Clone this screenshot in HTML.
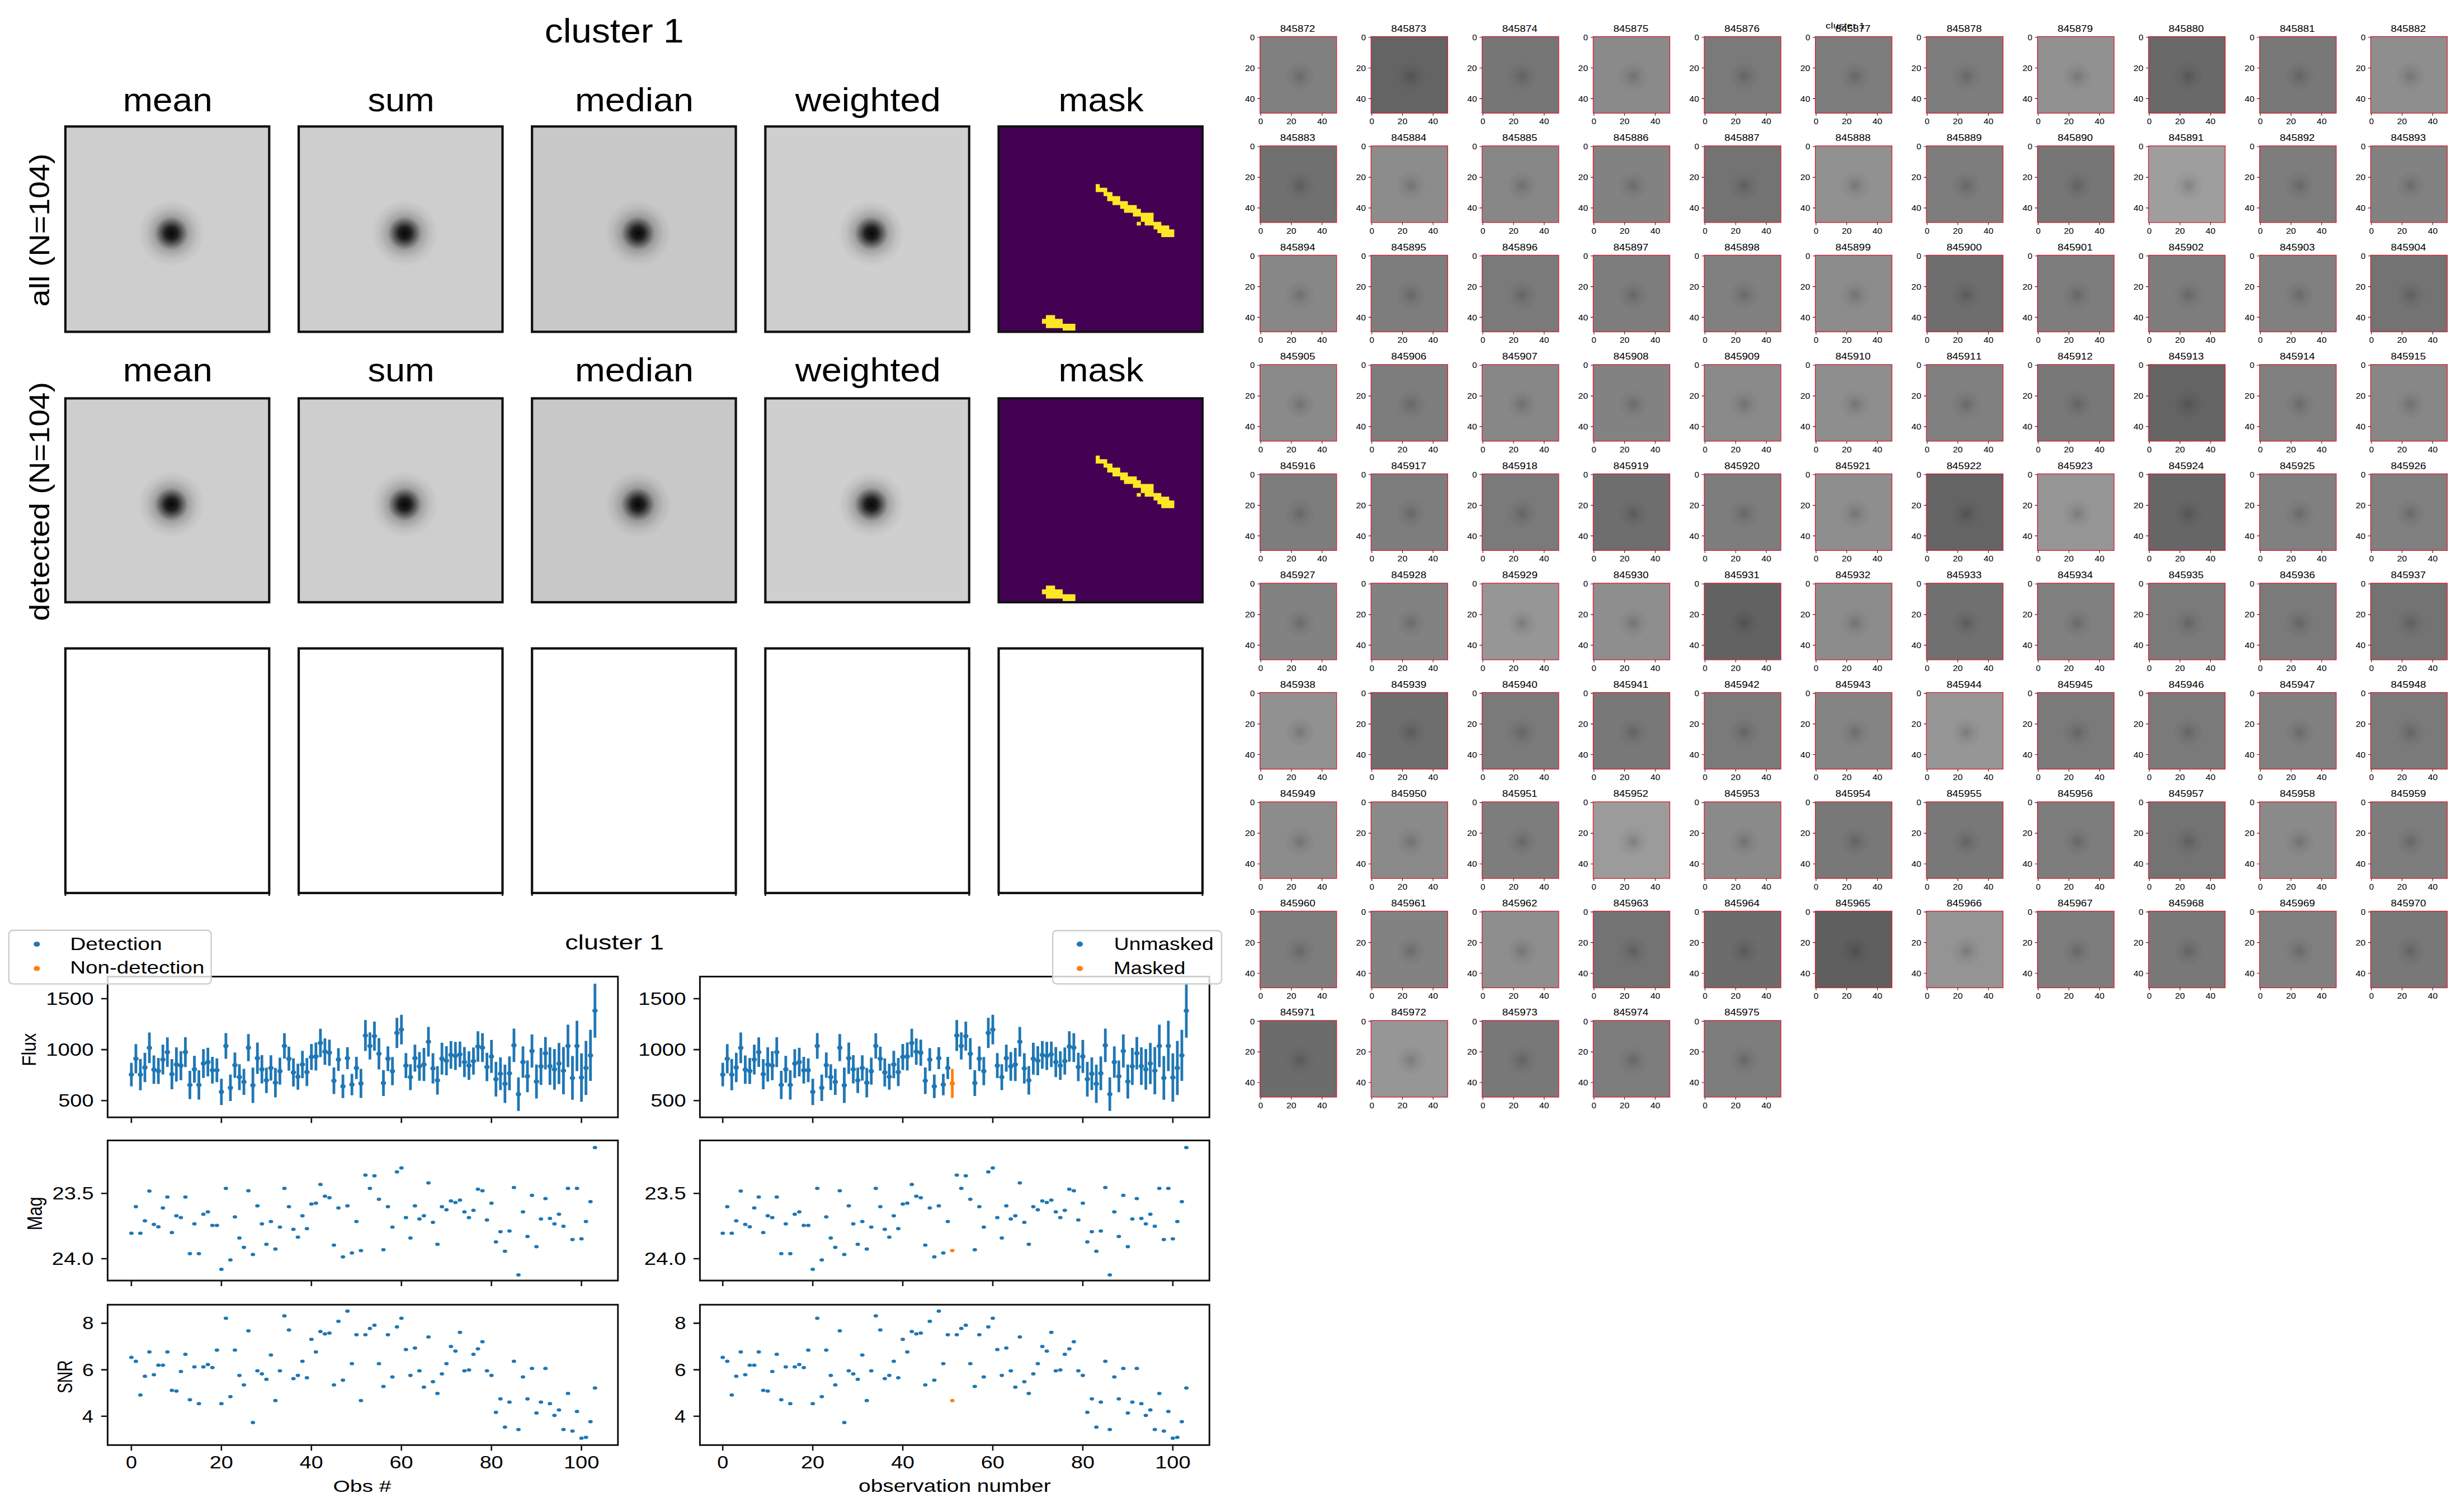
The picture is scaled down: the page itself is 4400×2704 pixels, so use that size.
<!DOCTYPE html><html><head><meta charset="utf-8"><style>html,body{margin:0;padding:0;background:#fff;overflow:hidden}svg{display:block}text{font-family:"Liberation Sans",sans-serif;font-kerning:none}</style></head><body>
<svg width="4400" height="2704" viewBox="0 0 4400 2704">
<rect width="4400" height="2704" fill="#fff"/>
<defs>
<radialGradient id="blob" cx="0.5" cy="0.5" r="0.5"><stop offset="0" stop-color="#000" stop-opacity="0.97"/><stop offset="0.18" stop-color="#000" stop-opacity="0.85"/><stop offset="0.33" stop-color="#000" stop-opacity="0.55"/><stop offset="0.5" stop-color="#000" stop-opacity="0.22"/><stop offset="0.75" stop-color="#000" stop-opacity="0.07"/><stop offset="1" stop-color="#000" stop-opacity="0"/></radialGradient>
<radialGradient id="tblob" cx="0.5" cy="0.5" r="0.5"><stop offset="0" stop-color="#000" stop-opacity="0.18"/><stop offset="0.5" stop-color="#000" stop-opacity="0.06"/><stop offset="1" stop-color="#000" stop-opacity="0"/></radialGradient>
</defs>
<text transform="translate(973.7,75.75) scale(1.0884,1)" font-size="60.52">cluster 1</text>
<text transform="translate(219.7,199) scale(1.0783,1)" font-size="59.33">mean</text>
<rect x="116.9" y="226.2" width="364.4" height="367.2" fill="rgb(206,206,206)"/>
<circle cx="306.39" cy="417.14" r="60" fill="url(#blob)"/>
<rect x="116.9" y="226.2" width="364.4" height="367.2" fill="none" stroke="#111" stroke-width="4.2"/>
<text transform="translate(657.41,199) scale(1.0648,1)" font-size="59.33">sum</text>
<rect x="534.05" y="226.2" width="364.4" height="367.2" fill="rgb(206,206,206)"/>
<circle cx="723.54" cy="417.14" r="60" fill="url(#blob)"/>
<rect x="534.05" y="226.2" width="364.4" height="367.2" fill="none" stroke="#111" stroke-width="4.2"/>
<text transform="translate(1027.95,199) scale(1.0823,1)" font-size="59.77">median</text>
<rect x="951.2" y="226.2" width="364.4" height="367.2" fill="rgb(200,200,200)"/>
<circle cx="1140.69" cy="417.14" r="60" fill="url(#blob)"/>
<rect x="951.2" y="226.2" width="364.4" height="367.2" fill="none" stroke="#111" stroke-width="4.2"/>
<text transform="translate(1421.82,199) scale(1.0866,1)" font-size="59.77">weighted</text>
<rect x="1368.35" y="226.2" width="364.4" height="367.2" fill="rgb(207,207,207)"/>
<circle cx="1557.84" cy="417.14" r="60" fill="url(#blob)"/>
<rect x="1368.35" y="226.2" width="364.4" height="367.2" fill="none" stroke="#111" stroke-width="4.2"/>
<text transform="translate(1892.57,199) scale(1.0641,1)" font-size="59.77">mask</text>
<rect x="1785.5" y="226.2" width="364.4" height="367.2" fill="#440154"/>
<path d="M1959.08 329.34H1966.22V343.53H1959.08ZM1966.22 335.79H1979.54V343.53H1966.22ZM1973.1 343.53H1989V350.83H1973.1ZM1979.54 350.83H2002.75V359.86H1979.54ZM1989 359.86H2016.51V366.74H1989ZM2002.75 366.74H2032.41V373.61H2002.75ZM2009.63 373.61H2039.72V380.49H2009.63ZM2025.53 380.49H2062.5V387.37H2025.53ZM2039.72 387.37H2062.5V396.82H2039.72ZM2032.41 396.82H2039.72V403.27H2032.41ZM2046.59 396.82H2076.25V403.27H2046.59ZM2062.5 403.27H2090.43V410.15H2062.5ZM2069.37 410.15H2099.46V417.02H2069.37ZM2076.25 417.02H2099.46V423.9H2076.25ZM1869.99 563.41H1886.32V570.23H1869.99ZM1862.92 570.23H1899.98V579.01H1862.92ZM1869.99 579.01H1899.98V586.81H1869.99ZM1899.98 579.01H1922.65V591.69H1899.98Z" fill="#fde725"/>
<rect x="1785.5" y="226.2" width="364.4" height="367.2" fill="none" stroke="#111" stroke-width="4.2"/>
<text transform="translate(219.7,682.4) scale(1.0783,1)" font-size="59.33">mean</text>
<rect x="116.9" y="712.4" width="364.4" height="364.6" fill="rgb(206,206,206)"/>
<circle cx="306.39" cy="901.99" r="60" fill="url(#blob)"/>
<rect x="116.9" y="712.4" width="364.4" height="364.6" fill="none" stroke="#111" stroke-width="4.2"/>
<text transform="translate(657.41,682.4) scale(1.0648,1)" font-size="59.33">sum</text>
<rect x="534.05" y="712.4" width="364.4" height="364.6" fill="rgb(206,206,206)"/>
<circle cx="723.54" cy="901.99" r="60" fill="url(#blob)"/>
<rect x="534.05" y="712.4" width="364.4" height="364.6" fill="none" stroke="#111" stroke-width="4.2"/>
<text transform="translate(1027.95,682.4) scale(1.0823,1)" font-size="59.77">median</text>
<rect x="951.2" y="712.4" width="364.4" height="364.6" fill="rgb(200,200,200)"/>
<circle cx="1140.69" cy="901.99" r="60" fill="url(#blob)"/>
<rect x="951.2" y="712.4" width="364.4" height="364.6" fill="none" stroke="#111" stroke-width="4.2"/>
<text transform="translate(1421.82,682.4) scale(1.0866,1)" font-size="59.77">weighted</text>
<rect x="1368.35" y="712.4" width="364.4" height="364.6" fill="rgb(207,207,207)"/>
<circle cx="1557.84" cy="901.99" r="60" fill="url(#blob)"/>
<rect x="1368.35" y="712.4" width="364.4" height="364.6" fill="none" stroke="#111" stroke-width="4.2"/>
<text transform="translate(1892.57,682.4) scale(1.0641,1)" font-size="59.77">mask</text>
<rect x="1785.5" y="712.4" width="364.4" height="364.6" fill="#440154"/>
<path d="M1959.08 814.81H1966.22V828.89H1959.08ZM1966.22 821.21H1979.54V828.89H1966.22ZM1973.1 828.89H1989V836.15H1973.1ZM1979.54 836.15H2002.75V845.11H1979.54ZM1989 845.11H2016.51V851.94H1989ZM2002.75 851.94H2032.41V858.77H2002.75ZM2009.63 858.77H2039.72V865.6H2009.63ZM2025.53 865.6H2062.5V872.42H2025.53ZM2039.72 872.42H2062.5V881.81H2039.72ZM2032.41 881.81H2039.72V888.22H2032.41ZM2046.59 881.81H2076.25V888.22H2046.59ZM2062.5 888.22H2090.43V895.04H2062.5ZM2069.37 895.04H2099.46V901.87H2069.37ZM2076.25 901.87H2099.46V908.7H2076.25ZM1869.99 1047.22H1886.32V1054H1869.99ZM1862.92 1054H1899.98V1062.71H1862.92ZM1869.99 1062.71H1899.98V1070.46H1869.99ZM1899.98 1062.71H1922.65V1075.3H1899.98Z" fill="#fde725"/>
<rect x="1785.5" y="712.4" width="364.4" height="364.6" fill="none" stroke="#111" stroke-width="4.2"/>
<rect x="116.9" y="1159.6" width="364.4" height="437.4" fill="none" stroke="#111" stroke-width="4.2"/>
<path d="M116.9 1597V1602M481.3 1597V1602" stroke="#111" stroke-width="3"/>
<rect x="534.05" y="1159.6" width="364.4" height="437.4" fill="none" stroke="#111" stroke-width="4.2"/>
<path d="M534.05 1597V1602M898.45 1597V1602" stroke="#111" stroke-width="3"/>
<rect x="951.2" y="1159.6" width="364.4" height="437.4" fill="none" stroke="#111" stroke-width="4.2"/>
<path d="M951.2 1597V1602M1315.6 1597V1602" stroke="#111" stroke-width="3"/>
<rect x="1368.35" y="1159.6" width="364.4" height="437.4" fill="none" stroke="#111" stroke-width="4.2"/>
<path d="M1368.35 1597V1602M1732.75 1597V1602" stroke="#111" stroke-width="3"/>
<rect x="1785.5" y="1159.6" width="364.4" height="437.4" fill="none" stroke="#111" stroke-width="4.2"/>
<path d="M1785.5 1597V1602M2149.9 1597V1602" stroke="#111" stroke-width="3"/>
<g transform="translate(87.6,0) rotate(-90)"><text transform="translate(-548.26,0) scale(1.1267,1)" font-size="49.41">all (N=104)</text></g>
<g transform="translate(87.6,0) rotate(-90)"><text transform="translate(-1110.51,0) scale(1.0972,1)" font-size="50.23">detected (N=104)</text></g>
<path d="M234.9 1900.73V1942.85M242.95 1867.24V1919.42M250.99 1893.79V1949.78M259.04 1882.8V1935.32M267.09 1846.51V1901.32M275.13 1887.6V1938.18M283.18 1892.05V1938.55M291.23 1868.3V1921.41M299.28 1855.35V1907.88M307.32 1893.99V1948.06M315.37 1873.08V1934.33M323.42 1879.77V1931.63M331.46 1854.95V1908.27M339.51 1914.92V1965.5M347.56 1888.36V1936.34M355.61 1913.99V1966.43M363.65 1876.29V1927.66M371.7 1873.65V1925.03M379.75 1890.11V1937.82M387.79 1892.73V1935.2M395.84 1929.21V1976.16M403.89 1847.48V1893.45M411.93 1921.85V1968.88M419.98 1882.28V1927.41M428.03 1903.16V1949.39M436.08 1911.55V1958.09M444.12 1849.37V1897.77M452.17 1909.14V1972.6M460.22 1864.39V1920.43M468.26 1887.11V1937.59M476.31 1909.25V1954.82M484.36 1887.36V1932.42M492.4 1909.86V1962.52M500.45 1891.44V1939.7M508.5 1847.75V1893.17M516.55 1871.8V1914.86M524.59 1892.77V1943.09M532.64 1902.29V1948.78M540.69 1879.24V1928.16M548.73 1892V1942.29M556.78 1867.1V1913.39M564.83 1864.18V1914.43M572.87 1839.76V1890.57M580.92 1856.93V1904.32M588.97 1859.26V1905.92M597.01 1909.08V1956.39M605.06 1874.5V1915.21M613.11 1921.84V1963.8M621.16 1872.82V1912M629.2 1920.42V1958.68M637.25 1889.99V1929.79M645.3 1911.51V1963.58M653.34 1824.21V1879.48M661.39 1846.18V1894.75M669.44 1826.91V1879.07M677.49 1856.62V1912.45M685.53 1913.69V1960.05M693.58 1871.22V1915.44M701.63 1890.29V1940.84M709.67 1820.16V1874.24M717.72 1814.71V1867.8M725.77 1883.33V1928.07M733.81 1903.16V1949.39M741.86 1868.34V1916.48M749.91 1881.56V1932.66M757.96 1874.06V1933.35M766 1836.5V1889.51M774.05 1883.62V1937.8M782.1 1906.48V1957.59M790.14 1864.82V1921.84M798.19 1871.03V1922.9M806.24 1861.77V1911.15M814.28 1863.22V1913.5M822.33 1862.66V1908.35M830.38 1872.49V1926.19M838.43 1880.06V1931.34M846.47 1873.29V1921.83M854.52 1844.29V1898.72M862.57 1847.79V1899.35M870.61 1882.87V1933.59M878.66 1859.76V1918.85M886.71 1898.88V1960.93M894.75 1890.95V1949.57M902.8 1903.92V1972.51M910.85 1889.15V1949.82M918.89 1839.56V1899.27M926.94 1926.82V1986.64M934.99 1871.21V1927.47M943.04 1896.44V1953.15M951.08 1849.98V1909.29M959.13 1903.87V1964.39M967.18 1874.09V1940.13M975.22 1854.56V1912.58M983.27 1872.91V1940.18M991.32 1875.94V1948.76M999.37 1865.14V1938.8M1007.41 1872.62V1956.91M1015.46 1832.54V1908.39M1023.51 1888.61V1966.87M1031.55 1825.55V1915.38M1039.6 1883.76V1970.26M1047.65 1861.57V1958.21M1055.69 1841.77V1933.05M1063.74 1759.25V1855.8" stroke="#1f77b4" stroke-width="4.8" fill="none"/>
<ellipse cx="234.9" cy="1921.79" rx="4.8" ry="4.0" fill="#1f77b4"/>
<ellipse cx="234.9" cy="2205.61" rx="4.0" ry="3.0" fill="#1f77b4"/>
<ellipse cx="234.9" cy="2427.57" rx="4.0" ry="3.0" fill="#1f77b4"/>
<ellipse cx="242.95" cy="1893.33" rx="4.8" ry="4.0" fill="#1f77b4"/>
<ellipse cx="242.95" cy="2157.94" rx="4.0" ry="3.0" fill="#1f77b4"/>
<ellipse cx="242.95" cy="2434.58" rx="4.0" ry="3.0" fill="#1f77b4"/>
<ellipse cx="250.99" cy="1921.79" rx="4.8" ry="4.0" fill="#1f77b4"/>
<ellipse cx="250.99" cy="2205.61" rx="4.0" ry="3.0" fill="#1f77b4"/>
<ellipse cx="250.99" cy="2494.86" rx="4.0" ry="3.0" fill="#1f77b4"/>
<ellipse cx="259.04" cy="1909.06" rx="4.8" ry="4.0" fill="#1f77b4"/>
<ellipse cx="259.04" cy="2183.18" rx="4.0" ry="3.0" fill="#1f77b4"/>
<ellipse cx="259.04" cy="2461.21" rx="4.0" ry="3.0" fill="#1f77b4"/>
<ellipse cx="267.09" cy="1873.91" rx="4.8" ry="4.0" fill="#1f77b4"/>
<ellipse cx="267.09" cy="2129.91" rx="4.0" ry="3.0" fill="#1f77b4"/>
<ellipse cx="267.09" cy="2417.76" rx="4.0" ry="3.0" fill="#1f77b4"/>
<ellipse cx="275.13" cy="1912.89" rx="4.8" ry="4.0" fill="#1f77b4"/>
<ellipse cx="275.13" cy="2189.72" rx="4.0" ry="3.0" fill="#1f77b4"/>
<ellipse cx="275.13" cy="2458.41" rx="4.0" ry="3.0" fill="#1f77b4"/>
<ellipse cx="283.18" cy="1915.3" rx="4.8" ry="4.0" fill="#1f77b4"/>
<ellipse cx="283.18" cy="2193.93" rx="4.0" ry="3.0" fill="#1f77b4"/>
<ellipse cx="283.18" cy="2441.59" rx="4.0" ry="3.0" fill="#1f77b4"/>
<ellipse cx="291.23" cy="1894.85" rx="4.8" ry="4.0" fill="#1f77b4"/>
<ellipse cx="291.23" cy="2160.28" rx="4.0" ry="3.0" fill="#1f77b4"/>
<ellipse cx="291.23" cy="2441.59" rx="4.0" ry="3.0" fill="#1f77b4"/>
<ellipse cx="299.28" cy="1881.61" rx="4.8" ry="4.0" fill="#1f77b4"/>
<ellipse cx="299.28" cy="2140.65" rx="4.0" ry="3.0" fill="#1f77b4"/>
<ellipse cx="299.28" cy="2417.76" rx="4.0" ry="3.0" fill="#1f77b4"/>
<ellipse cx="307.32" cy="1921.02" rx="4.8" ry="4.0" fill="#1f77b4"/>
<ellipse cx="307.32" cy="2204.21" rx="4.0" ry="3.0" fill="#1f77b4"/>
<ellipse cx="307.32" cy="2486.45" rx="4.0" ry="3.0" fill="#1f77b4"/>
<ellipse cx="315.37" cy="1903.7" rx="4.8" ry="4.0" fill="#1f77b4"/>
<ellipse cx="315.37" cy="2174.3" rx="4.0" ry="3.0" fill="#1f77b4"/>
<ellipse cx="315.37" cy="2487.85" rx="4.0" ry="3.0" fill="#1f77b4"/>
<ellipse cx="323.42" cy="1905.7" rx="4.8" ry="4.0" fill="#1f77b4"/>
<ellipse cx="323.42" cy="2177.57" rx="4.0" ry="3.0" fill="#1f77b4"/>
<ellipse cx="323.42" cy="2452.8" rx="4.0" ry="3.0" fill="#1f77b4"/>
<ellipse cx="331.46" cy="1881.61" rx="4.8" ry="4.0" fill="#1f77b4"/>
<ellipse cx="331.46" cy="2140.65" rx="4.0" ry="3.0" fill="#1f77b4"/>
<ellipse cx="331.46" cy="2421.96" rx="4.0" ry="3.0" fill="#1f77b4"/>
<ellipse cx="339.51" cy="1940.21" rx="4.8" ry="4.0" fill="#1f77b4"/>
<ellipse cx="339.51" cy="2242.06" rx="4.0" ry="3.0" fill="#1f77b4"/>
<ellipse cx="339.51" cy="2503.27" rx="4.0" ry="3.0" fill="#1f77b4"/>
<ellipse cx="347.56" cy="1912.35" rx="4.8" ry="4.0" fill="#1f77b4"/>
<ellipse cx="347.56" cy="2188.79" rx="4.0" ry="3.0" fill="#1f77b4"/>
<ellipse cx="347.56" cy="2444.39" rx="4.0" ry="3.0" fill="#1f77b4"/>
<ellipse cx="355.61" cy="1940.21" rx="4.8" ry="4.0" fill="#1f77b4"/>
<ellipse cx="355.61" cy="2242.06" rx="4.0" ry="3.0" fill="#1f77b4"/>
<ellipse cx="355.61" cy="2510.28" rx="4.0" ry="3.0" fill="#1f77b4"/>
<ellipse cx="363.65" cy="1901.97" rx="4.8" ry="4.0" fill="#1f77b4"/>
<ellipse cx="363.65" cy="2171.5" rx="4.0" ry="3.0" fill="#1f77b4"/>
<ellipse cx="363.65" cy="2444.39" rx="4.0" ry="3.0" fill="#1f77b4"/>
<ellipse cx="371.7" cy="1899.34" rx="4.8" ry="4.0" fill="#1f77b4"/>
<ellipse cx="371.7" cy="2167.29" rx="4.0" ry="3.0" fill="#1f77b4"/>
<ellipse cx="371.7" cy="2440.19" rx="4.0" ry="3.0" fill="#1f77b4"/>
<ellipse cx="379.75" cy="1913.97" rx="4.8" ry="4.0" fill="#1f77b4"/>
<ellipse cx="379.75" cy="2191.59" rx="4.0" ry="3.0" fill="#1f77b4"/>
<ellipse cx="379.75" cy="2445.79" rx="4.0" ry="3.0" fill="#1f77b4"/>
<ellipse cx="387.79" cy="1913.97" rx="4.8" ry="4.0" fill="#1f77b4"/>
<ellipse cx="387.79" cy="2191.59" rx="4.0" ry="3.0" fill="#1f77b4"/>
<ellipse cx="387.79" cy="2414.49" rx="4.0" ry="3.0" fill="#1f77b4"/>
<ellipse cx="395.84" cy="1952.68" rx="4.8" ry="4.0" fill="#1f77b4"/>
<ellipse cx="395.84" cy="2270.09" rx="4.0" ry="3.0" fill="#1f77b4"/>
<ellipse cx="395.84" cy="2510.28" rx="4.0" ry="3.0" fill="#1f77b4"/>
<ellipse cx="403.89" cy="1870.46" rx="4.8" ry="4.0" fill="#1f77b4"/>
<ellipse cx="403.89" cy="2125.23" rx="4.0" ry="3.0" fill="#1f77b4"/>
<ellipse cx="403.89" cy="2357.48" rx="4.0" ry="3.0" fill="#1f77b4"/>
<ellipse cx="411.93" cy="1945.37" rx="4.8" ry="4.0" fill="#1f77b4"/>
<ellipse cx="411.93" cy="2253.27" rx="4.0" ry="3.0" fill="#1f77b4"/>
<ellipse cx="411.93" cy="2497.66" rx="4.0" ry="3.0" fill="#1f77b4"/>
<ellipse cx="419.98" cy="1904.85" rx="4.8" ry="4.0" fill="#1f77b4"/>
<ellipse cx="419.98" cy="2176.17" rx="4.0" ry="3.0" fill="#1f77b4"/>
<ellipse cx="419.98" cy="2414.49" rx="4.0" ry="3.0" fill="#1f77b4"/>
<ellipse cx="428.03" cy="1926.28" rx="4.8" ry="4.0" fill="#1f77b4"/>
<ellipse cx="428.03" cy="2214.02" rx="4.0" ry="3.0" fill="#1f77b4"/>
<ellipse cx="428.03" cy="2459.81" rx="4.0" ry="3.0" fill="#1f77b4"/>
<ellipse cx="436.08" cy="1934.82" rx="4.8" ry="4.0" fill="#1f77b4"/>
<ellipse cx="436.08" cy="2230.84" rx="4.0" ry="3.0" fill="#1f77b4"/>
<ellipse cx="436.08" cy="2476.64" rx="4.0" ry="3.0" fill="#1f77b4"/>
<ellipse cx="444.12" cy="1873.57" rx="4.8" ry="4.0" fill="#1f77b4"/>
<ellipse cx="444.12" cy="2129.44" rx="4.0" ry="3.0" fill="#1f77b4"/>
<ellipse cx="444.12" cy="2379.91" rx="4.0" ry="3.0" fill="#1f77b4"/>
<ellipse cx="452.17" cy="1940.87" rx="4.8" ry="4.0" fill="#1f77b4"/>
<ellipse cx="452.17" cy="2243.46" rx="4.0" ry="3.0" fill="#1f77b4"/>
<ellipse cx="452.17" cy="2543.93" rx="4.0" ry="3.0" fill="#1f77b4"/>
<ellipse cx="460.22" cy="1892.41" rx="4.8" ry="4.0" fill="#1f77b4"/>
<ellipse cx="460.22" cy="2156.54" rx="4.0" ry="3.0" fill="#1f77b4"/>
<ellipse cx="460.22" cy="2451.4" rx="4.0" ry="3.0" fill="#1f77b4"/>
<ellipse cx="468.26" cy="1912.35" rx="4.8" ry="4.0" fill="#1f77b4"/>
<ellipse cx="468.26" cy="2188.79" rx="4.0" ry="3.0" fill="#1f77b4"/>
<ellipse cx="468.26" cy="2457.01" rx="4.0" ry="3.0" fill="#1f77b4"/>
<ellipse cx="476.31" cy="1932.04" rx="4.8" ry="4.0" fill="#1f77b4"/>
<ellipse cx="476.31" cy="2225.23" rx="4.0" ry="3.0" fill="#1f77b4"/>
<ellipse cx="476.31" cy="2466.82" rx="4.0" ry="3.0" fill="#1f77b4"/>
<ellipse cx="484.36" cy="1909.89" rx="4.8" ry="4.0" fill="#1f77b4"/>
<ellipse cx="484.36" cy="2184.58" rx="4.0" ry="3.0" fill="#1f77b4"/>
<ellipse cx="484.36" cy="2423.36" rx="4.0" ry="3.0" fill="#1f77b4"/>
<ellipse cx="492.4" cy="1936.19" rx="4.8" ry="4.0" fill="#1f77b4"/>
<ellipse cx="492.4" cy="2233.64" rx="4.0" ry="3.0" fill="#1f77b4"/>
<ellipse cx="492.4" cy="2504.67" rx="4.0" ry="3.0" fill="#1f77b4"/>
<ellipse cx="500.45" cy="1915.57" rx="4.8" ry="4.0" fill="#1f77b4"/>
<ellipse cx="500.45" cy="2194.39" rx="4.0" ry="3.0" fill="#1f77b4"/>
<ellipse cx="500.45" cy="2451.4" rx="4.0" ry="3.0" fill="#1f77b4"/>
<ellipse cx="508.5" cy="1870.46" rx="4.8" ry="4.0" fill="#1f77b4"/>
<ellipse cx="508.5" cy="2125.23" rx="4.0" ry="3.0" fill="#1f77b4"/>
<ellipse cx="508.5" cy="2353.27" rx="4.0" ry="3.0" fill="#1f77b4"/>
<ellipse cx="516.55" cy="1893.33" rx="4.8" ry="4.0" fill="#1f77b4"/>
<ellipse cx="516.55" cy="2157.94" rx="4.0" ry="3.0" fill="#1f77b4"/>
<ellipse cx="516.55" cy="2378.5" rx="4.0" ry="3.0" fill="#1f77b4"/>
<ellipse cx="524.59" cy="1917.93" rx="4.8" ry="4.0" fill="#1f77b4"/>
<ellipse cx="524.59" cy="2198.6" rx="4.0" ry="3.0" fill="#1f77b4"/>
<ellipse cx="524.59" cy="2465.42" rx="4.0" ry="3.0" fill="#1f77b4"/>
<ellipse cx="532.64" cy="1925.54" rx="4.8" ry="4.0" fill="#1f77b4"/>
<ellipse cx="532.64" cy="2212.62" rx="4.0" ry="3.0" fill="#1f77b4"/>
<ellipse cx="532.64" cy="2459.81" rx="4.0" ry="3.0" fill="#1f77b4"/>
<ellipse cx="540.69" cy="1903.7" rx="4.8" ry="4.0" fill="#1f77b4"/>
<ellipse cx="540.69" cy="2174.3" rx="4.0" ry="3.0" fill="#1f77b4"/>
<ellipse cx="540.69" cy="2434.58" rx="4.0" ry="3.0" fill="#1f77b4"/>
<ellipse cx="548.73" cy="1917.15" rx="4.8" ry="4.0" fill="#1f77b4"/>
<ellipse cx="548.73" cy="2197.2" rx="4.0" ry="3.0" fill="#1f77b4"/>
<ellipse cx="548.73" cy="2464.02" rx="4.0" ry="3.0" fill="#1f77b4"/>
<ellipse cx="556.78" cy="1890.24" rx="4.8" ry="4.0" fill="#1f77b4"/>
<ellipse cx="556.78" cy="2153.27" rx="4.0" ry="3.0" fill="#1f77b4"/>
<ellipse cx="556.78" cy="2395.33" rx="4.0" ry="3.0" fill="#1f77b4"/>
<ellipse cx="564.83" cy="1889.3" rx="4.8" ry="4.0" fill="#1f77b4"/>
<ellipse cx="564.83" cy="2151.87" rx="4.0" ry="3.0" fill="#1f77b4"/>
<ellipse cx="564.83" cy="2417.76" rx="4.0" ry="3.0" fill="#1f77b4"/>
<ellipse cx="572.87" cy="1865.17" rx="4.8" ry="4.0" fill="#1f77b4"/>
<ellipse cx="572.87" cy="2118.22" rx="4.0" ry="3.0" fill="#1f77b4"/>
<ellipse cx="572.87" cy="2381.31" rx="4.0" ry="3.0" fill="#1f77b4"/>
<ellipse cx="580.92" cy="1880.63" rx="4.8" ry="4.0" fill="#1f77b4"/>
<ellipse cx="580.92" cy="2139.25" rx="4.0" ry="3.0" fill="#1f77b4"/>
<ellipse cx="580.92" cy="2385.51" rx="4.0" ry="3.0" fill="#1f77b4"/>
<ellipse cx="588.97" cy="1882.59" rx="4.8" ry="4.0" fill="#1f77b4"/>
<ellipse cx="588.97" cy="2142.06" rx="4.0" ry="3.0" fill="#1f77b4"/>
<ellipse cx="588.97" cy="2384.11" rx="4.0" ry="3.0" fill="#1f77b4"/>
<ellipse cx="597.01" cy="1932.74" rx="4.8" ry="4.0" fill="#1f77b4"/>
<ellipse cx="597.01" cy="2226.64" rx="4.0" ry="3.0" fill="#1f77b4"/>
<ellipse cx="597.01" cy="2476.64" rx="4.0" ry="3.0" fill="#1f77b4"/>
<ellipse cx="605.06" cy="1894.85" rx="4.8" ry="4.0" fill="#1f77b4"/>
<ellipse cx="605.06" cy="2160.28" rx="4.0" ry="3.0" fill="#1f77b4"/>
<ellipse cx="605.06" cy="2363.08" rx="4.0" ry="3.0" fill="#1f77b4"/>
<ellipse cx="613.11" cy="1942.82" rx="4.8" ry="4.0" fill="#1f77b4"/>
<ellipse cx="613.11" cy="2247.66" rx="4.0" ry="3.0" fill="#1f77b4"/>
<ellipse cx="613.11" cy="2468.22" rx="4.0" ry="3.0" fill="#1f77b4"/>
<ellipse cx="621.16" cy="1892.41" rx="4.8" ry="4.0" fill="#1f77b4"/>
<ellipse cx="621.16" cy="2156.54" rx="4.0" ry="3.0" fill="#1f77b4"/>
<ellipse cx="621.16" cy="2344.86" rx="4.0" ry="3.0" fill="#1f77b4"/>
<ellipse cx="629.2" cy="1939.55" rx="4.8" ry="4.0" fill="#1f77b4"/>
<ellipse cx="629.2" cy="2240.65" rx="4.0" ry="3.0" fill="#1f77b4"/>
<ellipse cx="629.2" cy="2438.79" rx="4.0" ry="3.0" fill="#1f77b4"/>
<ellipse cx="637.25" cy="1909.89" rx="4.8" ry="4.0" fill="#1f77b4"/>
<ellipse cx="637.25" cy="2184.58" rx="4.0" ry="3.0" fill="#1f77b4"/>
<ellipse cx="637.25" cy="2386.92" rx="4.0" ry="3.0" fill="#1f77b4"/>
<ellipse cx="645.3" cy="1937.55" rx="4.8" ry="4.0" fill="#1f77b4"/>
<ellipse cx="645.3" cy="2236.45" rx="4.0" ry="3.0" fill="#1f77b4"/>
<ellipse cx="645.3" cy="2504.67" rx="4.0" ry="3.0" fill="#1f77b4"/>
<ellipse cx="653.34" cy="1851.84" rx="4.8" ry="4.0" fill="#1f77b4"/>
<ellipse cx="653.34" cy="2101.4" rx="4.0" ry="3.0" fill="#1f77b4"/>
<ellipse cx="653.34" cy="2386.92" rx="4.0" ry="3.0" fill="#1f77b4"/>
<ellipse cx="661.39" cy="1870.46" rx="4.8" ry="4.0" fill="#1f77b4"/>
<ellipse cx="661.39" cy="2125.23" rx="4.0" ry="3.0" fill="#1f77b4"/>
<ellipse cx="661.39" cy="2375.7" rx="4.0" ry="3.0" fill="#1f77b4"/>
<ellipse cx="669.44" cy="1852.99" rx="4.8" ry="4.0" fill="#1f77b4"/>
<ellipse cx="669.44" cy="2102.8" rx="4.0" ry="3.0" fill="#1f77b4"/>
<ellipse cx="669.44" cy="2370.09" rx="4.0" ry="3.0" fill="#1f77b4"/>
<ellipse cx="677.49" cy="1884.54" rx="4.8" ry="4.0" fill="#1f77b4"/>
<ellipse cx="677.49" cy="2144.86" rx="4.0" ry="3.0" fill="#1f77b4"/>
<ellipse cx="677.49" cy="2438.79" rx="4.0" ry="3.0" fill="#1f77b4"/>
<ellipse cx="685.53" cy="1936.87" rx="4.8" ry="4.0" fill="#1f77b4"/>
<ellipse cx="685.53" cy="2235.05" rx="4.0" ry="3.0" fill="#1f77b4"/>
<ellipse cx="685.53" cy="2479.44" rx="4.0" ry="3.0" fill="#1f77b4"/>
<ellipse cx="693.58" cy="1893.33" rx="4.8" ry="4.0" fill="#1f77b4"/>
<ellipse cx="693.58" cy="2157.94" rx="4.0" ry="3.0" fill="#1f77b4"/>
<ellipse cx="693.58" cy="2386.92" rx="4.0" ry="3.0" fill="#1f77b4"/>
<ellipse cx="701.63" cy="1915.57" rx="4.8" ry="4.0" fill="#1f77b4"/>
<ellipse cx="701.63" cy="2194.39" rx="4.0" ry="3.0" fill="#1f77b4"/>
<ellipse cx="701.63" cy="2462.62" rx="4.0" ry="3.0" fill="#1f77b4"/>
<ellipse cx="709.67" cy="1847.2" rx="4.8" ry="4.0" fill="#1f77b4"/>
<ellipse cx="709.67" cy="2095.79" rx="4.0" ry="3.0" fill="#1f77b4"/>
<ellipse cx="709.67" cy="2372.9" rx="4.0" ry="3.0" fill="#1f77b4"/>
<ellipse cx="717.72" cy="1841.25" rx="4.8" ry="4.0" fill="#1f77b4"/>
<ellipse cx="717.72" cy="2088.79" rx="4.0" ry="3.0" fill="#1f77b4"/>
<ellipse cx="717.72" cy="2357.48" rx="4.0" ry="3.0" fill="#1f77b4"/>
<ellipse cx="725.77" cy="1905.7" rx="4.8" ry="4.0" fill="#1f77b4"/>
<ellipse cx="725.77" cy="2177.57" rx="4.0" ry="3.0" fill="#1f77b4"/>
<ellipse cx="725.77" cy="2413.55" rx="4.0" ry="3.0" fill="#1f77b4"/>
<ellipse cx="733.81" cy="1926.28" rx="4.8" ry="4.0" fill="#1f77b4"/>
<ellipse cx="733.81" cy="2214.02" rx="4.0" ry="3.0" fill="#1f77b4"/>
<ellipse cx="733.81" cy="2459.81" rx="4.0" ry="3.0" fill="#1f77b4"/>
<ellipse cx="741.86" cy="1892.41" rx="4.8" ry="4.0" fill="#1f77b4"/>
<ellipse cx="741.86" cy="2156.54" rx="4.0" ry="3.0" fill="#1f77b4"/>
<ellipse cx="741.86" cy="2410.75" rx="4.0" ry="3.0" fill="#1f77b4"/>
<ellipse cx="749.91" cy="1907.11" rx="4.8" ry="4.0" fill="#1f77b4"/>
<ellipse cx="749.91" cy="2179.91" rx="4.0" ry="3.0" fill="#1f77b4"/>
<ellipse cx="749.91" cy="2451.4" rx="4.0" ry="3.0" fill="#1f77b4"/>
<ellipse cx="757.96" cy="1903.7" rx="4.8" ry="4.0" fill="#1f77b4"/>
<ellipse cx="757.96" cy="2174.3" rx="4.0" ry="3.0" fill="#1f77b4"/>
<ellipse cx="757.96" cy="2480.84" rx="4.0" ry="3.0" fill="#1f77b4"/>
<ellipse cx="766" cy="1863.01" rx="4.8" ry="4.0" fill="#1f77b4"/>
<ellipse cx="766" cy="2115.42" rx="4.0" ry="3.0" fill="#1f77b4"/>
<ellipse cx="766" cy="2391.12" rx="4.0" ry="3.0" fill="#1f77b4"/>
<ellipse cx="774.05" cy="1910.71" rx="4.8" ry="4.0" fill="#1f77b4"/>
<ellipse cx="774.05" cy="2185.98" rx="4.0" ry="3.0" fill="#1f77b4"/>
<ellipse cx="774.05" cy="2471.03" rx="4.0" ry="3.0" fill="#1f77b4"/>
<ellipse cx="782.1" cy="1932.04" rx="4.8" ry="4.0" fill="#1f77b4"/>
<ellipse cx="782.1" cy="2225.23" rx="4.0" ry="3.0" fill="#1f77b4"/>
<ellipse cx="782.1" cy="2492.06" rx="4.0" ry="3.0" fill="#1f77b4"/>
<ellipse cx="790.14" cy="1893.33" rx="4.8" ry="4.0" fill="#1f77b4"/>
<ellipse cx="790.14" cy="2157.94" rx="4.0" ry="3.0" fill="#1f77b4"/>
<ellipse cx="790.14" cy="2457.01" rx="4.0" ry="3.0" fill="#1f77b4"/>
<ellipse cx="798.19" cy="1896.96" rx="4.8" ry="4.0" fill="#1f77b4"/>
<ellipse cx="798.19" cy="2163.55" rx="4.0" ry="3.0" fill="#1f77b4"/>
<ellipse cx="798.19" cy="2438.79" rx="4.0" ry="3.0" fill="#1f77b4"/>
<ellipse cx="806.24" cy="1886.46" rx="4.8" ry="4.0" fill="#1f77b4"/>
<ellipse cx="806.24" cy="2147.66" rx="4.0" ry="3.0" fill="#1f77b4"/>
<ellipse cx="806.24" cy="2407.94" rx="4.0" ry="3.0" fill="#1f77b4"/>
<ellipse cx="814.28" cy="1888.36" rx="4.8" ry="4.0" fill="#1f77b4"/>
<ellipse cx="814.28" cy="2150.47" rx="4.0" ry="3.0" fill="#1f77b4"/>
<ellipse cx="814.28" cy="2416.36" rx="4.0" ry="3.0" fill="#1f77b4"/>
<ellipse cx="822.33" cy="1885.5" rx="4.8" ry="4.0" fill="#1f77b4"/>
<ellipse cx="822.33" cy="2146.26" rx="4.0" ry="3.0" fill="#1f77b4"/>
<ellipse cx="822.33" cy="2382.71" rx="4.0" ry="3.0" fill="#1f77b4"/>
<ellipse cx="830.38" cy="1899.34" rx="4.8" ry="4.0" fill="#1f77b4"/>
<ellipse cx="830.38" cy="2167.29" rx="4.0" ry="3.0" fill="#1f77b4"/>
<ellipse cx="830.38" cy="2451.4" rx="4.0" ry="3.0" fill="#1f77b4"/>
<ellipse cx="838.43" cy="1905.7" rx="4.8" ry="4.0" fill="#1f77b4"/>
<ellipse cx="838.43" cy="2177.57" rx="4.0" ry="3.0" fill="#1f77b4"/>
<ellipse cx="838.43" cy="2450" rx="4.0" ry="3.0" fill="#1f77b4"/>
<ellipse cx="846.47" cy="1897.56" rx="4.8" ry="4.0" fill="#1f77b4"/>
<ellipse cx="846.47" cy="2164.49" rx="4.0" ry="3.0" fill="#1f77b4"/>
<ellipse cx="846.47" cy="2421.96" rx="4.0" ry="3.0" fill="#1f77b4"/>
<ellipse cx="854.52" cy="1871.51" rx="4.8" ry="4.0" fill="#1f77b4"/>
<ellipse cx="854.52" cy="2126.64" rx="4.0" ry="3.0" fill="#1f77b4"/>
<ellipse cx="854.52" cy="2412.15" rx="4.0" ry="3.0" fill="#1f77b4"/>
<ellipse cx="862.57" cy="1873.57" rx="4.8" ry="4.0" fill="#1f77b4"/>
<ellipse cx="862.57" cy="2129.44" rx="4.0" ry="3.0" fill="#1f77b4"/>
<ellipse cx="862.57" cy="2399.53" rx="4.0" ry="3.0" fill="#1f77b4"/>
<ellipse cx="870.61" cy="1908.23" rx="4.8" ry="4.0" fill="#1f77b4"/>
<ellipse cx="870.61" cy="2181.78" rx="4.0" ry="3.0" fill="#1f77b4"/>
<ellipse cx="870.61" cy="2451.4" rx="4.0" ry="3.0" fill="#1f77b4"/>
<ellipse cx="878.66" cy="1889.3" rx="4.8" ry="4.0" fill="#1f77b4"/>
<ellipse cx="878.66" cy="2151.87" rx="4.0" ry="3.0" fill="#1f77b4"/>
<ellipse cx="878.66" cy="2459.81" rx="4.0" ry="3.0" fill="#1f77b4"/>
<ellipse cx="886.71" cy="1929.91" rx="4.8" ry="4.0" fill="#1f77b4"/>
<ellipse cx="886.71" cy="2221.03" rx="4.0" ry="3.0" fill="#1f77b4"/>
<ellipse cx="886.71" cy="2525.7" rx="4.0" ry="3.0" fill="#1f77b4"/>
<ellipse cx="894.75" cy="1920.26" rx="4.8" ry="4.0" fill="#1f77b4"/>
<ellipse cx="894.75" cy="2202.8" rx="4.0" ry="3.0" fill="#1f77b4"/>
<ellipse cx="894.75" cy="2501.87" rx="4.0" ry="3.0" fill="#1f77b4"/>
<ellipse cx="902.8" cy="1938.22" rx="4.8" ry="4.0" fill="#1f77b4"/>
<ellipse cx="902.8" cy="2237.85" rx="4.0" ry="3.0" fill="#1f77b4"/>
<ellipse cx="902.8" cy="2552.34" rx="4.0" ry="3.0" fill="#1f77b4"/>
<ellipse cx="910.85" cy="1919.49" rx="4.8" ry="4.0" fill="#1f77b4"/>
<ellipse cx="910.85" cy="2201.4" rx="4.0" ry="3.0" fill="#1f77b4"/>
<ellipse cx="910.85" cy="2507.48" rx="4.0" ry="3.0" fill="#1f77b4"/>
<ellipse cx="918.89" cy="1869.42" rx="4.8" ry="4.0" fill="#1f77b4"/>
<ellipse cx="918.89" cy="2123.83" rx="4.0" ry="3.0" fill="#1f77b4"/>
<ellipse cx="918.89" cy="2434.58" rx="4.0" ry="3.0" fill="#1f77b4"/>
<ellipse cx="926.94" cy="1956.73" rx="4.8" ry="4.0" fill="#1f77b4"/>
<ellipse cx="926.94" cy="2279.91" rx="4.0" ry="3.0" fill="#1f77b4"/>
<ellipse cx="926.94" cy="2556.54" rx="4.0" ry="3.0" fill="#1f77b4"/>
<ellipse cx="934.99" cy="1899.34" rx="4.8" ry="4.0" fill="#1f77b4"/>
<ellipse cx="934.99" cy="2167.29" rx="4.0" ry="3.0" fill="#1f77b4"/>
<ellipse cx="934.99" cy="2462.62" rx="4.0" ry="3.0" fill="#1f77b4"/>
<ellipse cx="943.04" cy="1924.8" rx="4.8" ry="4.0" fill="#1f77b4"/>
<ellipse cx="943.04" cy="2211.21" rx="4.0" ry="3.0" fill="#1f77b4"/>
<ellipse cx="943.04" cy="2501.87" rx="4.0" ry="3.0" fill="#1f77b4"/>
<ellipse cx="951.08" cy="1879.63" rx="4.8" ry="4.0" fill="#1f77b4"/>
<ellipse cx="951.08" cy="2137.85" rx="4.0" ry="3.0" fill="#1f77b4"/>
<ellipse cx="951.08" cy="2447.2" rx="4.0" ry="3.0" fill="#1f77b4"/>
<ellipse cx="959.13" cy="1934.13" rx="4.8" ry="4.0" fill="#1f77b4"/>
<ellipse cx="959.13" cy="2229.44" rx="4.0" ry="3.0" fill="#1f77b4"/>
<ellipse cx="959.13" cy="2527.1" rx="4.0" ry="3.0" fill="#1f77b4"/>
<ellipse cx="967.18" cy="1907.11" rx="4.8" ry="4.0" fill="#1f77b4"/>
<ellipse cx="967.18" cy="2179.91" rx="4.0" ry="3.0" fill="#1f77b4"/>
<ellipse cx="967.18" cy="2507.48" rx="4.0" ry="3.0" fill="#1f77b4"/>
<ellipse cx="975.22" cy="1883.57" rx="4.8" ry="4.0" fill="#1f77b4"/>
<ellipse cx="975.22" cy="2143.46" rx="4.0" ry="3.0" fill="#1f77b4"/>
<ellipse cx="975.22" cy="2447.2" rx="4.0" ry="3.0" fill="#1f77b4"/>
<ellipse cx="983.27" cy="1906.55" rx="4.8" ry="4.0" fill="#1f77b4"/>
<ellipse cx="983.27" cy="2178.97" rx="4.0" ry="3.0" fill="#1f77b4"/>
<ellipse cx="983.27" cy="2510.28" rx="4.0" ry="3.0" fill="#1f77b4"/>
<ellipse cx="991.32" cy="1912.35" rx="4.8" ry="4.0" fill="#1f77b4"/>
<ellipse cx="991.32" cy="2188.79" rx="4.0" ry="3.0" fill="#1f77b4"/>
<ellipse cx="991.32" cy="2531.31" rx="4.0" ry="3.0" fill="#1f77b4"/>
<ellipse cx="999.37" cy="1901.97" rx="4.8" ry="4.0" fill="#1f77b4"/>
<ellipse cx="999.37" cy="2171.5" rx="4.0" ry="3.0" fill="#1f77b4"/>
<ellipse cx="999.37" cy="2521.5" rx="4.0" ry="3.0" fill="#1f77b4"/>
<ellipse cx="1007.41" cy="1914.77" rx="4.8" ry="4.0" fill="#1f77b4"/>
<ellipse cx="1007.41" cy="2192.99" rx="4.0" ry="3.0" fill="#1f77b4"/>
<ellipse cx="1007.41" cy="2556.54" rx="4.0" ry="3.0" fill="#1f77b4"/>
<ellipse cx="1015.46" cy="1870.46" rx="4.8" ry="4.0" fill="#1f77b4"/>
<ellipse cx="1015.46" cy="2125.23" rx="4.0" ry="3.0" fill="#1f77b4"/>
<ellipse cx="1015.46" cy="2492.06" rx="4.0" ry="3.0" fill="#1f77b4"/>
<ellipse cx="1023.51" cy="1927.74" rx="4.8" ry="4.0" fill="#1f77b4"/>
<ellipse cx="1023.51" cy="2216.82" rx="4.0" ry="3.0" fill="#1f77b4"/>
<ellipse cx="1023.51" cy="2559.35" rx="4.0" ry="3.0" fill="#1f77b4"/>
<ellipse cx="1031.55" cy="1870.46" rx="4.8" ry="4.0" fill="#1f77b4"/>
<ellipse cx="1031.55" cy="2125.23" rx="4.0" ry="3.0" fill="#1f77b4"/>
<ellipse cx="1031.55" cy="2524.3" rx="4.0" ry="3.0" fill="#1f77b4"/>
<ellipse cx="1039.6" cy="1927.01" rx="4.8" ry="4.0" fill="#1f77b4"/>
<ellipse cx="1039.6" cy="2215.42" rx="4.0" ry="3.0" fill="#1f77b4"/>
<ellipse cx="1039.6" cy="2571.96" rx="4.0" ry="3.0" fill="#1f77b4"/>
<ellipse cx="1047.65" cy="1909.89" rx="4.8" ry="4.0" fill="#1f77b4"/>
<ellipse cx="1047.65" cy="2184.58" rx="4.0" ry="3.0" fill="#1f77b4"/>
<ellipse cx="1047.65" cy="2570.56" rx="4.0" ry="3.0" fill="#1f77b4"/>
<ellipse cx="1055.69" cy="1887.41" rx="4.8" ry="4.0" fill="#1f77b4"/>
<ellipse cx="1055.69" cy="2149.07" rx="4.0" ry="3.0" fill="#1f77b4"/>
<ellipse cx="1055.69" cy="2542.52" rx="4.0" ry="3.0" fill="#1f77b4"/>
<ellipse cx="1063.74" cy="1807.52" rx="4.8" ry="4.0" fill="#1f77b4"/>
<ellipse cx="1063.74" cy="2052.34" rx="4.0" ry="3.0" fill="#1f77b4"/>
<ellipse cx="1063.74" cy="2482.24" rx="4.0" ry="3.0" fill="#1f77b4"/>
<rect x="192.4" y="1746.5" width="912.4" height="251.7" fill="none" stroke="#111" stroke-width="3"/>
<rect x="192.4" y="2039.5" width="912.4" height="250.6" fill="none" stroke="#111" stroke-width="3"/>
<rect x="192.4" y="2333.3" width="912.4" height="251" fill="none" stroke="#111" stroke-width="3"/>
<path d="M234.9 1998.2V2008.2M395.84 1998.2V2008.2M556.78 1998.2V2008.2M717.72 1998.2V2008.2M878.66 1998.2V2008.2M1039.6 1998.2V2008.2M234.9 2290.1V2300.1M395.84 2290.1V2300.1M556.78 2290.1V2300.1M717.72 2290.1V2300.1M878.66 2290.1V2300.1M1039.6 2290.1V2300.1M234.9 2584.3V2594.3M395.84 2584.3V2594.3M556.78 2584.3V2594.3M717.72 2584.3V2594.3M878.66 2584.3V2594.3M1039.6 2584.3V2594.3M180.9 1968.2H192.4M180.9 1877.1H192.4M180.9 1786H192.4M180.9 2134.3H192.4M180.9 2251H192.4M180.9 2532.8H192.4M180.9 2449.6H192.4M180.9 2366.4H192.4" stroke="#111" stroke-width="2.6" fill="none"/>
<text transform="translate(104.25,1979.1) scale(1.1807,1)" font-size="32.1">500</text>
<text transform="translate(82.25,1888) scale(1.1938,1)" font-size="32.1">1000</text>
<text transform="translate(82.25,1796.9) scale(1.1938,1)" font-size="32.1">1500</text>
<text transform="translate(93.59,2145.2) scale(1.1846,1)" font-size="32.1">23.5</text>
<text transform="translate(92.85,2261.9) scale(1.1948,1)" font-size="32.1">24.0</text>
<text transform="translate(147.04,2543.7) scale(1.1243,1)" font-size="32">4</text>
<text transform="translate(146.93,2460.5) scale(1.1598,1)" font-size="32.1">6</text>
<text transform="translate(147.36,2377.3) scale(1.1328,1)" font-size="32.1">8</text>
<text transform="translate(224.89,2626.2) scale(1.1206,1)" font-size="32.1">0</text>
<text transform="translate(374.73,2626.2) scale(1.1773,1)" font-size="32.1">20</text>
<text transform="translate(535.87,2626.2) scale(1.1713,1)" font-size="32.1">40</text>
<text transform="translate(696.47,2626.2) scale(1.1814,1)" font-size="32.1">60</text>
<text transform="translate(857.63,2626.2) scale(1.1750,1)" font-size="32.1">80</text>
<text transform="translate(1007.88,2626.2) scale(1.1857,1)" font-size="32.1">100</text>
<g transform="translate(63.5,0) rotate(-90)"><text transform="translate(-1906.67,0) scale(0.8768,1)" font-size="35.74">Flux</text></g>
<g transform="translate(74.65,0) rotate(-90)"><text transform="translate(-2200.23,0) scale(0.8227,1)" font-size="37.5">Mag</text></g>
<g transform="translate(128.6,0) rotate(-90)"><text transform="translate(-2491.67,0) scale(0.7585,1)" font-size="36.95">SNR</text></g>
<path d="M1292.2 1900.73V1942.85M1300.25 1867.24V1919.42M1308.29 1893.79V1949.78M1316.34 1882.8V1935.32M1324.39 1846.51V1901.32M1332.43 1887.6V1938.18M1340.48 1892.05V1938.55M1348.53 1868.3V1921.41M1356.58 1855.35V1907.88M1364.62 1893.99V1948.06M1372.67 1873.08V1934.33M1380.72 1879.77V1931.63M1388.76 1854.95V1908.27M1396.81 1914.92V1965.5M1404.86 1888.36V1936.34M1412.9 1913.99V1966.43M1420.95 1876.29V1927.66M1429 1873.65V1925.03M1437.05 1890.11V1937.82M1445.09 1892.73V1935.2M1453.14 1929.21V1976.16M1461.19 1847.48V1893.45M1469.23 1921.85V1968.88M1477.28 1882.28V1927.41M1485.33 1903.16V1949.39M1493.38 1911.55V1958.09M1501.42 1849.37V1897.77M1509.47 1909.14V1972.6M1517.52 1864.39V1920.43M1525.56 1887.11V1937.59M1533.61 1909.25V1954.82M1541.66 1887.36V1932.42M1549.7 1909.86V1962.52M1557.75 1891.44V1939.7M1565.8 1847.75V1893.17M1573.85 1871.8V1914.86M1581.89 1892.77V1943.09M1589.94 1902.29V1948.78M1597.99 1879.24V1928.16M1606.03 1892V1942.29M1614.08 1867.1V1913.39M1622.13 1864.18V1914.43M1630.17 1839.76V1890.57M1638.22 1856.93V1904.32M1646.27 1859.26V1905.92M1654.32 1909.08V1956.39M1662.36 1874.5V1915.21M1670.41 1921.84V1963.8M1678.46 1872.82V1912M1686.5 1920.42V1958.68M1694.55 1889.99V1929.79M1710.64 1824.21V1879.48M1718.69 1846.18V1894.75M1726.74 1826.91V1879.07M1734.78 1856.62V1912.45M1742.83 1913.69V1960.05M1750.88 1871.22V1915.44M1758.93 1890.29V1940.84M1766.97 1820.16V1874.24M1775.02 1814.71V1867.8M1783.07 1883.33V1928.07M1791.11 1903.16V1949.39M1799.16 1868.34V1916.48M1807.21 1881.56V1932.66M1815.26 1874.06V1933.35M1823.3 1836.5V1889.51M1831.35 1883.62V1937.8M1839.4 1906.48V1957.59M1847.44 1864.82V1921.84M1855.49 1871.03V1922.9M1863.54 1861.77V1911.15M1871.58 1863.22V1913.5M1879.63 1862.66V1908.35M1887.68 1872.49V1926.19M1895.72 1880.06V1931.34M1903.77 1873.29V1921.83M1911.82 1844.29V1898.72M1919.87 1847.79V1899.35M1927.91 1882.87V1933.59M1935.96 1859.76V1918.85M1944.01 1898.88V1960.93M1952.05 1890.95V1949.57M1960.1 1903.92V1972.51M1968.15 1889.15V1949.82M1976.19 1839.56V1899.27M1984.24 1926.82V1986.64M1992.29 1871.21V1927.47M2000.34 1896.44V1953.15M2008.38 1849.98V1909.29M2016.43 1903.87V1964.39M2024.48 1874.09V1940.13M2032.52 1854.56V1912.58M2040.57 1872.91V1940.18M2048.62 1875.94V1948.76M2056.66 1865.14V1938.8M2064.71 1872.62V1956.91M2072.76 1832.54V1908.39M2080.81 1888.61V1966.87M2088.85 1825.55V1915.38M2096.9 1883.76V1970.26M2104.95 1861.57V1958.21M2112.99 1841.77V1933.05M2121.04 1759.25V1855.8" stroke="#1f77b4" stroke-width="4.8" fill="none"/>
<path d="M1702.6 1911.51V1963.58" stroke="#ff7f0e" stroke-width="4.8" fill="none"/>
<ellipse cx="1292.2" cy="1921.79" rx="4.8" ry="4.0" fill="#1f77b4"/>
<ellipse cx="1292.2" cy="2205.61" rx="4.0" ry="3.0" fill="#1f77b4"/>
<ellipse cx="1292.2" cy="2427.57" rx="4.0" ry="3.0" fill="#1f77b4"/>
<ellipse cx="1300.25" cy="1893.33" rx="4.8" ry="4.0" fill="#1f77b4"/>
<ellipse cx="1300.25" cy="2157.94" rx="4.0" ry="3.0" fill="#1f77b4"/>
<ellipse cx="1300.25" cy="2434.58" rx="4.0" ry="3.0" fill="#1f77b4"/>
<ellipse cx="1308.29" cy="1921.79" rx="4.8" ry="4.0" fill="#1f77b4"/>
<ellipse cx="1308.29" cy="2205.61" rx="4.0" ry="3.0" fill="#1f77b4"/>
<ellipse cx="1308.29" cy="2494.86" rx="4.0" ry="3.0" fill="#1f77b4"/>
<ellipse cx="1316.34" cy="1909.06" rx="4.8" ry="4.0" fill="#1f77b4"/>
<ellipse cx="1316.34" cy="2183.18" rx="4.0" ry="3.0" fill="#1f77b4"/>
<ellipse cx="1316.34" cy="2461.21" rx="4.0" ry="3.0" fill="#1f77b4"/>
<ellipse cx="1324.39" cy="1873.91" rx="4.8" ry="4.0" fill="#1f77b4"/>
<ellipse cx="1324.39" cy="2129.91" rx="4.0" ry="3.0" fill="#1f77b4"/>
<ellipse cx="1324.39" cy="2417.76" rx="4.0" ry="3.0" fill="#1f77b4"/>
<ellipse cx="1332.43" cy="1912.89" rx="4.8" ry="4.0" fill="#1f77b4"/>
<ellipse cx="1332.43" cy="2189.72" rx="4.0" ry="3.0" fill="#1f77b4"/>
<ellipse cx="1332.43" cy="2458.41" rx="4.0" ry="3.0" fill="#1f77b4"/>
<ellipse cx="1340.48" cy="1915.3" rx="4.8" ry="4.0" fill="#1f77b4"/>
<ellipse cx="1340.48" cy="2193.93" rx="4.0" ry="3.0" fill="#1f77b4"/>
<ellipse cx="1340.48" cy="2441.59" rx="4.0" ry="3.0" fill="#1f77b4"/>
<ellipse cx="1348.53" cy="1894.85" rx="4.8" ry="4.0" fill="#1f77b4"/>
<ellipse cx="1348.53" cy="2160.28" rx="4.0" ry="3.0" fill="#1f77b4"/>
<ellipse cx="1348.53" cy="2441.59" rx="4.0" ry="3.0" fill="#1f77b4"/>
<ellipse cx="1356.58" cy="1881.61" rx="4.8" ry="4.0" fill="#1f77b4"/>
<ellipse cx="1356.58" cy="2140.65" rx="4.0" ry="3.0" fill="#1f77b4"/>
<ellipse cx="1356.58" cy="2417.76" rx="4.0" ry="3.0" fill="#1f77b4"/>
<ellipse cx="1364.62" cy="1921.02" rx="4.8" ry="4.0" fill="#1f77b4"/>
<ellipse cx="1364.62" cy="2204.21" rx="4.0" ry="3.0" fill="#1f77b4"/>
<ellipse cx="1364.62" cy="2486.45" rx="4.0" ry="3.0" fill="#1f77b4"/>
<ellipse cx="1372.67" cy="1903.7" rx="4.8" ry="4.0" fill="#1f77b4"/>
<ellipse cx="1372.67" cy="2174.3" rx="4.0" ry="3.0" fill="#1f77b4"/>
<ellipse cx="1372.67" cy="2487.85" rx="4.0" ry="3.0" fill="#1f77b4"/>
<ellipse cx="1380.72" cy="1905.7" rx="4.8" ry="4.0" fill="#1f77b4"/>
<ellipse cx="1380.72" cy="2177.57" rx="4.0" ry="3.0" fill="#1f77b4"/>
<ellipse cx="1380.72" cy="2452.8" rx="4.0" ry="3.0" fill="#1f77b4"/>
<ellipse cx="1388.76" cy="1881.61" rx="4.8" ry="4.0" fill="#1f77b4"/>
<ellipse cx="1388.76" cy="2140.65" rx="4.0" ry="3.0" fill="#1f77b4"/>
<ellipse cx="1388.76" cy="2421.96" rx="4.0" ry="3.0" fill="#1f77b4"/>
<ellipse cx="1396.81" cy="1940.21" rx="4.8" ry="4.0" fill="#1f77b4"/>
<ellipse cx="1396.81" cy="2242.06" rx="4.0" ry="3.0" fill="#1f77b4"/>
<ellipse cx="1396.81" cy="2503.27" rx="4.0" ry="3.0" fill="#1f77b4"/>
<ellipse cx="1404.86" cy="1912.35" rx="4.8" ry="4.0" fill="#1f77b4"/>
<ellipse cx="1404.86" cy="2188.79" rx="4.0" ry="3.0" fill="#1f77b4"/>
<ellipse cx="1404.86" cy="2444.39" rx="4.0" ry="3.0" fill="#1f77b4"/>
<ellipse cx="1412.9" cy="1940.21" rx="4.8" ry="4.0" fill="#1f77b4"/>
<ellipse cx="1412.9" cy="2242.06" rx="4.0" ry="3.0" fill="#1f77b4"/>
<ellipse cx="1412.9" cy="2510.28" rx="4.0" ry="3.0" fill="#1f77b4"/>
<ellipse cx="1420.95" cy="1901.97" rx="4.8" ry="4.0" fill="#1f77b4"/>
<ellipse cx="1420.95" cy="2171.5" rx="4.0" ry="3.0" fill="#1f77b4"/>
<ellipse cx="1420.95" cy="2444.39" rx="4.0" ry="3.0" fill="#1f77b4"/>
<ellipse cx="1429" cy="1899.34" rx="4.8" ry="4.0" fill="#1f77b4"/>
<ellipse cx="1429" cy="2167.29" rx="4.0" ry="3.0" fill="#1f77b4"/>
<ellipse cx="1429" cy="2440.19" rx="4.0" ry="3.0" fill="#1f77b4"/>
<ellipse cx="1437.05" cy="1913.97" rx="4.8" ry="4.0" fill="#1f77b4"/>
<ellipse cx="1437.05" cy="2191.59" rx="4.0" ry="3.0" fill="#1f77b4"/>
<ellipse cx="1437.05" cy="2445.79" rx="4.0" ry="3.0" fill="#1f77b4"/>
<ellipse cx="1445.09" cy="1913.97" rx="4.8" ry="4.0" fill="#1f77b4"/>
<ellipse cx="1445.09" cy="2191.59" rx="4.0" ry="3.0" fill="#1f77b4"/>
<ellipse cx="1445.09" cy="2414.49" rx="4.0" ry="3.0" fill="#1f77b4"/>
<ellipse cx="1453.14" cy="1952.68" rx="4.8" ry="4.0" fill="#1f77b4"/>
<ellipse cx="1453.14" cy="2270.09" rx="4.0" ry="3.0" fill="#1f77b4"/>
<ellipse cx="1453.14" cy="2510.28" rx="4.0" ry="3.0" fill="#1f77b4"/>
<ellipse cx="1461.19" cy="1870.46" rx="4.8" ry="4.0" fill="#1f77b4"/>
<ellipse cx="1461.19" cy="2125.23" rx="4.0" ry="3.0" fill="#1f77b4"/>
<ellipse cx="1461.19" cy="2357.48" rx="4.0" ry="3.0" fill="#1f77b4"/>
<ellipse cx="1469.23" cy="1945.37" rx="4.8" ry="4.0" fill="#1f77b4"/>
<ellipse cx="1469.23" cy="2253.27" rx="4.0" ry="3.0" fill="#1f77b4"/>
<ellipse cx="1469.23" cy="2497.66" rx="4.0" ry="3.0" fill="#1f77b4"/>
<ellipse cx="1477.28" cy="1904.85" rx="4.8" ry="4.0" fill="#1f77b4"/>
<ellipse cx="1477.28" cy="2176.17" rx="4.0" ry="3.0" fill="#1f77b4"/>
<ellipse cx="1477.28" cy="2414.49" rx="4.0" ry="3.0" fill="#1f77b4"/>
<ellipse cx="1485.33" cy="1926.28" rx="4.8" ry="4.0" fill="#1f77b4"/>
<ellipse cx="1485.33" cy="2214.02" rx="4.0" ry="3.0" fill="#1f77b4"/>
<ellipse cx="1485.33" cy="2459.81" rx="4.0" ry="3.0" fill="#1f77b4"/>
<ellipse cx="1493.38" cy="1934.82" rx="4.8" ry="4.0" fill="#1f77b4"/>
<ellipse cx="1493.38" cy="2230.84" rx="4.0" ry="3.0" fill="#1f77b4"/>
<ellipse cx="1493.38" cy="2476.64" rx="4.0" ry="3.0" fill="#1f77b4"/>
<ellipse cx="1501.42" cy="1873.57" rx="4.8" ry="4.0" fill="#1f77b4"/>
<ellipse cx="1501.42" cy="2129.44" rx="4.0" ry="3.0" fill="#1f77b4"/>
<ellipse cx="1501.42" cy="2379.91" rx="4.0" ry="3.0" fill="#1f77b4"/>
<ellipse cx="1509.47" cy="1940.87" rx="4.8" ry="4.0" fill="#1f77b4"/>
<ellipse cx="1509.47" cy="2243.46" rx="4.0" ry="3.0" fill="#1f77b4"/>
<ellipse cx="1509.47" cy="2543.93" rx="4.0" ry="3.0" fill="#1f77b4"/>
<ellipse cx="1517.52" cy="1892.41" rx="4.8" ry="4.0" fill="#1f77b4"/>
<ellipse cx="1517.52" cy="2156.54" rx="4.0" ry="3.0" fill="#1f77b4"/>
<ellipse cx="1517.52" cy="2451.4" rx="4.0" ry="3.0" fill="#1f77b4"/>
<ellipse cx="1525.56" cy="1912.35" rx="4.8" ry="4.0" fill="#1f77b4"/>
<ellipse cx="1525.56" cy="2188.79" rx="4.0" ry="3.0" fill="#1f77b4"/>
<ellipse cx="1525.56" cy="2457.01" rx="4.0" ry="3.0" fill="#1f77b4"/>
<ellipse cx="1533.61" cy="1932.04" rx="4.8" ry="4.0" fill="#1f77b4"/>
<ellipse cx="1533.61" cy="2225.23" rx="4.0" ry="3.0" fill="#1f77b4"/>
<ellipse cx="1533.61" cy="2466.82" rx="4.0" ry="3.0" fill="#1f77b4"/>
<ellipse cx="1541.66" cy="1909.89" rx="4.8" ry="4.0" fill="#1f77b4"/>
<ellipse cx="1541.66" cy="2184.58" rx="4.0" ry="3.0" fill="#1f77b4"/>
<ellipse cx="1541.66" cy="2423.36" rx="4.0" ry="3.0" fill="#1f77b4"/>
<ellipse cx="1549.7" cy="1936.19" rx="4.8" ry="4.0" fill="#1f77b4"/>
<ellipse cx="1549.7" cy="2233.64" rx="4.0" ry="3.0" fill="#1f77b4"/>
<ellipse cx="1549.7" cy="2504.67" rx="4.0" ry="3.0" fill="#1f77b4"/>
<ellipse cx="1557.75" cy="1915.57" rx="4.8" ry="4.0" fill="#1f77b4"/>
<ellipse cx="1557.75" cy="2194.39" rx="4.0" ry="3.0" fill="#1f77b4"/>
<ellipse cx="1557.75" cy="2451.4" rx="4.0" ry="3.0" fill="#1f77b4"/>
<ellipse cx="1565.8" cy="1870.46" rx="4.8" ry="4.0" fill="#1f77b4"/>
<ellipse cx="1565.8" cy="2125.23" rx="4.0" ry="3.0" fill="#1f77b4"/>
<ellipse cx="1565.8" cy="2353.27" rx="4.0" ry="3.0" fill="#1f77b4"/>
<ellipse cx="1573.85" cy="1893.33" rx="4.8" ry="4.0" fill="#1f77b4"/>
<ellipse cx="1573.85" cy="2157.94" rx="4.0" ry="3.0" fill="#1f77b4"/>
<ellipse cx="1573.85" cy="2378.5" rx="4.0" ry="3.0" fill="#1f77b4"/>
<ellipse cx="1581.89" cy="1917.93" rx="4.8" ry="4.0" fill="#1f77b4"/>
<ellipse cx="1581.89" cy="2198.6" rx="4.0" ry="3.0" fill="#1f77b4"/>
<ellipse cx="1581.89" cy="2465.42" rx="4.0" ry="3.0" fill="#1f77b4"/>
<ellipse cx="1589.94" cy="1925.54" rx="4.8" ry="4.0" fill="#1f77b4"/>
<ellipse cx="1589.94" cy="2212.62" rx="4.0" ry="3.0" fill="#1f77b4"/>
<ellipse cx="1589.94" cy="2459.81" rx="4.0" ry="3.0" fill="#1f77b4"/>
<ellipse cx="1597.99" cy="1903.7" rx="4.8" ry="4.0" fill="#1f77b4"/>
<ellipse cx="1597.99" cy="2174.3" rx="4.0" ry="3.0" fill="#1f77b4"/>
<ellipse cx="1597.99" cy="2434.58" rx="4.0" ry="3.0" fill="#1f77b4"/>
<ellipse cx="1606.03" cy="1917.15" rx="4.8" ry="4.0" fill="#1f77b4"/>
<ellipse cx="1606.03" cy="2197.2" rx="4.0" ry="3.0" fill="#1f77b4"/>
<ellipse cx="1606.03" cy="2464.02" rx="4.0" ry="3.0" fill="#1f77b4"/>
<ellipse cx="1614.08" cy="1890.24" rx="4.8" ry="4.0" fill="#1f77b4"/>
<ellipse cx="1614.08" cy="2153.27" rx="4.0" ry="3.0" fill="#1f77b4"/>
<ellipse cx="1614.08" cy="2395.33" rx="4.0" ry="3.0" fill="#1f77b4"/>
<ellipse cx="1622.13" cy="1889.3" rx="4.8" ry="4.0" fill="#1f77b4"/>
<ellipse cx="1622.13" cy="2151.87" rx="4.0" ry="3.0" fill="#1f77b4"/>
<ellipse cx="1622.13" cy="2417.76" rx="4.0" ry="3.0" fill="#1f77b4"/>
<ellipse cx="1630.17" cy="1865.17" rx="4.8" ry="4.0" fill="#1f77b4"/>
<ellipse cx="1630.17" cy="2118.22" rx="4.0" ry="3.0" fill="#1f77b4"/>
<ellipse cx="1630.17" cy="2381.31" rx="4.0" ry="3.0" fill="#1f77b4"/>
<ellipse cx="1638.22" cy="1880.63" rx="4.8" ry="4.0" fill="#1f77b4"/>
<ellipse cx="1638.22" cy="2139.25" rx="4.0" ry="3.0" fill="#1f77b4"/>
<ellipse cx="1638.22" cy="2385.51" rx="4.0" ry="3.0" fill="#1f77b4"/>
<ellipse cx="1646.27" cy="1882.59" rx="4.8" ry="4.0" fill="#1f77b4"/>
<ellipse cx="1646.27" cy="2142.06" rx="4.0" ry="3.0" fill="#1f77b4"/>
<ellipse cx="1646.27" cy="2384.11" rx="4.0" ry="3.0" fill="#1f77b4"/>
<ellipse cx="1654.32" cy="1932.74" rx="4.8" ry="4.0" fill="#1f77b4"/>
<ellipse cx="1654.32" cy="2226.64" rx="4.0" ry="3.0" fill="#1f77b4"/>
<ellipse cx="1654.32" cy="2476.64" rx="4.0" ry="3.0" fill="#1f77b4"/>
<ellipse cx="1662.36" cy="1894.85" rx="4.8" ry="4.0" fill="#1f77b4"/>
<ellipse cx="1662.36" cy="2160.28" rx="4.0" ry="3.0" fill="#1f77b4"/>
<ellipse cx="1662.36" cy="2363.08" rx="4.0" ry="3.0" fill="#1f77b4"/>
<ellipse cx="1670.41" cy="1942.82" rx="4.8" ry="4.0" fill="#1f77b4"/>
<ellipse cx="1670.41" cy="2247.66" rx="4.0" ry="3.0" fill="#1f77b4"/>
<ellipse cx="1670.41" cy="2468.22" rx="4.0" ry="3.0" fill="#1f77b4"/>
<ellipse cx="1678.46" cy="1892.41" rx="4.8" ry="4.0" fill="#1f77b4"/>
<ellipse cx="1678.46" cy="2156.54" rx="4.0" ry="3.0" fill="#1f77b4"/>
<ellipse cx="1678.46" cy="2344.86" rx="4.0" ry="3.0" fill="#1f77b4"/>
<ellipse cx="1686.5" cy="1939.55" rx="4.8" ry="4.0" fill="#1f77b4"/>
<ellipse cx="1686.5" cy="2240.65" rx="4.0" ry="3.0" fill="#1f77b4"/>
<ellipse cx="1686.5" cy="2438.79" rx="4.0" ry="3.0" fill="#1f77b4"/>
<ellipse cx="1694.55" cy="1909.89" rx="4.8" ry="4.0" fill="#1f77b4"/>
<ellipse cx="1694.55" cy="2184.58" rx="4.0" ry="3.0" fill="#1f77b4"/>
<ellipse cx="1694.55" cy="2386.92" rx="4.0" ry="3.0" fill="#1f77b4"/>
<ellipse cx="1702.6" cy="1937.55" rx="4.8" ry="4.0" fill="#ff7f0e"/>
<ellipse cx="1702.6" cy="2236.45" rx="4.0" ry="3.0" fill="#ff7f0e"/>
<ellipse cx="1702.6" cy="2504.67" rx="4.0" ry="3.0" fill="#ff7f0e"/>
<ellipse cx="1710.64" cy="1851.84" rx="4.8" ry="4.0" fill="#1f77b4"/>
<ellipse cx="1710.64" cy="2101.4" rx="4.0" ry="3.0" fill="#1f77b4"/>
<ellipse cx="1710.64" cy="2386.92" rx="4.0" ry="3.0" fill="#1f77b4"/>
<ellipse cx="1718.69" cy="1870.46" rx="4.8" ry="4.0" fill="#1f77b4"/>
<ellipse cx="1718.69" cy="2125.23" rx="4.0" ry="3.0" fill="#1f77b4"/>
<ellipse cx="1718.69" cy="2375.7" rx="4.0" ry="3.0" fill="#1f77b4"/>
<ellipse cx="1726.74" cy="1852.99" rx="4.8" ry="4.0" fill="#1f77b4"/>
<ellipse cx="1726.74" cy="2102.8" rx="4.0" ry="3.0" fill="#1f77b4"/>
<ellipse cx="1726.74" cy="2370.09" rx="4.0" ry="3.0" fill="#1f77b4"/>
<ellipse cx="1734.78" cy="1884.54" rx="4.8" ry="4.0" fill="#1f77b4"/>
<ellipse cx="1734.78" cy="2144.86" rx="4.0" ry="3.0" fill="#1f77b4"/>
<ellipse cx="1734.78" cy="2438.79" rx="4.0" ry="3.0" fill="#1f77b4"/>
<ellipse cx="1742.83" cy="1936.87" rx="4.8" ry="4.0" fill="#1f77b4"/>
<ellipse cx="1742.83" cy="2235.05" rx="4.0" ry="3.0" fill="#1f77b4"/>
<ellipse cx="1742.83" cy="2479.44" rx="4.0" ry="3.0" fill="#1f77b4"/>
<ellipse cx="1750.88" cy="1893.33" rx="4.8" ry="4.0" fill="#1f77b4"/>
<ellipse cx="1750.88" cy="2157.94" rx="4.0" ry="3.0" fill="#1f77b4"/>
<ellipse cx="1750.88" cy="2386.92" rx="4.0" ry="3.0" fill="#1f77b4"/>
<ellipse cx="1758.93" cy="1915.57" rx="4.8" ry="4.0" fill="#1f77b4"/>
<ellipse cx="1758.93" cy="2194.39" rx="4.0" ry="3.0" fill="#1f77b4"/>
<ellipse cx="1758.93" cy="2462.62" rx="4.0" ry="3.0" fill="#1f77b4"/>
<ellipse cx="1766.97" cy="1847.2" rx="4.8" ry="4.0" fill="#1f77b4"/>
<ellipse cx="1766.97" cy="2095.79" rx="4.0" ry="3.0" fill="#1f77b4"/>
<ellipse cx="1766.97" cy="2372.9" rx="4.0" ry="3.0" fill="#1f77b4"/>
<ellipse cx="1775.02" cy="1841.25" rx="4.8" ry="4.0" fill="#1f77b4"/>
<ellipse cx="1775.02" cy="2088.79" rx="4.0" ry="3.0" fill="#1f77b4"/>
<ellipse cx="1775.02" cy="2357.48" rx="4.0" ry="3.0" fill="#1f77b4"/>
<ellipse cx="1783.07" cy="1905.7" rx="4.8" ry="4.0" fill="#1f77b4"/>
<ellipse cx="1783.07" cy="2177.57" rx="4.0" ry="3.0" fill="#1f77b4"/>
<ellipse cx="1783.07" cy="2413.55" rx="4.0" ry="3.0" fill="#1f77b4"/>
<ellipse cx="1791.11" cy="1926.28" rx="4.8" ry="4.0" fill="#1f77b4"/>
<ellipse cx="1791.11" cy="2214.02" rx="4.0" ry="3.0" fill="#1f77b4"/>
<ellipse cx="1791.11" cy="2459.81" rx="4.0" ry="3.0" fill="#1f77b4"/>
<ellipse cx="1799.16" cy="1892.41" rx="4.8" ry="4.0" fill="#1f77b4"/>
<ellipse cx="1799.16" cy="2156.54" rx="4.0" ry="3.0" fill="#1f77b4"/>
<ellipse cx="1799.16" cy="2410.75" rx="4.0" ry="3.0" fill="#1f77b4"/>
<ellipse cx="1807.21" cy="1907.11" rx="4.8" ry="4.0" fill="#1f77b4"/>
<ellipse cx="1807.21" cy="2179.91" rx="4.0" ry="3.0" fill="#1f77b4"/>
<ellipse cx="1807.21" cy="2451.4" rx="4.0" ry="3.0" fill="#1f77b4"/>
<ellipse cx="1815.26" cy="1903.7" rx="4.8" ry="4.0" fill="#1f77b4"/>
<ellipse cx="1815.26" cy="2174.3" rx="4.0" ry="3.0" fill="#1f77b4"/>
<ellipse cx="1815.26" cy="2480.84" rx="4.0" ry="3.0" fill="#1f77b4"/>
<ellipse cx="1823.3" cy="1863.01" rx="4.8" ry="4.0" fill="#1f77b4"/>
<ellipse cx="1823.3" cy="2115.42" rx="4.0" ry="3.0" fill="#1f77b4"/>
<ellipse cx="1823.3" cy="2391.12" rx="4.0" ry="3.0" fill="#1f77b4"/>
<ellipse cx="1831.35" cy="1910.71" rx="4.8" ry="4.0" fill="#1f77b4"/>
<ellipse cx="1831.35" cy="2185.98" rx="4.0" ry="3.0" fill="#1f77b4"/>
<ellipse cx="1831.35" cy="2471.03" rx="4.0" ry="3.0" fill="#1f77b4"/>
<ellipse cx="1839.4" cy="1932.04" rx="4.8" ry="4.0" fill="#1f77b4"/>
<ellipse cx="1839.4" cy="2225.23" rx="4.0" ry="3.0" fill="#1f77b4"/>
<ellipse cx="1839.4" cy="2492.06" rx="4.0" ry="3.0" fill="#1f77b4"/>
<ellipse cx="1847.44" cy="1893.33" rx="4.8" ry="4.0" fill="#1f77b4"/>
<ellipse cx="1847.44" cy="2157.94" rx="4.0" ry="3.0" fill="#1f77b4"/>
<ellipse cx="1847.44" cy="2457.01" rx="4.0" ry="3.0" fill="#1f77b4"/>
<ellipse cx="1855.49" cy="1896.96" rx="4.8" ry="4.0" fill="#1f77b4"/>
<ellipse cx="1855.49" cy="2163.55" rx="4.0" ry="3.0" fill="#1f77b4"/>
<ellipse cx="1855.49" cy="2438.79" rx="4.0" ry="3.0" fill="#1f77b4"/>
<ellipse cx="1863.54" cy="1886.46" rx="4.8" ry="4.0" fill="#1f77b4"/>
<ellipse cx="1863.54" cy="2147.66" rx="4.0" ry="3.0" fill="#1f77b4"/>
<ellipse cx="1863.54" cy="2407.94" rx="4.0" ry="3.0" fill="#1f77b4"/>
<ellipse cx="1871.58" cy="1888.36" rx="4.8" ry="4.0" fill="#1f77b4"/>
<ellipse cx="1871.58" cy="2150.47" rx="4.0" ry="3.0" fill="#1f77b4"/>
<ellipse cx="1871.58" cy="2416.36" rx="4.0" ry="3.0" fill="#1f77b4"/>
<ellipse cx="1879.63" cy="1885.5" rx="4.8" ry="4.0" fill="#1f77b4"/>
<ellipse cx="1879.63" cy="2146.26" rx="4.0" ry="3.0" fill="#1f77b4"/>
<ellipse cx="1879.63" cy="2382.71" rx="4.0" ry="3.0" fill="#1f77b4"/>
<ellipse cx="1887.68" cy="1899.34" rx="4.8" ry="4.0" fill="#1f77b4"/>
<ellipse cx="1887.68" cy="2167.29" rx="4.0" ry="3.0" fill="#1f77b4"/>
<ellipse cx="1887.68" cy="2451.4" rx="4.0" ry="3.0" fill="#1f77b4"/>
<ellipse cx="1895.72" cy="1905.7" rx="4.8" ry="4.0" fill="#1f77b4"/>
<ellipse cx="1895.72" cy="2177.57" rx="4.0" ry="3.0" fill="#1f77b4"/>
<ellipse cx="1895.72" cy="2450" rx="4.0" ry="3.0" fill="#1f77b4"/>
<ellipse cx="1903.77" cy="1897.56" rx="4.8" ry="4.0" fill="#1f77b4"/>
<ellipse cx="1903.77" cy="2164.49" rx="4.0" ry="3.0" fill="#1f77b4"/>
<ellipse cx="1903.77" cy="2421.96" rx="4.0" ry="3.0" fill="#1f77b4"/>
<ellipse cx="1911.82" cy="1871.51" rx="4.8" ry="4.0" fill="#1f77b4"/>
<ellipse cx="1911.82" cy="2126.64" rx="4.0" ry="3.0" fill="#1f77b4"/>
<ellipse cx="1911.82" cy="2412.15" rx="4.0" ry="3.0" fill="#1f77b4"/>
<ellipse cx="1919.87" cy="1873.57" rx="4.8" ry="4.0" fill="#1f77b4"/>
<ellipse cx="1919.87" cy="2129.44" rx="4.0" ry="3.0" fill="#1f77b4"/>
<ellipse cx="1919.87" cy="2399.53" rx="4.0" ry="3.0" fill="#1f77b4"/>
<ellipse cx="1927.91" cy="1908.23" rx="4.8" ry="4.0" fill="#1f77b4"/>
<ellipse cx="1927.91" cy="2181.78" rx="4.0" ry="3.0" fill="#1f77b4"/>
<ellipse cx="1927.91" cy="2451.4" rx="4.0" ry="3.0" fill="#1f77b4"/>
<ellipse cx="1935.96" cy="1889.3" rx="4.8" ry="4.0" fill="#1f77b4"/>
<ellipse cx="1935.96" cy="2151.87" rx="4.0" ry="3.0" fill="#1f77b4"/>
<ellipse cx="1935.96" cy="2459.81" rx="4.0" ry="3.0" fill="#1f77b4"/>
<ellipse cx="1944.01" cy="1929.91" rx="4.8" ry="4.0" fill="#1f77b4"/>
<ellipse cx="1944.01" cy="2221.03" rx="4.0" ry="3.0" fill="#1f77b4"/>
<ellipse cx="1944.01" cy="2525.7" rx="4.0" ry="3.0" fill="#1f77b4"/>
<ellipse cx="1952.05" cy="1920.26" rx="4.8" ry="4.0" fill="#1f77b4"/>
<ellipse cx="1952.05" cy="2202.8" rx="4.0" ry="3.0" fill="#1f77b4"/>
<ellipse cx="1952.05" cy="2501.87" rx="4.0" ry="3.0" fill="#1f77b4"/>
<ellipse cx="1960.1" cy="1938.22" rx="4.8" ry="4.0" fill="#1f77b4"/>
<ellipse cx="1960.1" cy="2237.85" rx="4.0" ry="3.0" fill="#1f77b4"/>
<ellipse cx="1960.1" cy="2552.34" rx="4.0" ry="3.0" fill="#1f77b4"/>
<ellipse cx="1968.15" cy="1919.49" rx="4.8" ry="4.0" fill="#1f77b4"/>
<ellipse cx="1968.15" cy="2201.4" rx="4.0" ry="3.0" fill="#1f77b4"/>
<ellipse cx="1968.15" cy="2507.48" rx="4.0" ry="3.0" fill="#1f77b4"/>
<ellipse cx="1976.19" cy="1869.42" rx="4.8" ry="4.0" fill="#1f77b4"/>
<ellipse cx="1976.19" cy="2123.83" rx="4.0" ry="3.0" fill="#1f77b4"/>
<ellipse cx="1976.19" cy="2434.58" rx="4.0" ry="3.0" fill="#1f77b4"/>
<ellipse cx="1984.24" cy="1956.73" rx="4.8" ry="4.0" fill="#1f77b4"/>
<ellipse cx="1984.24" cy="2279.91" rx="4.0" ry="3.0" fill="#1f77b4"/>
<ellipse cx="1984.24" cy="2556.54" rx="4.0" ry="3.0" fill="#1f77b4"/>
<ellipse cx="1992.29" cy="1899.34" rx="4.8" ry="4.0" fill="#1f77b4"/>
<ellipse cx="1992.29" cy="2167.29" rx="4.0" ry="3.0" fill="#1f77b4"/>
<ellipse cx="1992.29" cy="2462.62" rx="4.0" ry="3.0" fill="#1f77b4"/>
<ellipse cx="2000.34" cy="1924.8" rx="4.8" ry="4.0" fill="#1f77b4"/>
<ellipse cx="2000.34" cy="2211.21" rx="4.0" ry="3.0" fill="#1f77b4"/>
<ellipse cx="2000.34" cy="2501.87" rx="4.0" ry="3.0" fill="#1f77b4"/>
<ellipse cx="2008.38" cy="1879.63" rx="4.8" ry="4.0" fill="#1f77b4"/>
<ellipse cx="2008.38" cy="2137.85" rx="4.0" ry="3.0" fill="#1f77b4"/>
<ellipse cx="2008.38" cy="2447.2" rx="4.0" ry="3.0" fill="#1f77b4"/>
<ellipse cx="2016.43" cy="1934.13" rx="4.8" ry="4.0" fill="#1f77b4"/>
<ellipse cx="2016.43" cy="2229.44" rx="4.0" ry="3.0" fill="#1f77b4"/>
<ellipse cx="2016.43" cy="2527.1" rx="4.0" ry="3.0" fill="#1f77b4"/>
<ellipse cx="2024.48" cy="1907.11" rx="4.8" ry="4.0" fill="#1f77b4"/>
<ellipse cx="2024.48" cy="2179.91" rx="4.0" ry="3.0" fill="#1f77b4"/>
<ellipse cx="2024.48" cy="2507.48" rx="4.0" ry="3.0" fill="#1f77b4"/>
<ellipse cx="2032.52" cy="1883.57" rx="4.8" ry="4.0" fill="#1f77b4"/>
<ellipse cx="2032.52" cy="2143.46" rx="4.0" ry="3.0" fill="#1f77b4"/>
<ellipse cx="2032.52" cy="2447.2" rx="4.0" ry="3.0" fill="#1f77b4"/>
<ellipse cx="2040.57" cy="1906.55" rx="4.8" ry="4.0" fill="#1f77b4"/>
<ellipse cx="2040.57" cy="2178.97" rx="4.0" ry="3.0" fill="#1f77b4"/>
<ellipse cx="2040.57" cy="2510.28" rx="4.0" ry="3.0" fill="#1f77b4"/>
<ellipse cx="2048.62" cy="1912.35" rx="4.8" ry="4.0" fill="#1f77b4"/>
<ellipse cx="2048.62" cy="2188.79" rx="4.0" ry="3.0" fill="#1f77b4"/>
<ellipse cx="2048.62" cy="2531.31" rx="4.0" ry="3.0" fill="#1f77b4"/>
<ellipse cx="2056.66" cy="1901.97" rx="4.8" ry="4.0" fill="#1f77b4"/>
<ellipse cx="2056.66" cy="2171.5" rx="4.0" ry="3.0" fill="#1f77b4"/>
<ellipse cx="2056.66" cy="2521.5" rx="4.0" ry="3.0" fill="#1f77b4"/>
<ellipse cx="2064.71" cy="1914.77" rx="4.8" ry="4.0" fill="#1f77b4"/>
<ellipse cx="2064.71" cy="2192.99" rx="4.0" ry="3.0" fill="#1f77b4"/>
<ellipse cx="2064.71" cy="2556.54" rx="4.0" ry="3.0" fill="#1f77b4"/>
<ellipse cx="2072.76" cy="1870.46" rx="4.8" ry="4.0" fill="#1f77b4"/>
<ellipse cx="2072.76" cy="2125.23" rx="4.0" ry="3.0" fill="#1f77b4"/>
<ellipse cx="2072.76" cy="2492.06" rx="4.0" ry="3.0" fill="#1f77b4"/>
<ellipse cx="2080.81" cy="1927.74" rx="4.8" ry="4.0" fill="#1f77b4"/>
<ellipse cx="2080.81" cy="2216.82" rx="4.0" ry="3.0" fill="#1f77b4"/>
<ellipse cx="2080.81" cy="2559.35" rx="4.0" ry="3.0" fill="#1f77b4"/>
<ellipse cx="2088.85" cy="1870.46" rx="4.8" ry="4.0" fill="#1f77b4"/>
<ellipse cx="2088.85" cy="2125.23" rx="4.0" ry="3.0" fill="#1f77b4"/>
<ellipse cx="2088.85" cy="2524.3" rx="4.0" ry="3.0" fill="#1f77b4"/>
<ellipse cx="2096.9" cy="1927.01" rx="4.8" ry="4.0" fill="#1f77b4"/>
<ellipse cx="2096.9" cy="2215.42" rx="4.0" ry="3.0" fill="#1f77b4"/>
<ellipse cx="2096.9" cy="2571.96" rx="4.0" ry="3.0" fill="#1f77b4"/>
<ellipse cx="2104.95" cy="1909.89" rx="4.8" ry="4.0" fill="#1f77b4"/>
<ellipse cx="2104.95" cy="2184.58" rx="4.0" ry="3.0" fill="#1f77b4"/>
<ellipse cx="2104.95" cy="2570.56" rx="4.0" ry="3.0" fill="#1f77b4"/>
<ellipse cx="2112.99" cy="1887.41" rx="4.8" ry="4.0" fill="#1f77b4"/>
<ellipse cx="2112.99" cy="2149.07" rx="4.0" ry="3.0" fill="#1f77b4"/>
<ellipse cx="2112.99" cy="2542.52" rx="4.0" ry="3.0" fill="#1f77b4"/>
<ellipse cx="2121.04" cy="1807.52" rx="4.8" ry="4.0" fill="#1f77b4"/>
<ellipse cx="2121.04" cy="2052.34" rx="4.0" ry="3.0" fill="#1f77b4"/>
<ellipse cx="2121.04" cy="2482.24" rx="4.0" ry="3.0" fill="#1f77b4"/>
<rect x="1251.4" y="1746.5" width="910.9" height="251.7" fill="none" stroke="#111" stroke-width="3"/>
<rect x="1251.4" y="2039.5" width="910.9" height="250.6" fill="none" stroke="#111" stroke-width="3"/>
<rect x="1251.4" y="2333.3" width="910.9" height="251" fill="none" stroke="#111" stroke-width="3"/>
<path d="M1292.2 1998.2V2008.2M1453.14 1998.2V2008.2M1614.08 1998.2V2008.2M1775.02 1998.2V2008.2M1935.96 1998.2V2008.2M2096.9 1998.2V2008.2M1292.2 2290.1V2300.1M1453.14 2290.1V2300.1M1614.08 2290.1V2300.1M1775.02 2290.1V2300.1M1935.96 2290.1V2300.1M2096.9 2290.1V2300.1M1292.2 2584.3V2594.3M1453.14 2584.3V2594.3M1614.08 2584.3V2594.3M1775.02 2584.3V2594.3M1935.96 2584.3V2594.3M2096.9 2584.3V2594.3M1239.9 1968.2H1251.4M1239.9 1877.1H1251.4M1239.9 1786H1251.4M1239.9 2134.3H1251.4M1239.9 2251H1251.4M1239.9 2532.8H1251.4M1239.9 2449.6H1251.4M1239.9 2366.4H1251.4" stroke="#111" stroke-width="2.6" fill="none"/>
<text transform="translate(1163.25,1979.1) scale(1.1807,1)" font-size="32.1">500</text>
<text transform="translate(1141.25,1888) scale(1.1938,1)" font-size="32.1">1000</text>
<text transform="translate(1141.25,1796.9) scale(1.1938,1)" font-size="32.1">1500</text>
<text transform="translate(1152.59,2145.2) scale(1.1846,1)" font-size="32.1">23.5</text>
<text transform="translate(1151.85,2261.9) scale(1.1948,1)" font-size="32.1">24.0</text>
<text transform="translate(1206.04,2543.7) scale(1.1243,1)" font-size="32">4</text>
<text transform="translate(1205.93,2460.5) scale(1.1598,1)" font-size="32.1">6</text>
<text transform="translate(1206.36,2377.3) scale(1.1328,1)" font-size="32.1">8</text>
<text transform="translate(1282.19,2626.2) scale(1.1206,1)" font-size="32.1">0</text>
<text transform="translate(1432.03,2626.2) scale(1.1773,1)" font-size="32.1">20</text>
<text transform="translate(1593.17,2626.2) scale(1.1713,1)" font-size="32.1">40</text>
<text transform="translate(1753.77,2626.2) scale(1.1814,1)" font-size="32.1">60</text>
<text transform="translate(1914.93,2626.2) scale(1.1750,1)" font-size="32.1">80</text>
<text transform="translate(2065.18,2626.2) scale(1.1857,1)" font-size="32.1">100</text>
<text transform="translate(595.45,2667.8) scale(1.2844,1)" font-size="30.36">Obs #</text>
<text transform="translate(1535.07,2667.8) scale(1.2416,1)" font-size="31.33">observation number</text>
<text transform="translate(1010.21,1697.5) scale(1.2797,1)" font-size="36.57">cluster 1</text>
<rect x="15.9" y="1663.8" width="361.7" height="95.8" rx="7" ry="7" fill="#fff" fill-opacity="0.8" stroke="#cccccc" stroke-width="2.4"/>
<ellipse cx="65.8" cy="1688.5" rx="5.6" ry="4.6" fill="#1f77b4"/>
<text transform="translate(125.21,1699) scale(1.2542,1)" font-size="31.05">Detection</text>
<ellipse cx="65.8" cy="1732" rx="5.6" ry="4.6" fill="#ff7f0e"/>
<text transform="translate(125.23,1741.1) scale(1.2428,1)" font-size="31.05">Non-detection</text>
<rect x="1882.1" y="1664.2" width="301.9" height="95.3" rx="7" ry="7" fill="#fff" fill-opacity="0.8" stroke="#cccccc" stroke-width="2.4"/>
<ellipse cx="1930.5" cy="1688.4" rx="5.6" ry="4.6" fill="#1f77b4"/>
<text transform="translate(1991.83,1698.7) scale(1.2208,1)" font-size="30.5">Unmasked</text>
<ellipse cx="1930.5" cy="1731.9" rx="5.6" ry="4.6" fill="#ff7f0e"/>
<text transform="translate(1990.99,1741.5) scale(1.1755,1)" font-size="31.19">Masked</text>
<rect x="2252.7" y="65.4" width="137" height="137" fill="rgb(128,128,128)"/><circle cx="2323.94" cy="136.64" r="28" fill="url(#tblob)"/><rect x="2252.7" y="65.4" width="137" height="137" fill="none" stroke="#d21f33" stroke-width="1.35"/><rect x="2451.28" y="65.4" width="137" height="137" fill="rgb(100,100,100)"/><circle cx="2522.52" cy="136.64" r="28" fill="url(#tblob)"/><rect x="2451.28" y="65.4" width="137" height="137" fill="none" stroke="#d21f33" stroke-width="1.35"/><rect x="2649.86" y="65.4" width="137" height="137" fill="rgb(118,118,118)"/><circle cx="2721.1" cy="136.64" r="28" fill="url(#tblob)"/><rect x="2649.86" y="65.4" width="137" height="137" fill="none" stroke="#d21f33" stroke-width="1.35"/><rect x="2848.44" y="65.4" width="137" height="137" fill="rgb(138,138,138)"/><circle cx="2919.68" cy="136.64" r="28" fill="url(#tblob)"/><rect x="2848.44" y="65.4" width="137" height="137" fill="none" stroke="#d21f33" stroke-width="1.35"/><rect x="3047.02" y="65.4" width="137" height="137" fill="rgb(122,122,122)"/><circle cx="3118.26" cy="136.64" r="28" fill="url(#tblob)"/><rect x="3047.02" y="65.4" width="137" height="137" fill="none" stroke="#d21f33" stroke-width="1.35"/><rect x="3245.6" y="65.4" width="137" height="137" fill="rgb(125,125,125)"/><circle cx="3316.84" cy="136.64" r="28" fill="url(#tblob)"/><rect x="3245.6" y="65.4" width="137" height="137" fill="none" stroke="#d21f33" stroke-width="1.35"/><rect x="3444.18" y="65.4" width="137" height="137" fill="rgb(125,125,125)"/><circle cx="3515.42" cy="136.64" r="28" fill="url(#tblob)"/><rect x="3444.18" y="65.4" width="137" height="137" fill="none" stroke="#d21f33" stroke-width="1.35"/><rect x="3642.76" y="65.4" width="137" height="137" fill="rgb(145,145,145)"/><circle cx="3714" cy="136.64" r="28" fill="url(#tblob)"/><rect x="3642.76" y="65.4" width="137" height="137" fill="none" stroke="#d21f33" stroke-width="1.35"/><rect x="3841.34" y="65.4" width="137" height="137" fill="rgb(105,105,105)"/><circle cx="3912.58" cy="136.64" r="28" fill="url(#tblob)"/><rect x="3841.34" y="65.4" width="137" height="137" fill="none" stroke="#d21f33" stroke-width="1.35"/><rect x="4039.92" y="65.4" width="137" height="137" fill="rgb(120,120,120)"/><circle cx="4111.16" cy="136.64" r="28" fill="url(#tblob)"/><rect x="4039.92" y="65.4" width="137" height="137" fill="none" stroke="#d21f33" stroke-width="1.35"/><rect x="4238.5" y="65.4" width="137" height="137" fill="rgb(142,142,142)"/><circle cx="4309.74" cy="136.64" r="28" fill="url(#tblob)"/><rect x="4238.5" y="65.4" width="137" height="137" fill="none" stroke="#d21f33" stroke-width="1.35"/><rect x="2252.7" y="260.91" width="137" height="137" fill="rgb(112,112,112)"/><circle cx="2323.94" cy="332.15" r="28" fill="url(#tblob)"/><rect x="2252.7" y="260.91" width="137" height="137" fill="none" stroke="#d21f33" stroke-width="1.35"/><rect x="2451.28" y="260.91" width="137" height="137" fill="rgb(140,140,140)"/><circle cx="2522.52" cy="332.15" r="28" fill="url(#tblob)"/><rect x="2451.28" y="260.91" width="137" height="137" fill="none" stroke="#d21f33" stroke-width="1.35"/><rect x="2649.86" y="260.91" width="137" height="137" fill="rgb(135,135,135)"/><circle cx="2721.1" cy="332.15" r="28" fill="url(#tblob)"/><rect x="2649.86" y="260.91" width="137" height="137" fill="none" stroke="#d21f33" stroke-width="1.35"/><rect x="2848.44" y="260.91" width="137" height="137" fill="rgb(130,130,130)"/><circle cx="2919.68" cy="332.15" r="28" fill="url(#tblob)"/><rect x="2848.44" y="260.91" width="137" height="137" fill="none" stroke="#d21f33" stroke-width="1.35"/><rect x="3047.02" y="260.91" width="137" height="137" fill="rgb(115,115,115)"/><circle cx="3118.26" cy="332.15" r="28" fill="url(#tblob)"/><rect x="3047.02" y="260.91" width="137" height="137" fill="none" stroke="#d21f33" stroke-width="1.35"/><rect x="3245.6" y="260.91" width="137" height="137" fill="rgb(145,145,145)"/><circle cx="3316.84" cy="332.15" r="28" fill="url(#tblob)"/><rect x="3245.6" y="260.91" width="137" height="137" fill="none" stroke="#d21f33" stroke-width="1.35"/><rect x="3444.18" y="260.91" width="137" height="137" fill="rgb(125,125,125)"/><circle cx="3515.42" cy="332.15" r="28" fill="url(#tblob)"/><rect x="3444.18" y="260.91" width="137" height="137" fill="none" stroke="#d21f33" stroke-width="1.35"/><rect x="3642.76" y="260.91" width="137" height="137" fill="rgb(118,118,118)"/><circle cx="3714" cy="332.15" r="28" fill="url(#tblob)"/><rect x="3642.76" y="260.91" width="137" height="137" fill="none" stroke="#d21f33" stroke-width="1.35"/><rect x="3841.34" y="260.91" width="137" height="137" fill="rgb(158,158,158)"/><circle cx="3912.58" cy="332.15" r="28" fill="url(#tblob)"/><rect x="3841.34" y="260.91" width="137" height="137" fill="none" stroke="#d21f33" stroke-width="1.35"/><rect x="4039.92" y="260.91" width="137" height="137" fill="rgb(125,125,125)"/><circle cx="4111.16" cy="332.15" r="28" fill="url(#tblob)"/><rect x="4039.92" y="260.91" width="137" height="137" fill="none" stroke="#d21f33" stroke-width="1.35"/><rect x="4238.5" y="260.91" width="137" height="137" fill="rgb(130,130,130)"/><circle cx="4309.74" cy="332.15" r="28" fill="url(#tblob)"/><rect x="4238.5" y="260.91" width="137" height="137" fill="none" stroke="#d21f33" stroke-width="1.35"/><rect x="2252.7" y="456.42" width="137" height="137" fill="rgb(135,135,135)"/><circle cx="2323.94" cy="527.66" r="28" fill="url(#tblob)"/><rect x="2252.7" y="456.42" width="137" height="137" fill="none" stroke="#d21f33" stroke-width="1.35"/><rect x="2451.28" y="456.42" width="137" height="137" fill="rgb(125,125,125)"/><circle cx="2522.52" cy="527.66" r="28" fill="url(#tblob)"/><rect x="2451.28" y="456.42" width="137" height="137" fill="none" stroke="#d21f33" stroke-width="1.35"/><rect x="2649.86" y="456.42" width="137" height="137" fill="rgb(122,122,122)"/><circle cx="2721.1" cy="527.66" r="28" fill="url(#tblob)"/><rect x="2649.86" y="456.42" width="137" height="137" fill="none" stroke="#d21f33" stroke-width="1.35"/><rect x="2848.44" y="456.42" width="137" height="137" fill="rgb(125,125,125)"/><circle cx="2919.68" cy="527.66" r="28" fill="url(#tblob)"/><rect x="2848.44" y="456.42" width="137" height="137" fill="none" stroke="#d21f33" stroke-width="1.35"/><rect x="3047.02" y="456.42" width="137" height="137" fill="rgb(128,128,128)"/><circle cx="3118.26" cy="527.66" r="28" fill="url(#tblob)"/><rect x="3047.02" y="456.42" width="137" height="137" fill="none" stroke="#d21f33" stroke-width="1.35"/><rect x="3245.6" y="456.42" width="137" height="137" fill="rgb(140,140,140)"/><circle cx="3316.84" cy="527.66" r="28" fill="url(#tblob)"/><rect x="3245.6" y="456.42" width="137" height="137" fill="none" stroke="#d21f33" stroke-width="1.35"/><rect x="3444.18" y="456.42" width="137" height="137" fill="rgb(110,110,110)"/><circle cx="3515.42" cy="527.66" r="28" fill="url(#tblob)"/><rect x="3444.18" y="456.42" width="137" height="137" fill="none" stroke="#d21f33" stroke-width="1.35"/><rect x="3642.76" y="456.42" width="137" height="137" fill="rgb(125,125,125)"/><circle cx="3714" cy="527.66" r="28" fill="url(#tblob)"/><rect x="3642.76" y="456.42" width="137" height="137" fill="none" stroke="#d21f33" stroke-width="1.35"/><rect x="3841.34" y="456.42" width="137" height="137" fill="rgb(125,125,125)"/><circle cx="3912.58" cy="527.66" r="28" fill="url(#tblob)"/><rect x="3841.34" y="456.42" width="137" height="137" fill="none" stroke="#d21f33" stroke-width="1.35"/><rect x="4039.92" y="456.42" width="137" height="137" fill="rgb(128,128,128)"/><circle cx="4111.16" cy="527.66" r="28" fill="url(#tblob)"/><rect x="4039.92" y="456.42" width="137" height="137" fill="none" stroke="#d21f33" stroke-width="1.35"/><rect x="4238.5" y="456.42" width="137" height="137" fill="rgb(115,115,115)"/><circle cx="4309.74" cy="527.66" r="28" fill="url(#tblob)"/><rect x="4238.5" y="456.42" width="137" height="137" fill="none" stroke="#d21f33" stroke-width="1.35"/><rect x="2252.7" y="651.93" width="137" height="137" fill="rgb(138,138,138)"/><circle cx="2323.94" cy="723.17" r="28" fill="url(#tblob)"/><rect x="2252.7" y="651.93" width="137" height="137" fill="none" stroke="#d21f33" stroke-width="1.35"/><rect x="2451.28" y="651.93" width="137" height="137" fill="rgb(125,125,125)"/><circle cx="2522.52" cy="723.17" r="28" fill="url(#tblob)"/><rect x="2451.28" y="651.93" width="137" height="137" fill="none" stroke="#d21f33" stroke-width="1.35"/><rect x="2649.86" y="651.93" width="137" height="137" fill="rgb(135,135,135)"/><circle cx="2721.1" cy="723.17" r="28" fill="url(#tblob)"/><rect x="2649.86" y="651.93" width="137" height="137" fill="none" stroke="#d21f33" stroke-width="1.35"/><rect x="2848.44" y="651.93" width="137" height="137" fill="rgb(130,130,130)"/><circle cx="2919.68" cy="723.17" r="28" fill="url(#tblob)"/><rect x="2848.44" y="651.93" width="137" height="137" fill="none" stroke="#d21f33" stroke-width="1.35"/><rect x="3047.02" y="651.93" width="137" height="137" fill="rgb(138,138,138)"/><circle cx="3118.26" cy="723.17" r="28" fill="url(#tblob)"/><rect x="3047.02" y="651.93" width="137" height="137" fill="none" stroke="#d21f33" stroke-width="1.35"/><rect x="3245.6" y="651.93" width="137" height="137" fill="rgb(142,142,142)"/><circle cx="3316.84" cy="723.17" r="28" fill="url(#tblob)"/><rect x="3245.6" y="651.93" width="137" height="137" fill="none" stroke="#d21f33" stroke-width="1.35"/><rect x="3444.18" y="651.93" width="137" height="137" fill="rgb(128,128,128)"/><circle cx="3515.42" cy="723.17" r="28" fill="url(#tblob)"/><rect x="3444.18" y="651.93" width="137" height="137" fill="none" stroke="#d21f33" stroke-width="1.35"/><rect x="3642.76" y="651.93" width="137" height="137" fill="rgb(120,120,120)"/><circle cx="3714" cy="723.17" r="28" fill="url(#tblob)"/><rect x="3642.76" y="651.93" width="137" height="137" fill="none" stroke="#d21f33" stroke-width="1.35"/><rect x="3841.34" y="651.93" width="137" height="137" fill="rgb(100,100,100)"/><circle cx="3912.58" cy="723.17" r="28" fill="url(#tblob)"/><rect x="3841.34" y="651.93" width="137" height="137" fill="none" stroke="#d21f33" stroke-width="1.35"/><rect x="4039.92" y="651.93" width="137" height="137" fill="rgb(128,128,128)"/><circle cx="4111.16" cy="723.17" r="28" fill="url(#tblob)"/><rect x="4039.92" y="651.93" width="137" height="137" fill="none" stroke="#d21f33" stroke-width="1.35"/><rect x="4238.5" y="651.93" width="137" height="137" fill="rgb(135,135,135)"/><circle cx="4309.74" cy="723.17" r="28" fill="url(#tblob)"/><rect x="4238.5" y="651.93" width="137" height="137" fill="none" stroke="#d21f33" stroke-width="1.35"/><rect x="2252.7" y="847.44" width="137" height="137" fill="rgb(125,125,125)"/><circle cx="2323.94" cy="918.68" r="28" fill="url(#tblob)"/><rect x="2252.7" y="847.44" width="137" height="137" fill="none" stroke="#d21f33" stroke-width="1.35"/><rect x="2451.28" y="847.44" width="137" height="137" fill="rgb(125,125,125)"/><circle cx="2522.52" cy="918.68" r="28" fill="url(#tblob)"/><rect x="2451.28" y="847.44" width="137" height="137" fill="none" stroke="#d21f33" stroke-width="1.35"/><rect x="2649.86" y="847.44" width="137" height="137" fill="rgb(122,122,122)"/><circle cx="2721.1" cy="918.68" r="28" fill="url(#tblob)"/><rect x="2649.86" y="847.44" width="137" height="137" fill="none" stroke="#d21f33" stroke-width="1.35"/><rect x="2848.44" y="847.44" width="137" height="137" fill="rgb(110,110,110)"/><circle cx="2919.68" cy="918.68" r="28" fill="url(#tblob)"/><rect x="2848.44" y="847.44" width="137" height="137" fill="none" stroke="#d21f33" stroke-width="1.35"/><rect x="3047.02" y="847.44" width="137" height="137" fill="rgb(125,125,125)"/><circle cx="3118.26" cy="918.68" r="28" fill="url(#tblob)"/><rect x="3047.02" y="847.44" width="137" height="137" fill="none" stroke="#d21f33" stroke-width="1.35"/><rect x="3245.6" y="847.44" width="137" height="137" fill="rgb(142,142,142)"/><circle cx="3316.84" cy="918.68" r="28" fill="url(#tblob)"/><rect x="3245.6" y="847.44" width="137" height="137" fill="none" stroke="#d21f33" stroke-width="1.35"/><rect x="3444.18" y="847.44" width="137" height="137" fill="rgb(100,100,100)"/><circle cx="3515.42" cy="918.68" r="28" fill="url(#tblob)"/><rect x="3444.18" y="847.44" width="137" height="137" fill="none" stroke="#d21f33" stroke-width="1.35"/><rect x="3642.76" y="847.44" width="137" height="137" fill="rgb(150,150,150)"/><circle cx="3714" cy="918.68" r="28" fill="url(#tblob)"/><rect x="3642.76" y="847.44" width="137" height="137" fill="none" stroke="#d21f33" stroke-width="1.35"/><rect x="3841.34" y="847.44" width="137" height="137" fill="rgb(102,102,102)"/><circle cx="3912.58" cy="918.68" r="28" fill="url(#tblob)"/><rect x="3841.34" y="847.44" width="137" height="137" fill="none" stroke="#d21f33" stroke-width="1.35"/><rect x="4039.92" y="847.44" width="137" height="137" fill="rgb(128,128,128)"/><circle cx="4111.16" cy="918.68" r="28" fill="url(#tblob)"/><rect x="4039.92" y="847.44" width="137" height="137" fill="none" stroke="#d21f33" stroke-width="1.35"/><rect x="4238.5" y="847.44" width="137" height="137" fill="rgb(128,128,128)"/><circle cx="4309.74" cy="918.68" r="28" fill="url(#tblob)"/><rect x="4238.5" y="847.44" width="137" height="137" fill="none" stroke="#d21f33" stroke-width="1.35"/><rect x="2252.7" y="1042.95" width="137" height="137" fill="rgb(130,130,130)"/><circle cx="2323.94" cy="1114.19" r="28" fill="url(#tblob)"/><rect x="2252.7" y="1042.95" width="137" height="137" fill="none" stroke="#d21f33" stroke-width="1.35"/><rect x="2451.28" y="1042.95" width="137" height="137" fill="rgb(130,130,130)"/><circle cx="2522.52" cy="1114.19" r="28" fill="url(#tblob)"/><rect x="2451.28" y="1042.95" width="137" height="137" fill="none" stroke="#d21f33" stroke-width="1.35"/><rect x="2649.86" y="1042.95" width="137" height="137" fill="rgb(150,150,150)"/><circle cx="2721.1" cy="1114.19" r="28" fill="url(#tblob)"/><rect x="2649.86" y="1042.95" width="137" height="137" fill="none" stroke="#d21f33" stroke-width="1.35"/><rect x="2848.44" y="1042.95" width="137" height="137" fill="rgb(142,142,142)"/><circle cx="2919.68" cy="1114.19" r="28" fill="url(#tblob)"/><rect x="2848.44" y="1042.95" width="137" height="137" fill="none" stroke="#d21f33" stroke-width="1.35"/><rect x="3047.02" y="1042.95" width="137" height="137" fill="rgb(98,98,98)"/><circle cx="3118.26" cy="1114.19" r="28" fill="url(#tblob)"/><rect x="3047.02" y="1042.95" width="137" height="137" fill="none" stroke="#d21f33" stroke-width="1.35"/><rect x="3245.6" y="1042.95" width="137" height="137" fill="rgb(140,140,140)"/><circle cx="3316.84" cy="1114.19" r="28" fill="url(#tblob)"/><rect x="3245.6" y="1042.95" width="137" height="137" fill="none" stroke="#d21f33" stroke-width="1.35"/><rect x="3444.18" y="1042.95" width="137" height="137" fill="rgb(112,112,112)"/><circle cx="3515.42" cy="1114.19" r="28" fill="url(#tblob)"/><rect x="3444.18" y="1042.95" width="137" height="137" fill="none" stroke="#d21f33" stroke-width="1.35"/><rect x="3642.76" y="1042.95" width="137" height="137" fill="rgb(128,128,128)"/><circle cx="3714" cy="1114.19" r="28" fill="url(#tblob)"/><rect x="3642.76" y="1042.95" width="137" height="137" fill="none" stroke="#d21f33" stroke-width="1.35"/><rect x="3841.34" y="1042.95" width="137" height="137" fill="rgb(122,122,122)"/><circle cx="3912.58" cy="1114.19" r="28" fill="url(#tblob)"/><rect x="3841.34" y="1042.95" width="137" height="137" fill="none" stroke="#d21f33" stroke-width="1.35"/><rect x="4039.92" y="1042.95" width="137" height="137" fill="rgb(122,122,122)"/><circle cx="4111.16" cy="1114.19" r="28" fill="url(#tblob)"/><rect x="4039.92" y="1042.95" width="137" height="137" fill="none" stroke="#d21f33" stroke-width="1.35"/><rect x="4238.5" y="1042.95" width="137" height="137" fill="rgb(115,115,115)"/><circle cx="4309.74" cy="1114.19" r="28" fill="url(#tblob)"/><rect x="4238.5" y="1042.95" width="137" height="137" fill="none" stroke="#d21f33" stroke-width="1.35"/><rect x="2252.7" y="1238.46" width="137" height="137" fill="rgb(145,145,145)"/><circle cx="2323.94" cy="1309.7" r="28" fill="url(#tblob)"/><rect x="2252.7" y="1238.46" width="137" height="137" fill="none" stroke="#d21f33" stroke-width="1.35"/><rect x="2451.28" y="1238.46" width="137" height="137" fill="rgb(110,110,110)"/><circle cx="2522.52" cy="1309.7" r="28" fill="url(#tblob)"/><rect x="2451.28" y="1238.46" width="137" height="137" fill="none" stroke="#d21f33" stroke-width="1.35"/><rect x="2649.86" y="1238.46" width="137" height="137" fill="rgb(122,122,122)"/><circle cx="2721.1" cy="1309.7" r="28" fill="url(#tblob)"/><rect x="2649.86" y="1238.46" width="137" height="137" fill="none" stroke="#d21f33" stroke-width="1.35"/><rect x="2848.44" y="1238.46" width="137" height="137" fill="rgb(120,120,120)"/><circle cx="2919.68" cy="1309.7" r="28" fill="url(#tblob)"/><rect x="2848.44" y="1238.46" width="137" height="137" fill="none" stroke="#d21f33" stroke-width="1.35"/><rect x="3047.02" y="1238.46" width="137" height="137" fill="rgb(122,122,122)"/><circle cx="3118.26" cy="1309.7" r="28" fill="url(#tblob)"/><rect x="3047.02" y="1238.46" width="137" height="137" fill="none" stroke="#d21f33" stroke-width="1.35"/><rect x="3245.6" y="1238.46" width="137" height="137" fill="rgb(132,132,132)"/><circle cx="3316.84" cy="1309.7" r="28" fill="url(#tblob)"/><rect x="3245.6" y="1238.46" width="137" height="137" fill="none" stroke="#d21f33" stroke-width="1.35"/><rect x="3444.18" y="1238.46" width="137" height="137" fill="rgb(150,150,150)"/><circle cx="3515.42" cy="1309.7" r="28" fill="url(#tblob)"/><rect x="3444.18" y="1238.46" width="137" height="137" fill="none" stroke="#d21f33" stroke-width="1.35"/><rect x="3642.76" y="1238.46" width="137" height="137" fill="rgb(122,122,122)"/><circle cx="3714" cy="1309.7" r="28" fill="url(#tblob)"/><rect x="3642.76" y="1238.46" width="137" height="137" fill="none" stroke="#d21f33" stroke-width="1.35"/><rect x="3841.34" y="1238.46" width="137" height="137" fill="rgb(122,122,122)"/><circle cx="3912.58" cy="1309.7" r="28" fill="url(#tblob)"/><rect x="3841.34" y="1238.46" width="137" height="137" fill="none" stroke="#d21f33" stroke-width="1.35"/><rect x="4039.92" y="1238.46" width="137" height="137" fill="rgb(128,128,128)"/><circle cx="4111.16" cy="1309.7" r="28" fill="url(#tblob)"/><rect x="4039.92" y="1238.46" width="137" height="137" fill="none" stroke="#d21f33" stroke-width="1.35"/><rect x="4238.5" y="1238.46" width="137" height="137" fill="rgb(122,122,122)"/><circle cx="4309.74" cy="1309.7" r="28" fill="url(#tblob)"/><rect x="4238.5" y="1238.46" width="137" height="137" fill="none" stroke="#d21f33" stroke-width="1.35"/><rect x="2252.7" y="1433.97" width="137" height="137" fill="rgb(140,140,140)"/><circle cx="2323.94" cy="1505.21" r="28" fill="url(#tblob)"/><rect x="2252.7" y="1433.97" width="137" height="137" fill="none" stroke="#d21f33" stroke-width="1.35"/><rect x="2451.28" y="1433.97" width="137" height="137" fill="rgb(138,138,138)"/><circle cx="2522.52" cy="1505.21" r="28" fill="url(#tblob)"/><rect x="2451.28" y="1433.97" width="137" height="137" fill="none" stroke="#d21f33" stroke-width="1.35"/><rect x="2649.86" y="1433.97" width="137" height="137" fill="rgb(125,125,125)"/><circle cx="2721.1" cy="1505.21" r="28" fill="url(#tblob)"/><rect x="2649.86" y="1433.97" width="137" height="137" fill="none" stroke="#d21f33" stroke-width="1.35"/><rect x="2848.44" y="1433.97" width="137" height="137" fill="rgb(155,155,155)"/><circle cx="2919.68" cy="1505.21" r="28" fill="url(#tblob)"/><rect x="2848.44" y="1433.97" width="137" height="137" fill="none" stroke="#d21f33" stroke-width="1.35"/><rect x="3047.02" y="1433.97" width="137" height="137" fill="rgb(138,138,138)"/><circle cx="3118.26" cy="1505.21" r="28" fill="url(#tblob)"/><rect x="3047.02" y="1433.97" width="137" height="137" fill="none" stroke="#d21f33" stroke-width="1.35"/><rect x="3245.6" y="1433.97" width="137" height="137" fill="rgb(120,120,120)"/><circle cx="3316.84" cy="1505.21" r="28" fill="url(#tblob)"/><rect x="3245.6" y="1433.97" width="137" height="137" fill="none" stroke="#d21f33" stroke-width="1.35"/><rect x="3444.18" y="1433.97" width="137" height="137" fill="rgb(120,120,120)"/><circle cx="3515.42" cy="1505.21" r="28" fill="url(#tblob)"/><rect x="3444.18" y="1433.97" width="137" height="137" fill="none" stroke="#d21f33" stroke-width="1.35"/><rect x="3642.76" y="1433.97" width="137" height="137" fill="rgb(125,125,125)"/><circle cx="3714" cy="1505.21" r="28" fill="url(#tblob)"/><rect x="3642.76" y="1433.97" width="137" height="137" fill="none" stroke="#d21f33" stroke-width="1.35"/><rect x="3841.34" y="1433.97" width="137" height="137" fill="rgb(115,115,115)"/><circle cx="3912.58" cy="1505.21" r="28" fill="url(#tblob)"/><rect x="3841.34" y="1433.97" width="137" height="137" fill="none" stroke="#d21f33" stroke-width="1.35"/><rect x="4039.92" y="1433.97" width="137" height="137" fill="rgb(138,138,138)"/><circle cx="4111.16" cy="1505.21" r="28" fill="url(#tblob)"/><rect x="4039.92" y="1433.97" width="137" height="137" fill="none" stroke="#d21f33" stroke-width="1.35"/><rect x="4238.5" y="1433.97" width="137" height="137" fill="rgb(125,125,125)"/><circle cx="4309.74" cy="1505.21" r="28" fill="url(#tblob)"/><rect x="4238.5" y="1433.97" width="137" height="137" fill="none" stroke="#d21f33" stroke-width="1.35"/><rect x="2252.7" y="1629.48" width="137" height="137" fill="rgb(125,125,125)"/><circle cx="2323.94" cy="1700.72" r="28" fill="url(#tblob)"/><rect x="2252.7" y="1629.48" width="137" height="137" fill="none" stroke="#d21f33" stroke-width="1.35"/><rect x="2451.28" y="1629.48" width="137" height="137" fill="rgb(130,130,130)"/><circle cx="2522.52" cy="1700.72" r="28" fill="url(#tblob)"/><rect x="2451.28" y="1629.48" width="137" height="137" fill="none" stroke="#d21f33" stroke-width="1.35"/><rect x="2649.86" y="1629.48" width="137" height="137" fill="rgb(142,142,142)"/><circle cx="2721.1" cy="1700.72" r="28" fill="url(#tblob)"/><rect x="2649.86" y="1629.48" width="137" height="137" fill="none" stroke="#d21f33" stroke-width="1.35"/><rect x="2848.44" y="1629.48" width="137" height="137" fill="rgb(115,115,115)"/><circle cx="2919.68" cy="1700.72" r="28" fill="url(#tblob)"/><rect x="2848.44" y="1629.48" width="137" height="137" fill="none" stroke="#d21f33" stroke-width="1.35"/><rect x="3047.02" y="1629.48" width="137" height="137" fill="rgb(108,108,108)"/><circle cx="3118.26" cy="1700.72" r="28" fill="url(#tblob)"/><rect x="3047.02" y="1629.48" width="137" height="137" fill="none" stroke="#d21f33" stroke-width="1.35"/><rect x="3245.6" y="1629.48" width="137" height="137" fill="rgb(95,95,95)"/><circle cx="3316.84" cy="1700.72" r="28" fill="url(#tblob)"/><rect x="3245.6" y="1629.48" width="137" height="137" fill="none" stroke="#d21f33" stroke-width="1.35"/><rect x="3444.18" y="1629.48" width="137" height="137" fill="rgb(148,148,148)"/><circle cx="3515.42" cy="1700.72" r="28" fill="url(#tblob)"/><rect x="3444.18" y="1629.48" width="137" height="137" fill="none" stroke="#d21f33" stroke-width="1.35"/><rect x="3642.76" y="1629.48" width="137" height="137" fill="rgb(125,125,125)"/><circle cx="3714" cy="1700.72" r="28" fill="url(#tblob)"/><rect x="3642.76" y="1629.48" width="137" height="137" fill="none" stroke="#d21f33" stroke-width="1.35"/><rect x="3841.34" y="1629.48" width="137" height="137" fill="rgb(120,120,120)"/><circle cx="3912.58" cy="1700.72" r="28" fill="url(#tblob)"/><rect x="3841.34" y="1629.48" width="137" height="137" fill="none" stroke="#d21f33" stroke-width="1.35"/><rect x="4039.92" y="1629.48" width="137" height="137" fill="rgb(128,128,128)"/><circle cx="4111.16" cy="1700.72" r="28" fill="url(#tblob)"/><rect x="4039.92" y="1629.48" width="137" height="137" fill="none" stroke="#d21f33" stroke-width="1.35"/><rect x="4238.5" y="1629.48" width="137" height="137" fill="rgb(120,120,120)"/><circle cx="4309.74" cy="1700.72" r="28" fill="url(#tblob)"/><rect x="4238.5" y="1629.48" width="137" height="137" fill="none" stroke="#d21f33" stroke-width="1.35"/><rect x="2252.7" y="1824.99" width="137" height="137" fill="rgb(108,108,108)"/><circle cx="2323.94" cy="1896.23" r="28" fill="url(#tblob)"/><rect x="2252.7" y="1824.99" width="137" height="137" fill="none" stroke="#d21f33" stroke-width="1.35"/><rect x="2451.28" y="1824.99" width="137" height="137" fill="rgb(150,150,150)"/><circle cx="2522.52" cy="1896.23" r="28" fill="url(#tblob)"/><rect x="2451.28" y="1824.99" width="137" height="137" fill="none" stroke="#d21f33" stroke-width="1.35"/><rect x="2649.86" y="1824.99" width="137" height="137" fill="rgb(120,120,120)"/><circle cx="2721.1" cy="1896.23" r="28" fill="url(#tblob)"/><rect x="2649.86" y="1824.99" width="137" height="137" fill="none" stroke="#d21f33" stroke-width="1.35"/><rect x="2848.44" y="1824.99" width="137" height="137" fill="rgb(125,125,125)"/><circle cx="2919.68" cy="1896.23" r="28" fill="url(#tblob)"/><rect x="2848.44" y="1824.99" width="137" height="137" fill="none" stroke="#d21f33" stroke-width="1.35"/><rect x="3047.02" y="1824.99" width="137" height="137" fill="rgb(125,125,125)"/><circle cx="3118.26" cy="1896.23" r="28" fill="url(#tblob)"/><rect x="3047.02" y="1824.99" width="137" height="137" fill="none" stroke="#d21f33" stroke-width="1.35"/>
<path d="M2248.1 66.77H2252.7M2254.07 202.4V207M2248.1 121.57H2252.7M2308.87 202.4V207M2248.1 176.37H2252.7M2363.67 202.4V207M2446.68 66.77H2451.28M2452.65 202.4V207M2446.68 121.57H2451.28M2507.45 202.4V207M2446.68 176.37H2451.28M2562.25 202.4V207M2645.26 66.77H2649.86M2651.23 202.4V207M2645.26 121.57H2649.86M2706.03 202.4V207M2645.26 176.37H2649.86M2760.83 202.4V207M2843.84 66.77H2848.44M2849.81 202.4V207M2843.84 121.57H2848.44M2904.61 202.4V207M2843.84 176.37H2848.44M2959.41 202.4V207M3042.42 66.77H3047.02M3048.39 202.4V207M3042.42 121.57H3047.02M3103.19 202.4V207M3042.42 176.37H3047.02M3157.99 202.4V207M3241 66.77H3245.6M3246.97 202.4V207M3241 121.57H3245.6M3301.77 202.4V207M3241 176.37H3245.6M3356.57 202.4V207M3439.58 66.77H3444.18M3445.55 202.4V207M3439.58 121.57H3444.18M3500.35 202.4V207M3439.58 176.37H3444.18M3555.15 202.4V207M3638.16 66.77H3642.76M3644.13 202.4V207M3638.16 121.57H3642.76M3698.93 202.4V207M3638.16 176.37H3642.76M3753.73 202.4V207M3836.74 66.77H3841.34M3842.71 202.4V207M3836.74 121.57H3841.34M3897.51 202.4V207M3836.74 176.37H3841.34M3952.31 202.4V207M4035.32 66.77H4039.92M4041.29 202.4V207M4035.32 121.57H4039.92M4096.09 202.4V207M4035.32 176.37H4039.92M4150.89 202.4V207M4233.9 66.77H4238.5M4239.87 202.4V207M4233.9 121.57H4238.5M4294.67 202.4V207M4233.9 176.37H4238.5M4349.47 202.4V207M2248.1 262.28H2252.7M2254.07 397.91V402.51M2248.1 317.08H2252.7M2308.87 397.91V402.51M2248.1 371.88H2252.7M2363.67 397.91V402.51M2446.68 262.28H2451.28M2452.65 397.91V402.51M2446.68 317.08H2451.28M2507.45 397.91V402.51M2446.68 371.88H2451.28M2562.25 397.91V402.51M2645.26 262.28H2649.86M2651.23 397.91V402.51M2645.26 317.08H2649.86M2706.03 397.91V402.51M2645.26 371.88H2649.86M2760.83 397.91V402.51M2843.84 262.28H2848.44M2849.81 397.91V402.51M2843.84 317.08H2848.44M2904.61 397.91V402.51M2843.84 371.88H2848.44M2959.41 397.91V402.51M3042.42 262.28H3047.02M3048.39 397.91V402.51M3042.42 317.08H3047.02M3103.19 397.91V402.51M3042.42 371.88H3047.02M3157.99 397.91V402.51M3241 262.28H3245.6M3246.97 397.91V402.51M3241 317.08H3245.6M3301.77 397.91V402.51M3241 371.88H3245.6M3356.57 397.91V402.51M3439.58 262.28H3444.18M3445.55 397.91V402.51M3439.58 317.08H3444.18M3500.35 397.91V402.51M3439.58 371.88H3444.18M3555.15 397.91V402.51M3638.16 262.28H3642.76M3644.13 397.91V402.51M3638.16 317.08H3642.76M3698.93 397.91V402.51M3638.16 371.88H3642.76M3753.73 397.91V402.51M3836.74 262.28H3841.34M3842.71 397.91V402.51M3836.74 317.08H3841.34M3897.51 397.91V402.51M3836.74 371.88H3841.34M3952.31 397.91V402.51M4035.32 262.28H4039.92M4041.29 397.91V402.51M4035.32 317.08H4039.92M4096.09 397.91V402.51M4035.32 371.88H4039.92M4150.89 397.91V402.51M4233.9 262.28H4238.5M4239.87 397.91V402.51M4233.9 317.08H4238.5M4294.67 397.91V402.51M4233.9 371.88H4238.5M4349.47 397.91V402.51M2248.1 457.79H2252.7M2254.07 593.42V598.02M2248.1 512.59H2252.7M2308.87 593.42V598.02M2248.1 567.39H2252.7M2363.67 593.42V598.02M2446.68 457.79H2451.28M2452.65 593.42V598.02M2446.68 512.59H2451.28M2507.45 593.42V598.02M2446.68 567.39H2451.28M2562.25 593.42V598.02M2645.26 457.79H2649.86M2651.23 593.42V598.02M2645.26 512.59H2649.86M2706.03 593.42V598.02M2645.26 567.39H2649.86M2760.83 593.42V598.02M2843.84 457.79H2848.44M2849.81 593.42V598.02M2843.84 512.59H2848.44M2904.61 593.42V598.02M2843.84 567.39H2848.44M2959.41 593.42V598.02M3042.42 457.79H3047.02M3048.39 593.42V598.02M3042.42 512.59H3047.02M3103.19 593.42V598.02M3042.42 567.39H3047.02M3157.99 593.42V598.02M3241 457.79H3245.6M3246.97 593.42V598.02M3241 512.59H3245.6M3301.77 593.42V598.02M3241 567.39H3245.6M3356.57 593.42V598.02M3439.58 457.79H3444.18M3445.55 593.42V598.02M3439.58 512.59H3444.18M3500.35 593.42V598.02M3439.58 567.39H3444.18M3555.15 593.42V598.02M3638.16 457.79H3642.76M3644.13 593.42V598.02M3638.16 512.59H3642.76M3698.93 593.42V598.02M3638.16 567.39H3642.76M3753.73 593.42V598.02M3836.74 457.79H3841.34M3842.71 593.42V598.02M3836.74 512.59H3841.34M3897.51 593.42V598.02M3836.74 567.39H3841.34M3952.31 593.42V598.02M4035.32 457.79H4039.92M4041.29 593.42V598.02M4035.32 512.59H4039.92M4096.09 593.42V598.02M4035.32 567.39H4039.92M4150.89 593.42V598.02M4233.9 457.79H4238.5M4239.87 593.42V598.02M4233.9 512.59H4238.5M4294.67 593.42V598.02M4233.9 567.39H4238.5M4349.47 593.42V598.02M2248.1 653.3H2252.7M2254.07 788.93V793.53M2248.1 708.1H2252.7M2308.87 788.93V793.53M2248.1 762.9H2252.7M2363.67 788.93V793.53M2446.68 653.3H2451.28M2452.65 788.93V793.53M2446.68 708.1H2451.28M2507.45 788.93V793.53M2446.68 762.9H2451.28M2562.25 788.93V793.53M2645.26 653.3H2649.86M2651.23 788.93V793.53M2645.26 708.1H2649.86M2706.03 788.93V793.53M2645.26 762.9H2649.86M2760.83 788.93V793.53M2843.84 653.3H2848.44M2849.81 788.93V793.53M2843.84 708.1H2848.44M2904.61 788.93V793.53M2843.84 762.9H2848.44M2959.41 788.93V793.53M3042.42 653.3H3047.02M3048.39 788.93V793.53M3042.42 708.1H3047.02M3103.19 788.93V793.53M3042.42 762.9H3047.02M3157.99 788.93V793.53M3241 653.3H3245.6M3246.97 788.93V793.53M3241 708.1H3245.6M3301.77 788.93V793.53M3241 762.9H3245.6M3356.57 788.93V793.53M3439.58 653.3H3444.18M3445.55 788.93V793.53M3439.58 708.1H3444.18M3500.35 788.93V793.53M3439.58 762.9H3444.18M3555.15 788.93V793.53M3638.16 653.3H3642.76M3644.13 788.93V793.53M3638.16 708.1H3642.76M3698.93 788.93V793.53M3638.16 762.9H3642.76M3753.73 788.93V793.53M3836.74 653.3H3841.34M3842.71 788.93V793.53M3836.74 708.1H3841.34M3897.51 788.93V793.53M3836.74 762.9H3841.34M3952.31 788.93V793.53M4035.32 653.3H4039.92M4041.29 788.93V793.53M4035.32 708.1H4039.92M4096.09 788.93V793.53M4035.32 762.9H4039.92M4150.89 788.93V793.53M4233.9 653.3H4238.5M4239.87 788.93V793.53M4233.9 708.1H4238.5M4294.67 788.93V793.53M4233.9 762.9H4238.5M4349.47 788.93V793.53M2248.1 848.81H2252.7M2254.07 984.44V989.04M2248.1 903.61H2252.7M2308.87 984.44V989.04M2248.1 958.41H2252.7M2363.67 984.44V989.04M2446.68 848.81H2451.28M2452.65 984.44V989.04M2446.68 903.61H2451.28M2507.45 984.44V989.04M2446.68 958.41H2451.28M2562.25 984.44V989.04M2645.26 848.81H2649.86M2651.23 984.44V989.04M2645.26 903.61H2649.86M2706.03 984.44V989.04M2645.26 958.41H2649.86M2760.83 984.44V989.04M2843.84 848.81H2848.44M2849.81 984.44V989.04M2843.84 903.61H2848.44M2904.61 984.44V989.04M2843.84 958.41H2848.44M2959.41 984.44V989.04M3042.42 848.81H3047.02M3048.39 984.44V989.04M3042.42 903.61H3047.02M3103.19 984.44V989.04M3042.42 958.41H3047.02M3157.99 984.44V989.04M3241 848.81H3245.6M3246.97 984.44V989.04M3241 903.61H3245.6M3301.77 984.44V989.04M3241 958.41H3245.6M3356.57 984.44V989.04M3439.58 848.81H3444.18M3445.55 984.44V989.04M3439.58 903.61H3444.18M3500.35 984.44V989.04M3439.58 958.41H3444.18M3555.15 984.44V989.04M3638.16 848.81H3642.76M3644.13 984.44V989.04M3638.16 903.61H3642.76M3698.93 984.44V989.04M3638.16 958.41H3642.76M3753.73 984.44V989.04M3836.74 848.81H3841.34M3842.71 984.44V989.04M3836.74 903.61H3841.34M3897.51 984.44V989.04M3836.74 958.41H3841.34M3952.31 984.44V989.04M4035.32 848.81H4039.92M4041.29 984.44V989.04M4035.32 903.61H4039.92M4096.09 984.44V989.04M4035.32 958.41H4039.92M4150.89 984.44V989.04M4233.9 848.81H4238.5M4239.87 984.44V989.04M4233.9 903.61H4238.5M4294.67 984.44V989.04M4233.9 958.41H4238.5M4349.47 984.44V989.04M2248.1 1044.32H2252.7M2254.07 1179.95V1184.55M2248.1 1099.12H2252.7M2308.87 1179.95V1184.55M2248.1 1153.92H2252.7M2363.67 1179.95V1184.55M2446.68 1044.32H2451.28M2452.65 1179.95V1184.55M2446.68 1099.12H2451.28M2507.45 1179.95V1184.55M2446.68 1153.92H2451.28M2562.25 1179.95V1184.55M2645.26 1044.32H2649.86M2651.23 1179.95V1184.55M2645.26 1099.12H2649.86M2706.03 1179.95V1184.55M2645.26 1153.92H2649.86M2760.83 1179.95V1184.55M2843.84 1044.32H2848.44M2849.81 1179.95V1184.55M2843.84 1099.12H2848.44M2904.61 1179.95V1184.55M2843.84 1153.92H2848.44M2959.41 1179.95V1184.55M3042.42 1044.32H3047.02M3048.39 1179.95V1184.55M3042.42 1099.12H3047.02M3103.19 1179.95V1184.55M3042.42 1153.92H3047.02M3157.99 1179.95V1184.55M3241 1044.32H3245.6M3246.97 1179.95V1184.55M3241 1099.12H3245.6M3301.77 1179.95V1184.55M3241 1153.92H3245.6M3356.57 1179.95V1184.55M3439.58 1044.32H3444.18M3445.55 1179.95V1184.55M3439.58 1099.12H3444.18M3500.35 1179.95V1184.55M3439.58 1153.92H3444.18M3555.15 1179.95V1184.55M3638.16 1044.32H3642.76M3644.13 1179.95V1184.55M3638.16 1099.12H3642.76M3698.93 1179.95V1184.55M3638.16 1153.92H3642.76M3753.73 1179.95V1184.55M3836.74 1044.32H3841.34M3842.71 1179.95V1184.55M3836.74 1099.12H3841.34M3897.51 1179.95V1184.55M3836.74 1153.92H3841.34M3952.31 1179.95V1184.55M4035.32 1044.32H4039.92M4041.29 1179.95V1184.55M4035.32 1099.12H4039.92M4096.09 1179.95V1184.55M4035.32 1153.92H4039.92M4150.89 1179.95V1184.55M4233.9 1044.32H4238.5M4239.87 1179.95V1184.55M4233.9 1099.12H4238.5M4294.67 1179.95V1184.55M4233.9 1153.92H4238.5M4349.47 1179.95V1184.55M2248.1 1239.83H2252.7M2254.07 1375.46V1380.06M2248.1 1294.63H2252.7M2308.87 1375.46V1380.06M2248.1 1349.43H2252.7M2363.67 1375.46V1380.06M2446.68 1239.83H2451.28M2452.65 1375.46V1380.06M2446.68 1294.63H2451.28M2507.45 1375.46V1380.06M2446.68 1349.43H2451.28M2562.25 1375.46V1380.06M2645.26 1239.83H2649.86M2651.23 1375.46V1380.06M2645.26 1294.63H2649.86M2706.03 1375.46V1380.06M2645.26 1349.43H2649.86M2760.83 1375.46V1380.06M2843.84 1239.83H2848.44M2849.81 1375.46V1380.06M2843.84 1294.63H2848.44M2904.61 1375.46V1380.06M2843.84 1349.43H2848.44M2959.41 1375.46V1380.06M3042.42 1239.83H3047.02M3048.39 1375.46V1380.06M3042.42 1294.63H3047.02M3103.19 1375.46V1380.06M3042.42 1349.43H3047.02M3157.99 1375.46V1380.06M3241 1239.83H3245.6M3246.97 1375.46V1380.06M3241 1294.63H3245.6M3301.77 1375.46V1380.06M3241 1349.43H3245.6M3356.57 1375.46V1380.06M3439.58 1239.83H3444.18M3445.55 1375.46V1380.06M3439.58 1294.63H3444.18M3500.35 1375.46V1380.06M3439.58 1349.43H3444.18M3555.15 1375.46V1380.06M3638.16 1239.83H3642.76M3644.13 1375.46V1380.06M3638.16 1294.63H3642.76M3698.93 1375.46V1380.06M3638.16 1349.43H3642.76M3753.73 1375.46V1380.06M3836.74 1239.83H3841.34M3842.71 1375.46V1380.06M3836.74 1294.63H3841.34M3897.51 1375.46V1380.06M3836.74 1349.43H3841.34M3952.31 1375.46V1380.06M4035.32 1239.83H4039.92M4041.29 1375.46V1380.06M4035.32 1294.63H4039.92M4096.09 1375.46V1380.06M4035.32 1349.43H4039.92M4150.89 1375.46V1380.06M4233.9 1239.83H4238.5M4239.87 1375.46V1380.06M4233.9 1294.63H4238.5M4294.67 1375.46V1380.06M4233.9 1349.43H4238.5M4349.47 1375.46V1380.06M2248.1 1435.34H2252.7M2254.07 1570.97V1575.57M2248.1 1490.14H2252.7M2308.87 1570.97V1575.57M2248.1 1544.94H2252.7M2363.67 1570.97V1575.57M2446.68 1435.34H2451.28M2452.65 1570.97V1575.57M2446.68 1490.14H2451.28M2507.45 1570.97V1575.57M2446.68 1544.94H2451.28M2562.25 1570.97V1575.57M2645.26 1435.34H2649.86M2651.23 1570.97V1575.57M2645.26 1490.14H2649.86M2706.03 1570.97V1575.57M2645.26 1544.94H2649.86M2760.83 1570.97V1575.57M2843.84 1435.34H2848.44M2849.81 1570.97V1575.57M2843.84 1490.14H2848.44M2904.61 1570.97V1575.57M2843.84 1544.94H2848.44M2959.41 1570.97V1575.57M3042.42 1435.34H3047.02M3048.39 1570.97V1575.57M3042.42 1490.14H3047.02M3103.19 1570.97V1575.57M3042.42 1544.94H3047.02M3157.99 1570.97V1575.57M3241 1435.34H3245.6M3246.97 1570.97V1575.57M3241 1490.14H3245.6M3301.77 1570.97V1575.57M3241 1544.94H3245.6M3356.57 1570.97V1575.57M3439.58 1435.34H3444.18M3445.55 1570.97V1575.57M3439.58 1490.14H3444.18M3500.35 1570.97V1575.57M3439.58 1544.94H3444.18M3555.15 1570.97V1575.57M3638.16 1435.34H3642.76M3644.13 1570.97V1575.57M3638.16 1490.14H3642.76M3698.93 1570.97V1575.57M3638.16 1544.94H3642.76M3753.73 1570.97V1575.57M3836.74 1435.34H3841.34M3842.71 1570.97V1575.57M3836.74 1490.14H3841.34M3897.51 1570.97V1575.57M3836.74 1544.94H3841.34M3952.31 1570.97V1575.57M4035.32 1435.34H4039.92M4041.29 1570.97V1575.57M4035.32 1490.14H4039.92M4096.09 1570.97V1575.57M4035.32 1544.94H4039.92M4150.89 1570.97V1575.57M4233.9 1435.34H4238.5M4239.87 1570.97V1575.57M4233.9 1490.14H4238.5M4294.67 1570.97V1575.57M4233.9 1544.94H4238.5M4349.47 1570.97V1575.57M2248.1 1630.85H2252.7M2254.07 1766.48V1771.08M2248.1 1685.65H2252.7M2308.87 1766.48V1771.08M2248.1 1740.45H2252.7M2363.67 1766.48V1771.08M2446.68 1630.85H2451.28M2452.65 1766.48V1771.08M2446.68 1685.65H2451.28M2507.45 1766.48V1771.08M2446.68 1740.45H2451.28M2562.25 1766.48V1771.08M2645.26 1630.85H2649.86M2651.23 1766.48V1771.08M2645.26 1685.65H2649.86M2706.03 1766.48V1771.08M2645.26 1740.45H2649.86M2760.83 1766.48V1771.08M2843.84 1630.85H2848.44M2849.81 1766.48V1771.08M2843.84 1685.65H2848.44M2904.61 1766.48V1771.08M2843.84 1740.45H2848.44M2959.41 1766.48V1771.08M3042.42 1630.85H3047.02M3048.39 1766.48V1771.08M3042.42 1685.65H3047.02M3103.19 1766.48V1771.08M3042.42 1740.45H3047.02M3157.99 1766.48V1771.08M3241 1630.85H3245.6M3246.97 1766.48V1771.08M3241 1685.65H3245.6M3301.77 1766.48V1771.08M3241 1740.45H3245.6M3356.57 1766.48V1771.08M3439.58 1630.85H3444.18M3445.55 1766.48V1771.08M3439.58 1685.65H3444.18M3500.35 1766.48V1771.08M3439.58 1740.45H3444.18M3555.15 1766.48V1771.08M3638.16 1630.85H3642.76M3644.13 1766.48V1771.08M3638.16 1685.65H3642.76M3698.93 1766.48V1771.08M3638.16 1740.45H3642.76M3753.73 1766.48V1771.08M3836.74 1630.85H3841.34M3842.71 1766.48V1771.08M3836.74 1685.65H3841.34M3897.51 1766.48V1771.08M3836.74 1740.45H3841.34M3952.31 1766.48V1771.08M4035.32 1630.85H4039.92M4041.29 1766.48V1771.08M4035.32 1685.65H4039.92M4096.09 1766.48V1771.08M4035.32 1740.45H4039.92M4150.89 1766.48V1771.08M4233.9 1630.85H4238.5M4239.87 1766.48V1771.08M4233.9 1685.65H4238.5M4294.67 1766.48V1771.08M4233.9 1740.45H4238.5M4349.47 1766.48V1771.08M2248.1 1826.36H2252.7M2254.07 1961.99V1966.59M2248.1 1881.16H2252.7M2308.87 1961.99V1966.59M2248.1 1935.96H2252.7M2363.67 1961.99V1966.59M2446.68 1826.36H2451.28M2452.65 1961.99V1966.59M2446.68 1881.16H2451.28M2507.45 1961.99V1966.59M2446.68 1935.96H2451.28M2562.25 1961.99V1966.59M2645.26 1826.36H2649.86M2651.23 1961.99V1966.59M2645.26 1881.16H2649.86M2706.03 1961.99V1966.59M2645.26 1935.96H2649.86M2760.83 1961.99V1966.59M2843.84 1826.36H2848.44M2849.81 1961.99V1966.59M2843.84 1881.16H2848.44M2904.61 1961.99V1966.59M2843.84 1935.96H2848.44M2959.41 1961.99V1966.59M3042.42 1826.36H3047.02M3048.39 1961.99V1966.59M3042.42 1881.16H3047.02M3103.19 1961.99V1966.59M3042.42 1935.96H3047.02M3157.99 1961.99V1966.59" stroke="#222" stroke-width="1.1" fill="none"/>
<text transform="translate(2235.1,71.92) scale(1.0215,1)" font-size="14.77">0</text><text transform="translate(2249.87,222) scale(1.0215,1)" font-size="14.77">0</text><text transform="translate(2225.88,126.72) scale(1.0731,1)" font-size="14.77">20</text><text transform="translate(2300.01,222) scale(1.0731,1)" font-size="14.77">20</text><text transform="translate(2225.97,181.52) scale(1.0677,1)" font-size="14.77">40</text><text transform="translate(2354.9,222) scale(1.0677,1)" font-size="14.77">40</text><text transform="translate(2288.67,56.8) scale(1.0904,1)" font-size="17.22">845872</text><text transform="translate(2433.68,71.92) scale(1.0215,1)" font-size="14.77">0</text><text transform="translate(2448.45,222) scale(1.0215,1)" font-size="14.77">0</text><text transform="translate(2424.46,126.72) scale(1.0731,1)" font-size="14.77">20</text><text transform="translate(2498.59,222) scale(1.0731,1)" font-size="14.77">20</text><text transform="translate(2424.55,181.52) scale(1.0677,1)" font-size="14.77">40</text><text transform="translate(2553.48,222) scale(1.0677,1)" font-size="14.77">40</text><text transform="translate(2487.25,56.8) scale(1.0942,1)" font-size="17.22">845873</text><text transform="translate(2632.26,71.92) scale(1.0215,1)" font-size="14.77">0</text><text transform="translate(2647.03,222) scale(1.0215,1)" font-size="14.77">0</text><text transform="translate(2623.04,126.72) scale(1.0731,1)" font-size="14.77">20</text><text transform="translate(2697.17,222) scale(1.0731,1)" font-size="14.77">20</text><text transform="translate(2623.13,181.52) scale(1.0677,1)" font-size="14.77">40</text><text transform="translate(2752.06,222) scale(1.0677,1)" font-size="14.77">40</text><text transform="translate(2685.82,56.8) scale(1.0964,1)" font-size="17.22">845874</text><text transform="translate(2830.84,71.92) scale(1.0215,1)" font-size="14.77">0</text><text transform="translate(2845.61,222) scale(1.0215,1)" font-size="14.77">0</text><text transform="translate(2821.62,126.72) scale(1.0731,1)" font-size="14.77">20</text><text transform="translate(2895.75,222) scale(1.0731,1)" font-size="14.77">20</text><text transform="translate(2821.71,181.52) scale(1.0677,1)" font-size="14.77">40</text><text transform="translate(2950.64,222) scale(1.0677,1)" font-size="14.77">40</text><text transform="translate(2884.41,56.8) scale(1.0914,1)" font-size="17.22">845875</text><text transform="translate(3029.42,71.92) scale(1.0215,1)" font-size="14.77">0</text><text transform="translate(3044.19,222) scale(1.0215,1)" font-size="14.77">0</text><text transform="translate(3020.2,126.72) scale(1.0731,1)" font-size="14.77">20</text><text transform="translate(3094.33,222) scale(1.0731,1)" font-size="14.77">20</text><text transform="translate(3020.29,181.52) scale(1.0677,1)" font-size="14.77">40</text><text transform="translate(3149.22,222) scale(1.0677,1)" font-size="14.77">40</text><text transform="translate(3082.98,56.8) scale(1.0993,1)" font-size="17.22">845876</text><text transform="translate(3228,71.92) scale(1.0215,1)" font-size="14.77">0</text><text transform="translate(3242.77,222) scale(1.0215,1)" font-size="14.77">0</text><text transform="translate(3218.78,126.72) scale(1.0731,1)" font-size="14.77">20</text><text transform="translate(3292.91,222) scale(1.0731,1)" font-size="14.77">20</text><text transform="translate(3218.87,181.52) scale(1.0677,1)" font-size="14.77">40</text><text transform="translate(3347.8,222) scale(1.0677,1)" font-size="14.77">40</text><text transform="translate(3281.56,56.8) scale(1.0948,1)" font-size="17.22">845877</text><text transform="translate(3426.58,71.92) scale(1.0215,1)" font-size="14.77">0</text><text transform="translate(3441.35,222) scale(1.0215,1)" font-size="14.77">0</text><text transform="translate(3417.36,126.72) scale(1.0731,1)" font-size="14.77">20</text><text transform="translate(3491.49,222) scale(1.0731,1)" font-size="14.77">20</text><text transform="translate(3417.45,181.52) scale(1.0677,1)" font-size="14.77">40</text><text transform="translate(3546.38,222) scale(1.0677,1)" font-size="14.77">40</text><text transform="translate(3480.14,56.8) scale(1.0976,1)" font-size="17.22">845878</text><text transform="translate(3625.16,71.92) scale(1.0215,1)" font-size="14.77">0</text><text transform="translate(3639.93,222) scale(1.0215,1)" font-size="14.77">0</text><text transform="translate(3615.94,126.72) scale(1.0731,1)" font-size="14.77">20</text><text transform="translate(3690.07,222) scale(1.0731,1)" font-size="14.77">20</text><text transform="translate(3616.03,181.52) scale(1.0677,1)" font-size="14.77">40</text><text transform="translate(3744.96,222) scale(1.0677,1)" font-size="14.77">40</text><text transform="translate(3678.72,56.8) scale(1.0983,1)" font-size="17.22">845879</text><text transform="translate(3823.74,71.92) scale(1.0215,1)" font-size="14.77">0</text><text transform="translate(3838.51,222) scale(1.0215,1)" font-size="14.77">0</text><text transform="translate(3814.52,126.72) scale(1.0731,1)" font-size="14.77">20</text><text transform="translate(3888.65,222) scale(1.0731,1)" font-size="14.77">20</text><text transform="translate(3814.61,181.52) scale(1.0677,1)" font-size="14.77">40</text><text transform="translate(3943.54,222) scale(1.0677,1)" font-size="14.77">40</text><text transform="translate(3877.3,56.8) scale(1.0967,1)" font-size="17.22">845880</text><text transform="translate(4022.32,71.92) scale(1.0215,1)" font-size="14.77">0</text><text transform="translate(4037.09,222) scale(1.0215,1)" font-size="14.77">0</text><text transform="translate(4013.1,126.72) scale(1.0731,1)" font-size="14.77">20</text><text transform="translate(4087.23,222) scale(1.0731,1)" font-size="14.77">20</text><text transform="translate(4013.19,181.52) scale(1.0677,1)" font-size="14.77">40</text><text transform="translate(4142.12,222) scale(1.0677,1)" font-size="14.77">40</text><text transform="translate(4075.89,56.8) scale(1.0922,1)" font-size="17.22">845881</text><text transform="translate(4220.9,71.92) scale(1.0215,1)" font-size="14.77">0</text><text transform="translate(4235.67,222) scale(1.0215,1)" font-size="14.77">0</text><text transform="translate(4211.68,126.72) scale(1.0731,1)" font-size="14.77">20</text><text transform="translate(4285.81,222) scale(1.0731,1)" font-size="14.77">20</text><text transform="translate(4211.77,181.52) scale(1.0677,1)" font-size="14.77">40</text><text transform="translate(4340.7,222) scale(1.0677,1)" font-size="14.77">40</text><text transform="translate(4274.47,56.8) scale(1.0904,1)" font-size="17.22">845882</text><text transform="translate(2235.1,267.43) scale(1.0215,1)" font-size="14.77">0</text><text transform="translate(2249.87,417.51) scale(1.0215,1)" font-size="14.77">0</text><text transform="translate(2225.88,322.23) scale(1.0731,1)" font-size="14.77">20</text><text transform="translate(2300.01,417.51) scale(1.0731,1)" font-size="14.77">20</text><text transform="translate(2225.97,377.03) scale(1.0677,1)" font-size="14.77">40</text><text transform="translate(2354.9,417.51) scale(1.0677,1)" font-size="14.77">40</text><text transform="translate(2288.67,252.31) scale(1.0942,1)" font-size="17.22">845883</text><text transform="translate(2433.68,267.43) scale(1.0215,1)" font-size="14.77">0</text><text transform="translate(2448.45,417.51) scale(1.0215,1)" font-size="14.77">0</text><text transform="translate(2424.46,322.23) scale(1.0731,1)" font-size="14.77">20</text><text transform="translate(2498.59,417.51) scale(1.0731,1)" font-size="14.77">20</text><text transform="translate(2424.55,377.03) scale(1.0677,1)" font-size="14.77">40</text><text transform="translate(2553.48,417.51) scale(1.0677,1)" font-size="14.77">40</text><text transform="translate(2487.24,252.31) scale(1.0964,1)" font-size="17.22">845884</text><text transform="translate(2632.26,267.43) scale(1.0215,1)" font-size="14.77">0</text><text transform="translate(2647.03,417.51) scale(1.0215,1)" font-size="14.77">0</text><text transform="translate(2623.04,322.23) scale(1.0731,1)" font-size="14.77">20</text><text transform="translate(2697.17,417.51) scale(1.0731,1)" font-size="14.77">20</text><text transform="translate(2623.13,377.03) scale(1.0677,1)" font-size="14.77">40</text><text transform="translate(2752.06,417.51) scale(1.0677,1)" font-size="14.77">40</text><text transform="translate(2685.83,252.31) scale(1.0914,1)" font-size="17.22">845885</text><text transform="translate(2830.84,267.43) scale(1.0215,1)" font-size="14.77">0</text><text transform="translate(2845.61,417.51) scale(1.0215,1)" font-size="14.77">0</text><text transform="translate(2821.62,322.23) scale(1.0731,1)" font-size="14.77">20</text><text transform="translate(2895.75,417.51) scale(1.0731,1)" font-size="14.77">20</text><text transform="translate(2821.71,377.03) scale(1.0677,1)" font-size="14.77">40</text><text transform="translate(2950.64,417.51) scale(1.0677,1)" font-size="14.77">40</text><text transform="translate(2884.4,252.31) scale(1.0993,1)" font-size="17.22">845886</text><text transform="translate(3029.42,267.43) scale(1.0215,1)" font-size="14.77">0</text><text transform="translate(3044.19,417.51) scale(1.0215,1)" font-size="14.77">0</text><text transform="translate(3020.2,322.23) scale(1.0731,1)" font-size="14.77">20</text><text transform="translate(3094.33,417.51) scale(1.0731,1)" font-size="14.77">20</text><text transform="translate(3020.29,377.03) scale(1.0677,1)" font-size="14.77">40</text><text transform="translate(3149.22,417.51) scale(1.0677,1)" font-size="14.77">40</text><text transform="translate(3082.98,252.31) scale(1.0948,1)" font-size="17.22">845887</text><text transform="translate(3228,267.43) scale(1.0215,1)" font-size="14.77">0</text><text transform="translate(3242.77,417.51) scale(1.0215,1)" font-size="14.77">0</text><text transform="translate(3218.78,322.23) scale(1.0731,1)" font-size="14.77">20</text><text transform="translate(3292.91,417.51) scale(1.0731,1)" font-size="14.77">20</text><text transform="translate(3218.87,377.03) scale(1.0677,1)" font-size="14.77">40</text><text transform="translate(3347.8,417.51) scale(1.0677,1)" font-size="14.77">40</text><text transform="translate(3281.56,252.31) scale(1.0976,1)" font-size="17.22">845888</text><text transform="translate(3426.58,267.43) scale(1.0215,1)" font-size="14.77">0</text><text transform="translate(3441.35,417.51) scale(1.0215,1)" font-size="14.77">0</text><text transform="translate(3417.36,322.23) scale(1.0731,1)" font-size="14.77">20</text><text transform="translate(3491.49,417.51) scale(1.0731,1)" font-size="14.77">20</text><text transform="translate(3417.45,377.03) scale(1.0677,1)" font-size="14.77">40</text><text transform="translate(3546.38,417.51) scale(1.0677,1)" font-size="14.77">40</text><text transform="translate(3480.14,252.31) scale(1.0983,1)" font-size="17.22">845889</text><text transform="translate(3625.16,267.43) scale(1.0215,1)" font-size="14.77">0</text><text transform="translate(3639.93,417.51) scale(1.0215,1)" font-size="14.77">0</text><text transform="translate(3615.94,322.23) scale(1.0731,1)" font-size="14.77">20</text><text transform="translate(3690.07,417.51) scale(1.0731,1)" font-size="14.77">20</text><text transform="translate(3616.03,377.03) scale(1.0677,1)" font-size="14.77">40</text><text transform="translate(3744.96,417.51) scale(1.0677,1)" font-size="14.77">40</text><text transform="translate(3678.72,252.31) scale(1.0967,1)" font-size="17.22">845890</text><text transform="translate(3823.74,267.43) scale(1.0215,1)" font-size="14.77">0</text><text transform="translate(3838.51,417.51) scale(1.0215,1)" font-size="14.77">0</text><text transform="translate(3814.52,322.23) scale(1.0731,1)" font-size="14.77">20</text><text transform="translate(3888.65,417.51) scale(1.0731,1)" font-size="14.77">20</text><text transform="translate(3814.61,377.03) scale(1.0677,1)" font-size="14.77">40</text><text transform="translate(3943.54,417.51) scale(1.0677,1)" font-size="14.77">40</text><text transform="translate(3877.31,252.31) scale(1.0922,1)" font-size="17.22">845891</text><text transform="translate(4022.32,267.43) scale(1.0215,1)" font-size="14.77">0</text><text transform="translate(4037.09,417.51) scale(1.0215,1)" font-size="14.77">0</text><text transform="translate(4013.1,322.23) scale(1.0731,1)" font-size="14.77">20</text><text transform="translate(4087.23,417.51) scale(1.0731,1)" font-size="14.77">20</text><text transform="translate(4013.19,377.03) scale(1.0677,1)" font-size="14.77">40</text><text transform="translate(4142.12,417.51) scale(1.0677,1)" font-size="14.77">40</text><text transform="translate(4075.89,252.31) scale(1.0904,1)" font-size="17.22">845892</text><text transform="translate(4220.9,267.43) scale(1.0215,1)" font-size="14.77">0</text><text transform="translate(4235.67,417.51) scale(1.0215,1)" font-size="14.77">0</text><text transform="translate(4211.68,322.23) scale(1.0731,1)" font-size="14.77">20</text><text transform="translate(4285.81,417.51) scale(1.0731,1)" font-size="14.77">20</text><text transform="translate(4211.77,377.03) scale(1.0677,1)" font-size="14.77">40</text><text transform="translate(4340.7,417.51) scale(1.0677,1)" font-size="14.77">40</text><text transform="translate(4274.47,252.31) scale(1.0942,1)" font-size="17.22">845893</text><text transform="translate(2235.1,462.94) scale(1.0215,1)" font-size="14.77">0</text><text transform="translate(2249.87,613.02) scale(1.0215,1)" font-size="14.77">0</text><text transform="translate(2225.88,517.74) scale(1.0731,1)" font-size="14.77">20</text><text transform="translate(2300.01,613.02) scale(1.0731,1)" font-size="14.77">20</text><text transform="translate(2225.97,572.54) scale(1.0677,1)" font-size="14.77">40</text><text transform="translate(2354.9,613.02) scale(1.0677,1)" font-size="14.77">40</text><text transform="translate(2288.66,447.82) scale(1.0964,1)" font-size="17.22">845894</text><text transform="translate(2433.68,462.94) scale(1.0215,1)" font-size="14.77">0</text><text transform="translate(2448.45,613.02) scale(1.0215,1)" font-size="14.77">0</text><text transform="translate(2424.46,517.74) scale(1.0731,1)" font-size="14.77">20</text><text transform="translate(2498.59,613.02) scale(1.0731,1)" font-size="14.77">20</text><text transform="translate(2424.55,572.54) scale(1.0677,1)" font-size="14.77">40</text><text transform="translate(2553.48,613.02) scale(1.0677,1)" font-size="14.77">40</text><text transform="translate(2487.25,447.82) scale(1.0914,1)" font-size="17.22">845895</text><text transform="translate(2632.26,462.94) scale(1.0215,1)" font-size="14.77">0</text><text transform="translate(2647.03,613.02) scale(1.0215,1)" font-size="14.77">0</text><text transform="translate(2623.04,517.74) scale(1.0731,1)" font-size="14.77">20</text><text transform="translate(2697.17,613.02) scale(1.0731,1)" font-size="14.77">20</text><text transform="translate(2623.13,572.54) scale(1.0677,1)" font-size="14.77">40</text><text transform="translate(2752.06,613.02) scale(1.0677,1)" font-size="14.77">40</text><text transform="translate(2685.82,447.82) scale(1.0993,1)" font-size="17.22">845896</text><text transform="translate(2830.84,462.94) scale(1.0215,1)" font-size="14.77">0</text><text transform="translate(2845.61,613.02) scale(1.0215,1)" font-size="14.77">0</text><text transform="translate(2821.62,517.74) scale(1.0731,1)" font-size="14.77">20</text><text transform="translate(2895.75,613.02) scale(1.0731,1)" font-size="14.77">20</text><text transform="translate(2821.71,572.54) scale(1.0677,1)" font-size="14.77">40</text><text transform="translate(2950.64,613.02) scale(1.0677,1)" font-size="14.77">40</text><text transform="translate(2884.4,447.82) scale(1.0948,1)" font-size="17.22">845897</text><text transform="translate(3029.42,462.94) scale(1.0215,1)" font-size="14.77">0</text><text transform="translate(3044.19,613.02) scale(1.0215,1)" font-size="14.77">0</text><text transform="translate(3020.2,517.74) scale(1.0731,1)" font-size="14.77">20</text><text transform="translate(3094.33,613.02) scale(1.0731,1)" font-size="14.77">20</text><text transform="translate(3020.29,572.54) scale(1.0677,1)" font-size="14.77">40</text><text transform="translate(3149.22,613.02) scale(1.0677,1)" font-size="14.77">40</text><text transform="translate(3082.98,447.82) scale(1.0976,1)" font-size="17.22">845898</text><text transform="translate(3228,462.94) scale(1.0215,1)" font-size="14.77">0</text><text transform="translate(3242.77,613.02) scale(1.0215,1)" font-size="14.77">0</text><text transform="translate(3218.78,517.74) scale(1.0731,1)" font-size="14.77">20</text><text transform="translate(3292.91,613.02) scale(1.0731,1)" font-size="14.77">20</text><text transform="translate(3218.87,572.54) scale(1.0677,1)" font-size="14.77">40</text><text transform="translate(3347.8,613.02) scale(1.0677,1)" font-size="14.77">40</text><text transform="translate(3281.56,447.82) scale(1.0983,1)" font-size="17.22">845899</text><text transform="translate(3426.58,462.94) scale(1.0215,1)" font-size="14.77">0</text><text transform="translate(3441.35,613.02) scale(1.0215,1)" font-size="14.77">0</text><text transform="translate(3417.36,517.74) scale(1.0731,1)" font-size="14.77">20</text><text transform="translate(3491.49,613.02) scale(1.0731,1)" font-size="14.77">20</text><text transform="translate(3417.45,572.54) scale(1.0677,1)" font-size="14.77">40</text><text transform="translate(3546.38,613.02) scale(1.0677,1)" font-size="14.77">40</text><text transform="translate(3480.14,447.82) scale(1.0967,1)" font-size="17.22">845900</text><text transform="translate(3625.16,462.94) scale(1.0215,1)" font-size="14.77">0</text><text transform="translate(3639.93,613.02) scale(1.0215,1)" font-size="14.77">0</text><text transform="translate(3615.94,517.74) scale(1.0731,1)" font-size="14.77">20</text><text transform="translate(3690.07,613.02) scale(1.0731,1)" font-size="14.77">20</text><text transform="translate(3616.03,572.54) scale(1.0677,1)" font-size="14.77">40</text><text transform="translate(3744.96,613.02) scale(1.0677,1)" font-size="14.77">40</text><text transform="translate(3678.73,447.82) scale(1.0922,1)" font-size="17.22">845901</text><text transform="translate(3823.74,462.94) scale(1.0215,1)" font-size="14.77">0</text><text transform="translate(3838.51,613.02) scale(1.0215,1)" font-size="14.77">0</text><text transform="translate(3814.52,517.74) scale(1.0731,1)" font-size="14.77">20</text><text transform="translate(3888.65,613.02) scale(1.0731,1)" font-size="14.77">20</text><text transform="translate(3814.61,572.54) scale(1.0677,1)" font-size="14.77">40</text><text transform="translate(3943.54,613.02) scale(1.0677,1)" font-size="14.77">40</text><text transform="translate(3877.31,447.82) scale(1.0904,1)" font-size="17.22">845902</text><text transform="translate(4022.32,462.94) scale(1.0215,1)" font-size="14.77">0</text><text transform="translate(4037.09,613.02) scale(1.0215,1)" font-size="14.77">0</text><text transform="translate(4013.1,517.74) scale(1.0731,1)" font-size="14.77">20</text><text transform="translate(4087.23,613.02) scale(1.0731,1)" font-size="14.77">20</text><text transform="translate(4013.19,572.54) scale(1.0677,1)" font-size="14.77">40</text><text transform="translate(4142.12,613.02) scale(1.0677,1)" font-size="14.77">40</text><text transform="translate(4075.89,447.82) scale(1.0942,1)" font-size="17.22">845903</text><text transform="translate(4220.9,462.94) scale(1.0215,1)" font-size="14.77">0</text><text transform="translate(4235.67,613.02) scale(1.0215,1)" font-size="14.77">0</text><text transform="translate(4211.68,517.74) scale(1.0731,1)" font-size="14.77">20</text><text transform="translate(4285.81,613.02) scale(1.0731,1)" font-size="14.77">20</text><text transform="translate(4211.77,572.54) scale(1.0677,1)" font-size="14.77">40</text><text transform="translate(4340.7,613.02) scale(1.0677,1)" font-size="14.77">40</text><text transform="translate(4274.46,447.82) scale(1.0964,1)" font-size="17.22">845904</text><text transform="translate(2235.1,658.45) scale(1.0215,1)" font-size="14.77">0</text><text transform="translate(2249.87,808.53) scale(1.0215,1)" font-size="14.77">0</text><text transform="translate(2225.88,713.25) scale(1.0731,1)" font-size="14.77">20</text><text transform="translate(2300.01,808.53) scale(1.0731,1)" font-size="14.77">20</text><text transform="translate(2225.97,768.05) scale(1.0677,1)" font-size="14.77">40</text><text transform="translate(2354.9,808.53) scale(1.0677,1)" font-size="14.77">40</text><text transform="translate(2288.67,643.33) scale(1.0914,1)" font-size="17.22">845905</text><text transform="translate(2433.68,658.45) scale(1.0215,1)" font-size="14.77">0</text><text transform="translate(2448.45,808.53) scale(1.0215,1)" font-size="14.77">0</text><text transform="translate(2424.46,713.25) scale(1.0731,1)" font-size="14.77">20</text><text transform="translate(2498.59,808.53) scale(1.0731,1)" font-size="14.77">20</text><text transform="translate(2424.55,768.05) scale(1.0677,1)" font-size="14.77">40</text><text transform="translate(2553.48,808.53) scale(1.0677,1)" font-size="14.77">40</text><text transform="translate(2487.24,643.33) scale(1.0993,1)" font-size="17.22">845906</text><text transform="translate(2632.26,658.45) scale(1.0215,1)" font-size="14.77">0</text><text transform="translate(2647.03,808.53) scale(1.0215,1)" font-size="14.77">0</text><text transform="translate(2623.04,713.25) scale(1.0731,1)" font-size="14.77">20</text><text transform="translate(2697.17,808.53) scale(1.0731,1)" font-size="14.77">20</text><text transform="translate(2623.13,768.05) scale(1.0677,1)" font-size="14.77">40</text><text transform="translate(2752.06,808.53) scale(1.0677,1)" font-size="14.77">40</text><text transform="translate(2685.82,643.33) scale(1.0948,1)" font-size="17.22">845907</text><text transform="translate(2830.84,658.45) scale(1.0215,1)" font-size="14.77">0</text><text transform="translate(2845.61,808.53) scale(1.0215,1)" font-size="14.77">0</text><text transform="translate(2821.62,713.25) scale(1.0731,1)" font-size="14.77">20</text><text transform="translate(2895.75,808.53) scale(1.0731,1)" font-size="14.77">20</text><text transform="translate(2821.71,768.05) scale(1.0677,1)" font-size="14.77">40</text><text transform="translate(2950.64,808.53) scale(1.0677,1)" font-size="14.77">40</text><text transform="translate(2884.4,643.33) scale(1.0976,1)" font-size="17.22">845908</text><text transform="translate(3029.42,658.45) scale(1.0215,1)" font-size="14.77">0</text><text transform="translate(3044.19,808.53) scale(1.0215,1)" font-size="14.77">0</text><text transform="translate(3020.2,713.25) scale(1.0731,1)" font-size="14.77">20</text><text transform="translate(3094.33,808.53) scale(1.0731,1)" font-size="14.77">20</text><text transform="translate(3020.29,768.05) scale(1.0677,1)" font-size="14.77">40</text><text transform="translate(3149.22,808.53) scale(1.0677,1)" font-size="14.77">40</text><text transform="translate(3082.98,643.33) scale(1.0983,1)" font-size="17.22">845909</text><text transform="translate(3228,658.45) scale(1.0215,1)" font-size="14.77">0</text><text transform="translate(3242.77,808.53) scale(1.0215,1)" font-size="14.77">0</text><text transform="translate(3218.78,713.25) scale(1.0731,1)" font-size="14.77">20</text><text transform="translate(3292.91,808.53) scale(1.0731,1)" font-size="14.77">20</text><text transform="translate(3218.87,768.05) scale(1.0677,1)" font-size="14.77">40</text><text transform="translate(3347.8,808.53) scale(1.0677,1)" font-size="14.77">40</text><text transform="translate(3281.56,643.33) scale(1.0967,1)" font-size="17.22">845910</text><text transform="translate(3426.58,658.45) scale(1.0215,1)" font-size="14.77">0</text><text transform="translate(3441.35,808.53) scale(1.0215,1)" font-size="14.77">0</text><text transform="translate(3417.36,713.25) scale(1.0731,1)" font-size="14.77">20</text><text transform="translate(3491.49,808.53) scale(1.0731,1)" font-size="14.77">20</text><text transform="translate(3417.45,768.05) scale(1.0677,1)" font-size="14.77">40</text><text transform="translate(3546.38,808.53) scale(1.0677,1)" font-size="14.77">40</text><text transform="translate(3480.15,643.33) scale(1.0922,1)" font-size="17.22">845911</text><text transform="translate(3625.16,658.45) scale(1.0215,1)" font-size="14.77">0</text><text transform="translate(3639.93,808.53) scale(1.0215,1)" font-size="14.77">0</text><text transform="translate(3615.94,713.25) scale(1.0731,1)" font-size="14.77">20</text><text transform="translate(3690.07,808.53) scale(1.0731,1)" font-size="14.77">20</text><text transform="translate(3616.03,768.05) scale(1.0677,1)" font-size="14.77">40</text><text transform="translate(3744.96,808.53) scale(1.0677,1)" font-size="14.77">40</text><text transform="translate(3678.73,643.33) scale(1.0904,1)" font-size="17.22">845912</text><text transform="translate(3823.74,658.45) scale(1.0215,1)" font-size="14.77">0</text><text transform="translate(3838.51,808.53) scale(1.0215,1)" font-size="14.77">0</text><text transform="translate(3814.52,713.25) scale(1.0731,1)" font-size="14.77">20</text><text transform="translate(3888.65,808.53) scale(1.0731,1)" font-size="14.77">20</text><text transform="translate(3814.61,768.05) scale(1.0677,1)" font-size="14.77">40</text><text transform="translate(3943.54,808.53) scale(1.0677,1)" font-size="14.77">40</text><text transform="translate(3877.31,643.33) scale(1.0942,1)" font-size="17.22">845913</text><text transform="translate(4022.32,658.45) scale(1.0215,1)" font-size="14.77">0</text><text transform="translate(4037.09,808.53) scale(1.0215,1)" font-size="14.77">0</text><text transform="translate(4013.1,713.25) scale(1.0731,1)" font-size="14.77">20</text><text transform="translate(4087.23,808.53) scale(1.0731,1)" font-size="14.77">20</text><text transform="translate(4013.19,768.05) scale(1.0677,1)" font-size="14.77">40</text><text transform="translate(4142.12,808.53) scale(1.0677,1)" font-size="14.77">40</text><text transform="translate(4075.88,643.33) scale(1.0964,1)" font-size="17.22">845914</text><text transform="translate(4220.9,658.45) scale(1.0215,1)" font-size="14.77">0</text><text transform="translate(4235.67,808.53) scale(1.0215,1)" font-size="14.77">0</text><text transform="translate(4211.68,713.25) scale(1.0731,1)" font-size="14.77">20</text><text transform="translate(4285.81,808.53) scale(1.0731,1)" font-size="14.77">20</text><text transform="translate(4211.77,768.05) scale(1.0677,1)" font-size="14.77">40</text><text transform="translate(4340.7,808.53) scale(1.0677,1)" font-size="14.77">40</text><text transform="translate(4274.47,643.33) scale(1.0914,1)" font-size="17.22">845915</text><text transform="translate(2235.1,853.96) scale(1.0215,1)" font-size="14.77">0</text><text transform="translate(2249.87,1004.04) scale(1.0215,1)" font-size="14.77">0</text><text transform="translate(2225.88,908.76) scale(1.0731,1)" font-size="14.77">20</text><text transform="translate(2300.01,1004.04) scale(1.0731,1)" font-size="14.77">20</text><text transform="translate(2225.97,963.56) scale(1.0677,1)" font-size="14.77">40</text><text transform="translate(2354.9,1004.04) scale(1.0677,1)" font-size="14.77">40</text><text transform="translate(2288.66,838.84) scale(1.0993,1)" font-size="17.22">845916</text><text transform="translate(2433.68,853.96) scale(1.0215,1)" font-size="14.77">0</text><text transform="translate(2448.45,1004.04) scale(1.0215,1)" font-size="14.77">0</text><text transform="translate(2424.46,908.76) scale(1.0731,1)" font-size="14.77">20</text><text transform="translate(2498.59,1004.04) scale(1.0731,1)" font-size="14.77">20</text><text transform="translate(2424.55,963.56) scale(1.0677,1)" font-size="14.77">40</text><text transform="translate(2553.48,1004.04) scale(1.0677,1)" font-size="14.77">40</text><text transform="translate(2487.24,838.84) scale(1.0948,1)" font-size="17.22">845917</text><text transform="translate(2632.26,853.96) scale(1.0215,1)" font-size="14.77">0</text><text transform="translate(2647.03,1004.04) scale(1.0215,1)" font-size="14.77">0</text><text transform="translate(2623.04,908.76) scale(1.0731,1)" font-size="14.77">20</text><text transform="translate(2697.17,1004.04) scale(1.0731,1)" font-size="14.77">20</text><text transform="translate(2623.13,963.56) scale(1.0677,1)" font-size="14.77">40</text><text transform="translate(2752.06,1004.04) scale(1.0677,1)" font-size="14.77">40</text><text transform="translate(2685.82,838.84) scale(1.0976,1)" font-size="17.22">845918</text><text transform="translate(2830.84,853.96) scale(1.0215,1)" font-size="14.77">0</text><text transform="translate(2845.61,1004.04) scale(1.0215,1)" font-size="14.77">0</text><text transform="translate(2821.62,908.76) scale(1.0731,1)" font-size="14.77">20</text><text transform="translate(2895.75,1004.04) scale(1.0731,1)" font-size="14.77">20</text><text transform="translate(2821.71,963.56) scale(1.0677,1)" font-size="14.77">40</text><text transform="translate(2950.64,1004.04) scale(1.0677,1)" font-size="14.77">40</text><text transform="translate(2884.4,838.84) scale(1.0983,1)" font-size="17.22">845919</text><text transform="translate(3029.42,853.96) scale(1.0215,1)" font-size="14.77">0</text><text transform="translate(3044.19,1004.04) scale(1.0215,1)" font-size="14.77">0</text><text transform="translate(3020.2,908.76) scale(1.0731,1)" font-size="14.77">20</text><text transform="translate(3094.33,1004.04) scale(1.0731,1)" font-size="14.77">20</text><text transform="translate(3020.29,963.56) scale(1.0677,1)" font-size="14.77">40</text><text transform="translate(3149.22,1004.04) scale(1.0677,1)" font-size="14.77">40</text><text transform="translate(3082.98,838.84) scale(1.0967,1)" font-size="17.22">845920</text><text transform="translate(3228,853.96) scale(1.0215,1)" font-size="14.77">0</text><text transform="translate(3242.77,1004.04) scale(1.0215,1)" font-size="14.77">0</text><text transform="translate(3218.78,908.76) scale(1.0731,1)" font-size="14.77">20</text><text transform="translate(3292.91,1004.04) scale(1.0731,1)" font-size="14.77">20</text><text transform="translate(3218.87,963.56) scale(1.0677,1)" font-size="14.77">40</text><text transform="translate(3347.8,1004.04) scale(1.0677,1)" font-size="14.77">40</text><text transform="translate(3281.57,838.84) scale(1.0922,1)" font-size="17.22">845921</text><text transform="translate(3426.58,853.96) scale(1.0215,1)" font-size="14.77">0</text><text transform="translate(3441.35,1004.04) scale(1.0215,1)" font-size="14.77">0</text><text transform="translate(3417.36,908.76) scale(1.0731,1)" font-size="14.77">20</text><text transform="translate(3491.49,1004.04) scale(1.0731,1)" font-size="14.77">20</text><text transform="translate(3417.45,963.56) scale(1.0677,1)" font-size="14.77">40</text><text transform="translate(3546.38,1004.04) scale(1.0677,1)" font-size="14.77">40</text><text transform="translate(3480.15,838.84) scale(1.0904,1)" font-size="17.22">845922</text><text transform="translate(3625.16,853.96) scale(1.0215,1)" font-size="14.77">0</text><text transform="translate(3639.93,1004.04) scale(1.0215,1)" font-size="14.77">0</text><text transform="translate(3615.94,908.76) scale(1.0731,1)" font-size="14.77">20</text><text transform="translate(3690.07,1004.04) scale(1.0731,1)" font-size="14.77">20</text><text transform="translate(3616.03,963.56) scale(1.0677,1)" font-size="14.77">40</text><text transform="translate(3744.96,1004.04) scale(1.0677,1)" font-size="14.77">40</text><text transform="translate(3678.73,838.84) scale(1.0942,1)" font-size="17.22">845923</text><text transform="translate(3823.74,853.96) scale(1.0215,1)" font-size="14.77">0</text><text transform="translate(3838.51,1004.04) scale(1.0215,1)" font-size="14.77">0</text><text transform="translate(3814.52,908.76) scale(1.0731,1)" font-size="14.77">20</text><text transform="translate(3888.65,1004.04) scale(1.0731,1)" font-size="14.77">20</text><text transform="translate(3814.61,963.56) scale(1.0677,1)" font-size="14.77">40</text><text transform="translate(3943.54,1004.04) scale(1.0677,1)" font-size="14.77">40</text><text transform="translate(3877.3,838.84) scale(1.0964,1)" font-size="17.22">845924</text><text transform="translate(4022.32,853.96) scale(1.0215,1)" font-size="14.77">0</text><text transform="translate(4037.09,1004.04) scale(1.0215,1)" font-size="14.77">0</text><text transform="translate(4013.1,908.76) scale(1.0731,1)" font-size="14.77">20</text><text transform="translate(4087.23,1004.04) scale(1.0731,1)" font-size="14.77">20</text><text transform="translate(4013.19,963.56) scale(1.0677,1)" font-size="14.77">40</text><text transform="translate(4142.12,1004.04) scale(1.0677,1)" font-size="14.77">40</text><text transform="translate(4075.89,838.84) scale(1.0914,1)" font-size="17.22">845925</text><text transform="translate(4220.9,853.96) scale(1.0215,1)" font-size="14.77">0</text><text transform="translate(4235.67,1004.04) scale(1.0215,1)" font-size="14.77">0</text><text transform="translate(4211.68,908.76) scale(1.0731,1)" font-size="14.77">20</text><text transform="translate(4285.81,1004.04) scale(1.0731,1)" font-size="14.77">20</text><text transform="translate(4211.77,963.56) scale(1.0677,1)" font-size="14.77">40</text><text transform="translate(4340.7,1004.04) scale(1.0677,1)" font-size="14.77">40</text><text transform="translate(4274.46,838.84) scale(1.0993,1)" font-size="17.22">845926</text><text transform="translate(2235.1,1049.47) scale(1.0215,1)" font-size="14.77">0</text><text transform="translate(2249.87,1199.55) scale(1.0215,1)" font-size="14.77">0</text><text transform="translate(2225.88,1104.27) scale(1.0731,1)" font-size="14.77">20</text><text transform="translate(2300.01,1199.55) scale(1.0731,1)" font-size="14.77">20</text><text transform="translate(2225.97,1159.07) scale(1.0677,1)" font-size="14.77">40</text><text transform="translate(2354.9,1199.55) scale(1.0677,1)" font-size="14.77">40</text><text transform="translate(2288.66,1034.35) scale(1.0948,1)" font-size="17.22">845927</text><text transform="translate(2433.68,1049.47) scale(1.0215,1)" font-size="14.77">0</text><text transform="translate(2448.45,1199.55) scale(1.0215,1)" font-size="14.77">0</text><text transform="translate(2424.46,1104.27) scale(1.0731,1)" font-size="14.77">20</text><text transform="translate(2498.59,1199.55) scale(1.0731,1)" font-size="14.77">20</text><text transform="translate(2424.55,1159.07) scale(1.0677,1)" font-size="14.77">40</text><text transform="translate(2553.48,1199.55) scale(1.0677,1)" font-size="14.77">40</text><text transform="translate(2487.24,1034.35) scale(1.0976,1)" font-size="17.22">845928</text><text transform="translate(2632.26,1049.47) scale(1.0215,1)" font-size="14.77">0</text><text transform="translate(2647.03,1199.55) scale(1.0215,1)" font-size="14.77">0</text><text transform="translate(2623.04,1104.27) scale(1.0731,1)" font-size="14.77">20</text><text transform="translate(2697.17,1199.55) scale(1.0731,1)" font-size="14.77">20</text><text transform="translate(2623.13,1159.07) scale(1.0677,1)" font-size="14.77">40</text><text transform="translate(2752.06,1199.55) scale(1.0677,1)" font-size="14.77">40</text><text transform="translate(2685.82,1034.35) scale(1.0983,1)" font-size="17.22">845929</text><text transform="translate(2830.84,1049.47) scale(1.0215,1)" font-size="14.77">0</text><text transform="translate(2845.61,1199.55) scale(1.0215,1)" font-size="14.77">0</text><text transform="translate(2821.62,1104.27) scale(1.0731,1)" font-size="14.77">20</text><text transform="translate(2895.75,1199.55) scale(1.0731,1)" font-size="14.77">20</text><text transform="translate(2821.71,1159.07) scale(1.0677,1)" font-size="14.77">40</text><text transform="translate(2950.64,1199.55) scale(1.0677,1)" font-size="14.77">40</text><text transform="translate(2884.4,1034.35) scale(1.0967,1)" font-size="17.22">845930</text><text transform="translate(3029.42,1049.47) scale(1.0215,1)" font-size="14.77">0</text><text transform="translate(3044.19,1199.55) scale(1.0215,1)" font-size="14.77">0</text><text transform="translate(3020.2,1104.27) scale(1.0731,1)" font-size="14.77">20</text><text transform="translate(3094.33,1199.55) scale(1.0731,1)" font-size="14.77">20</text><text transform="translate(3020.29,1159.07) scale(1.0677,1)" font-size="14.77">40</text><text transform="translate(3149.22,1199.55) scale(1.0677,1)" font-size="14.77">40</text><text transform="translate(3082.99,1034.35) scale(1.0922,1)" font-size="17.22">845931</text><text transform="translate(3228,1049.47) scale(1.0215,1)" font-size="14.77">0</text><text transform="translate(3242.77,1199.55) scale(1.0215,1)" font-size="14.77">0</text><text transform="translate(3218.78,1104.27) scale(1.0731,1)" font-size="14.77">20</text><text transform="translate(3292.91,1199.55) scale(1.0731,1)" font-size="14.77">20</text><text transform="translate(3218.87,1159.07) scale(1.0677,1)" font-size="14.77">40</text><text transform="translate(3347.8,1199.55) scale(1.0677,1)" font-size="14.77">40</text><text transform="translate(3281.57,1034.35) scale(1.0904,1)" font-size="17.22">845932</text><text transform="translate(3426.58,1049.47) scale(1.0215,1)" font-size="14.77">0</text><text transform="translate(3441.35,1199.55) scale(1.0215,1)" font-size="14.77">0</text><text transform="translate(3417.36,1104.27) scale(1.0731,1)" font-size="14.77">20</text><text transform="translate(3491.49,1199.55) scale(1.0731,1)" font-size="14.77">20</text><text transform="translate(3417.45,1159.07) scale(1.0677,1)" font-size="14.77">40</text><text transform="translate(3546.38,1199.55) scale(1.0677,1)" font-size="14.77">40</text><text transform="translate(3480.15,1034.35) scale(1.0942,1)" font-size="17.22">845933</text><text transform="translate(3625.16,1049.47) scale(1.0215,1)" font-size="14.77">0</text><text transform="translate(3639.93,1199.55) scale(1.0215,1)" font-size="14.77">0</text><text transform="translate(3615.94,1104.27) scale(1.0731,1)" font-size="14.77">20</text><text transform="translate(3690.07,1199.55) scale(1.0731,1)" font-size="14.77">20</text><text transform="translate(3616.03,1159.07) scale(1.0677,1)" font-size="14.77">40</text><text transform="translate(3744.96,1199.55) scale(1.0677,1)" font-size="14.77">40</text><text transform="translate(3678.72,1034.35) scale(1.0964,1)" font-size="17.22">845934</text><text transform="translate(3823.74,1049.47) scale(1.0215,1)" font-size="14.77">0</text><text transform="translate(3838.51,1199.55) scale(1.0215,1)" font-size="14.77">0</text><text transform="translate(3814.52,1104.27) scale(1.0731,1)" font-size="14.77">20</text><text transform="translate(3888.65,1199.55) scale(1.0731,1)" font-size="14.77">20</text><text transform="translate(3814.61,1159.07) scale(1.0677,1)" font-size="14.77">40</text><text transform="translate(3943.54,1199.55) scale(1.0677,1)" font-size="14.77">40</text><text transform="translate(3877.31,1034.35) scale(1.0914,1)" font-size="17.22">845935</text><text transform="translate(4022.32,1049.47) scale(1.0215,1)" font-size="14.77">0</text><text transform="translate(4037.09,1199.55) scale(1.0215,1)" font-size="14.77">0</text><text transform="translate(4013.1,1104.27) scale(1.0731,1)" font-size="14.77">20</text><text transform="translate(4087.23,1199.55) scale(1.0731,1)" font-size="14.77">20</text><text transform="translate(4013.19,1159.07) scale(1.0677,1)" font-size="14.77">40</text><text transform="translate(4142.12,1199.55) scale(1.0677,1)" font-size="14.77">40</text><text transform="translate(4075.88,1034.35) scale(1.0993,1)" font-size="17.22">845936</text><text transform="translate(4220.9,1049.47) scale(1.0215,1)" font-size="14.77">0</text><text transform="translate(4235.67,1199.55) scale(1.0215,1)" font-size="14.77">0</text><text transform="translate(4211.68,1104.27) scale(1.0731,1)" font-size="14.77">20</text><text transform="translate(4285.81,1199.55) scale(1.0731,1)" font-size="14.77">20</text><text transform="translate(4211.77,1159.07) scale(1.0677,1)" font-size="14.77">40</text><text transform="translate(4340.7,1199.55) scale(1.0677,1)" font-size="14.77">40</text><text transform="translate(4274.46,1034.35) scale(1.0948,1)" font-size="17.22">845937</text><text transform="translate(2235.1,1244.98) scale(1.0215,1)" font-size="14.77">0</text><text transform="translate(2249.87,1395.06) scale(1.0215,1)" font-size="14.77">0</text><text transform="translate(2225.88,1299.78) scale(1.0731,1)" font-size="14.77">20</text><text transform="translate(2300.01,1395.06) scale(1.0731,1)" font-size="14.77">20</text><text transform="translate(2225.97,1354.58) scale(1.0677,1)" font-size="14.77">40</text><text transform="translate(2354.9,1395.06) scale(1.0677,1)" font-size="14.77">40</text><text transform="translate(2288.66,1229.86) scale(1.0976,1)" font-size="17.22">845938</text><text transform="translate(2433.68,1244.98) scale(1.0215,1)" font-size="14.77">0</text><text transform="translate(2448.45,1395.06) scale(1.0215,1)" font-size="14.77">0</text><text transform="translate(2424.46,1299.78) scale(1.0731,1)" font-size="14.77">20</text><text transform="translate(2498.59,1395.06) scale(1.0731,1)" font-size="14.77">20</text><text transform="translate(2424.55,1354.58) scale(1.0677,1)" font-size="14.77">40</text><text transform="translate(2553.48,1395.06) scale(1.0677,1)" font-size="14.77">40</text><text transform="translate(2487.24,1229.86) scale(1.0983,1)" font-size="17.22">845939</text><text transform="translate(2632.26,1244.98) scale(1.0215,1)" font-size="14.77">0</text><text transform="translate(2647.03,1395.06) scale(1.0215,1)" font-size="14.77">0</text><text transform="translate(2623.04,1299.78) scale(1.0731,1)" font-size="14.77">20</text><text transform="translate(2697.17,1395.06) scale(1.0731,1)" font-size="14.77">20</text><text transform="translate(2623.13,1354.58) scale(1.0677,1)" font-size="14.77">40</text><text transform="translate(2752.06,1395.06) scale(1.0677,1)" font-size="14.77">40</text><text transform="translate(2685.82,1229.86) scale(1.0967,1)" font-size="17.22">845940</text><text transform="translate(2830.84,1244.98) scale(1.0215,1)" font-size="14.77">0</text><text transform="translate(2845.61,1395.06) scale(1.0215,1)" font-size="14.77">0</text><text transform="translate(2821.62,1299.78) scale(1.0731,1)" font-size="14.77">20</text><text transform="translate(2895.75,1395.06) scale(1.0731,1)" font-size="14.77">20</text><text transform="translate(2821.71,1354.58) scale(1.0677,1)" font-size="14.77">40</text><text transform="translate(2950.64,1395.06) scale(1.0677,1)" font-size="14.77">40</text><text transform="translate(2884.41,1229.86) scale(1.0922,1)" font-size="17.22">845941</text><text transform="translate(3029.42,1244.98) scale(1.0215,1)" font-size="14.77">0</text><text transform="translate(3044.19,1395.06) scale(1.0215,1)" font-size="14.77">0</text><text transform="translate(3020.2,1299.78) scale(1.0731,1)" font-size="14.77">20</text><text transform="translate(3094.33,1395.06) scale(1.0731,1)" font-size="14.77">20</text><text transform="translate(3020.29,1354.58) scale(1.0677,1)" font-size="14.77">40</text><text transform="translate(3149.22,1395.06) scale(1.0677,1)" font-size="14.77">40</text><text transform="translate(3082.99,1229.86) scale(1.0904,1)" font-size="17.22">845942</text><text transform="translate(3228,1244.98) scale(1.0215,1)" font-size="14.77">0</text><text transform="translate(3242.77,1395.06) scale(1.0215,1)" font-size="14.77">0</text><text transform="translate(3218.78,1299.78) scale(1.0731,1)" font-size="14.77">20</text><text transform="translate(3292.91,1395.06) scale(1.0731,1)" font-size="14.77">20</text><text transform="translate(3218.87,1354.58) scale(1.0677,1)" font-size="14.77">40</text><text transform="translate(3347.8,1395.06) scale(1.0677,1)" font-size="14.77">40</text><text transform="translate(3281.57,1229.86) scale(1.0942,1)" font-size="17.22">845943</text><text transform="translate(3426.58,1244.98) scale(1.0215,1)" font-size="14.77">0</text><text transform="translate(3441.35,1395.06) scale(1.0215,1)" font-size="14.77">0</text><text transform="translate(3417.36,1299.78) scale(1.0731,1)" font-size="14.77">20</text><text transform="translate(3491.49,1395.06) scale(1.0731,1)" font-size="14.77">20</text><text transform="translate(3417.45,1354.58) scale(1.0677,1)" font-size="14.77">40</text><text transform="translate(3546.38,1395.06) scale(1.0677,1)" font-size="14.77">40</text><text transform="translate(3480.14,1229.86) scale(1.0964,1)" font-size="17.22">845944</text><text transform="translate(3625.16,1244.98) scale(1.0215,1)" font-size="14.77">0</text><text transform="translate(3639.93,1395.06) scale(1.0215,1)" font-size="14.77">0</text><text transform="translate(3615.94,1299.78) scale(1.0731,1)" font-size="14.77">20</text><text transform="translate(3690.07,1395.06) scale(1.0731,1)" font-size="14.77">20</text><text transform="translate(3616.03,1354.58) scale(1.0677,1)" font-size="14.77">40</text><text transform="translate(3744.96,1395.06) scale(1.0677,1)" font-size="14.77">40</text><text transform="translate(3678.73,1229.86) scale(1.0914,1)" font-size="17.22">845945</text><text transform="translate(3823.74,1244.98) scale(1.0215,1)" font-size="14.77">0</text><text transform="translate(3838.51,1395.06) scale(1.0215,1)" font-size="14.77">0</text><text transform="translate(3814.52,1299.78) scale(1.0731,1)" font-size="14.77">20</text><text transform="translate(3888.65,1395.06) scale(1.0731,1)" font-size="14.77">20</text><text transform="translate(3814.61,1354.58) scale(1.0677,1)" font-size="14.77">40</text><text transform="translate(3943.54,1395.06) scale(1.0677,1)" font-size="14.77">40</text><text transform="translate(3877.3,1229.86) scale(1.0993,1)" font-size="17.22">845946</text><text transform="translate(4022.32,1244.98) scale(1.0215,1)" font-size="14.77">0</text><text transform="translate(4037.09,1395.06) scale(1.0215,1)" font-size="14.77">0</text><text transform="translate(4013.1,1299.78) scale(1.0731,1)" font-size="14.77">20</text><text transform="translate(4087.23,1395.06) scale(1.0731,1)" font-size="14.77">20</text><text transform="translate(4013.19,1354.58) scale(1.0677,1)" font-size="14.77">40</text><text transform="translate(4142.12,1395.06) scale(1.0677,1)" font-size="14.77">40</text><text transform="translate(4075.88,1229.86) scale(1.0948,1)" font-size="17.22">845947</text><text transform="translate(4220.9,1244.98) scale(1.0215,1)" font-size="14.77">0</text><text transform="translate(4235.67,1395.06) scale(1.0215,1)" font-size="14.77">0</text><text transform="translate(4211.68,1299.78) scale(1.0731,1)" font-size="14.77">20</text><text transform="translate(4285.81,1395.06) scale(1.0731,1)" font-size="14.77">20</text><text transform="translate(4211.77,1354.58) scale(1.0677,1)" font-size="14.77">40</text><text transform="translate(4340.7,1395.06) scale(1.0677,1)" font-size="14.77">40</text><text transform="translate(4274.46,1229.86) scale(1.0976,1)" font-size="17.22">845948</text><text transform="translate(2235.1,1440.49) scale(1.0215,1)" font-size="14.77">0</text><text transform="translate(2249.87,1590.57) scale(1.0215,1)" font-size="14.77">0</text><text transform="translate(2225.88,1495.29) scale(1.0731,1)" font-size="14.77">20</text><text transform="translate(2300.01,1590.57) scale(1.0731,1)" font-size="14.77">20</text><text transform="translate(2225.97,1550.09) scale(1.0677,1)" font-size="14.77">40</text><text transform="translate(2354.9,1590.57) scale(1.0677,1)" font-size="14.77">40</text><text transform="translate(2288.66,1425.37) scale(1.0983,1)" font-size="17.22">845949</text><text transform="translate(2433.68,1440.49) scale(1.0215,1)" font-size="14.77">0</text><text transform="translate(2448.45,1590.57) scale(1.0215,1)" font-size="14.77">0</text><text transform="translate(2424.46,1495.29) scale(1.0731,1)" font-size="14.77">20</text><text transform="translate(2498.59,1590.57) scale(1.0731,1)" font-size="14.77">20</text><text transform="translate(2424.55,1550.09) scale(1.0677,1)" font-size="14.77">40</text><text transform="translate(2553.48,1590.57) scale(1.0677,1)" font-size="14.77">40</text><text transform="translate(2487.24,1425.37) scale(1.0967,1)" font-size="17.22">845950</text><text transform="translate(2632.26,1440.49) scale(1.0215,1)" font-size="14.77">0</text><text transform="translate(2647.03,1590.57) scale(1.0215,1)" font-size="14.77">0</text><text transform="translate(2623.04,1495.29) scale(1.0731,1)" font-size="14.77">20</text><text transform="translate(2697.17,1590.57) scale(1.0731,1)" font-size="14.77">20</text><text transform="translate(2623.13,1550.09) scale(1.0677,1)" font-size="14.77">40</text><text transform="translate(2752.06,1590.57) scale(1.0677,1)" font-size="14.77">40</text><text transform="translate(2685.83,1425.37) scale(1.0922,1)" font-size="17.22">845951</text><text transform="translate(2830.84,1440.49) scale(1.0215,1)" font-size="14.77">0</text><text transform="translate(2845.61,1590.57) scale(1.0215,1)" font-size="14.77">0</text><text transform="translate(2821.62,1495.29) scale(1.0731,1)" font-size="14.77">20</text><text transform="translate(2895.75,1590.57) scale(1.0731,1)" font-size="14.77">20</text><text transform="translate(2821.71,1550.09) scale(1.0677,1)" font-size="14.77">40</text><text transform="translate(2950.64,1590.57) scale(1.0677,1)" font-size="14.77">40</text><text transform="translate(2884.41,1425.37) scale(1.0904,1)" font-size="17.22">845952</text><text transform="translate(3029.42,1440.49) scale(1.0215,1)" font-size="14.77">0</text><text transform="translate(3044.19,1590.57) scale(1.0215,1)" font-size="14.77">0</text><text transform="translate(3020.2,1495.29) scale(1.0731,1)" font-size="14.77">20</text><text transform="translate(3094.33,1590.57) scale(1.0731,1)" font-size="14.77">20</text><text transform="translate(3020.29,1550.09) scale(1.0677,1)" font-size="14.77">40</text><text transform="translate(3149.22,1590.57) scale(1.0677,1)" font-size="14.77">40</text><text transform="translate(3082.99,1425.37) scale(1.0942,1)" font-size="17.22">845953</text><text transform="translate(3228,1440.49) scale(1.0215,1)" font-size="14.77">0</text><text transform="translate(3242.77,1590.57) scale(1.0215,1)" font-size="14.77">0</text><text transform="translate(3218.78,1495.29) scale(1.0731,1)" font-size="14.77">20</text><text transform="translate(3292.91,1590.57) scale(1.0731,1)" font-size="14.77">20</text><text transform="translate(3218.87,1550.09) scale(1.0677,1)" font-size="14.77">40</text><text transform="translate(3347.8,1590.57) scale(1.0677,1)" font-size="14.77">40</text><text transform="translate(3281.56,1425.37) scale(1.0964,1)" font-size="17.22">845954</text><text transform="translate(3426.58,1440.49) scale(1.0215,1)" font-size="14.77">0</text><text transform="translate(3441.35,1590.57) scale(1.0215,1)" font-size="14.77">0</text><text transform="translate(3417.36,1495.29) scale(1.0731,1)" font-size="14.77">20</text><text transform="translate(3491.49,1590.57) scale(1.0731,1)" font-size="14.77">20</text><text transform="translate(3417.45,1550.09) scale(1.0677,1)" font-size="14.77">40</text><text transform="translate(3546.38,1590.57) scale(1.0677,1)" font-size="14.77">40</text><text transform="translate(3480.15,1425.37) scale(1.0914,1)" font-size="17.22">845955</text><text transform="translate(3625.16,1440.49) scale(1.0215,1)" font-size="14.77">0</text><text transform="translate(3639.93,1590.57) scale(1.0215,1)" font-size="14.77">0</text><text transform="translate(3615.94,1495.29) scale(1.0731,1)" font-size="14.77">20</text><text transform="translate(3690.07,1590.57) scale(1.0731,1)" font-size="14.77">20</text><text transform="translate(3616.03,1550.09) scale(1.0677,1)" font-size="14.77">40</text><text transform="translate(3744.96,1590.57) scale(1.0677,1)" font-size="14.77">40</text><text transform="translate(3678.72,1425.37) scale(1.0993,1)" font-size="17.22">845956</text><text transform="translate(3823.74,1440.49) scale(1.0215,1)" font-size="14.77">0</text><text transform="translate(3838.51,1590.57) scale(1.0215,1)" font-size="14.77">0</text><text transform="translate(3814.52,1495.29) scale(1.0731,1)" font-size="14.77">20</text><text transform="translate(3888.65,1590.57) scale(1.0731,1)" font-size="14.77">20</text><text transform="translate(3814.61,1550.09) scale(1.0677,1)" font-size="14.77">40</text><text transform="translate(3943.54,1590.57) scale(1.0677,1)" font-size="14.77">40</text><text transform="translate(3877.3,1425.37) scale(1.0948,1)" font-size="17.22">845957</text><text transform="translate(4022.32,1440.49) scale(1.0215,1)" font-size="14.77">0</text><text transform="translate(4037.09,1590.57) scale(1.0215,1)" font-size="14.77">0</text><text transform="translate(4013.1,1495.29) scale(1.0731,1)" font-size="14.77">20</text><text transform="translate(4087.23,1590.57) scale(1.0731,1)" font-size="14.77">20</text><text transform="translate(4013.19,1550.09) scale(1.0677,1)" font-size="14.77">40</text><text transform="translate(4142.12,1590.57) scale(1.0677,1)" font-size="14.77">40</text><text transform="translate(4075.88,1425.37) scale(1.0976,1)" font-size="17.22">845958</text><text transform="translate(4220.9,1440.49) scale(1.0215,1)" font-size="14.77">0</text><text transform="translate(4235.67,1590.57) scale(1.0215,1)" font-size="14.77">0</text><text transform="translate(4211.68,1495.29) scale(1.0731,1)" font-size="14.77">20</text><text transform="translate(4285.81,1590.57) scale(1.0731,1)" font-size="14.77">20</text><text transform="translate(4211.77,1550.09) scale(1.0677,1)" font-size="14.77">40</text><text transform="translate(4340.7,1590.57) scale(1.0677,1)" font-size="14.77">40</text><text transform="translate(4274.46,1425.37) scale(1.0983,1)" font-size="17.22">845959</text><text transform="translate(2235.1,1636) scale(1.0215,1)" font-size="14.77">0</text><text transform="translate(2249.87,1786.08) scale(1.0215,1)" font-size="14.77">0</text><text transform="translate(2225.88,1690.8) scale(1.0731,1)" font-size="14.77">20</text><text transform="translate(2300.01,1786.08) scale(1.0731,1)" font-size="14.77">20</text><text transform="translate(2225.97,1745.6) scale(1.0677,1)" font-size="14.77">40</text><text transform="translate(2354.9,1786.08) scale(1.0677,1)" font-size="14.77">40</text><text transform="translate(2288.66,1620.88) scale(1.0967,1)" font-size="17.22">845960</text><text transform="translate(2433.68,1636) scale(1.0215,1)" font-size="14.77">0</text><text transform="translate(2448.45,1786.08) scale(1.0215,1)" font-size="14.77">0</text><text transform="translate(2424.46,1690.8) scale(1.0731,1)" font-size="14.77">20</text><text transform="translate(2498.59,1786.08) scale(1.0731,1)" font-size="14.77">20</text><text transform="translate(2424.55,1745.6) scale(1.0677,1)" font-size="14.77">40</text><text transform="translate(2553.48,1786.08) scale(1.0677,1)" font-size="14.77">40</text><text transform="translate(2487.25,1620.88) scale(1.0922,1)" font-size="17.22">845961</text><text transform="translate(2632.26,1636) scale(1.0215,1)" font-size="14.77">0</text><text transform="translate(2647.03,1786.08) scale(1.0215,1)" font-size="14.77">0</text><text transform="translate(2623.04,1690.8) scale(1.0731,1)" font-size="14.77">20</text><text transform="translate(2697.17,1786.08) scale(1.0731,1)" font-size="14.77">20</text><text transform="translate(2623.13,1745.6) scale(1.0677,1)" font-size="14.77">40</text><text transform="translate(2752.06,1786.08) scale(1.0677,1)" font-size="14.77">40</text><text transform="translate(2685.83,1620.88) scale(1.0904,1)" font-size="17.22">845962</text><text transform="translate(2830.84,1636) scale(1.0215,1)" font-size="14.77">0</text><text transform="translate(2845.61,1786.08) scale(1.0215,1)" font-size="14.77">0</text><text transform="translate(2821.62,1690.8) scale(1.0731,1)" font-size="14.77">20</text><text transform="translate(2895.75,1786.08) scale(1.0731,1)" font-size="14.77">20</text><text transform="translate(2821.71,1745.6) scale(1.0677,1)" font-size="14.77">40</text><text transform="translate(2950.64,1786.08) scale(1.0677,1)" font-size="14.77">40</text><text transform="translate(2884.41,1620.88) scale(1.0942,1)" font-size="17.22">845963</text><text transform="translate(3029.42,1636) scale(1.0215,1)" font-size="14.77">0</text><text transform="translate(3044.19,1786.08) scale(1.0215,1)" font-size="14.77">0</text><text transform="translate(3020.2,1690.8) scale(1.0731,1)" font-size="14.77">20</text><text transform="translate(3094.33,1786.08) scale(1.0731,1)" font-size="14.77">20</text><text transform="translate(3020.29,1745.6) scale(1.0677,1)" font-size="14.77">40</text><text transform="translate(3149.22,1786.08) scale(1.0677,1)" font-size="14.77">40</text><text transform="translate(3082.98,1620.88) scale(1.0964,1)" font-size="17.22">845964</text><text transform="translate(3228,1636) scale(1.0215,1)" font-size="14.77">0</text><text transform="translate(3242.77,1786.08) scale(1.0215,1)" font-size="14.77">0</text><text transform="translate(3218.78,1690.8) scale(1.0731,1)" font-size="14.77">20</text><text transform="translate(3292.91,1786.08) scale(1.0731,1)" font-size="14.77">20</text><text transform="translate(3218.87,1745.6) scale(1.0677,1)" font-size="14.77">40</text><text transform="translate(3347.8,1786.08) scale(1.0677,1)" font-size="14.77">40</text><text transform="translate(3281.57,1620.88) scale(1.0914,1)" font-size="17.22">845965</text><text transform="translate(3426.58,1636) scale(1.0215,1)" font-size="14.77">0</text><text transform="translate(3441.35,1786.08) scale(1.0215,1)" font-size="14.77">0</text><text transform="translate(3417.36,1690.8) scale(1.0731,1)" font-size="14.77">20</text><text transform="translate(3491.49,1786.08) scale(1.0731,1)" font-size="14.77">20</text><text transform="translate(3417.45,1745.6) scale(1.0677,1)" font-size="14.77">40</text><text transform="translate(3546.38,1786.08) scale(1.0677,1)" font-size="14.77">40</text><text transform="translate(3480.14,1620.88) scale(1.0993,1)" font-size="17.22">845966</text><text transform="translate(3625.16,1636) scale(1.0215,1)" font-size="14.77">0</text><text transform="translate(3639.93,1786.08) scale(1.0215,1)" font-size="14.77">0</text><text transform="translate(3615.94,1690.8) scale(1.0731,1)" font-size="14.77">20</text><text transform="translate(3690.07,1786.08) scale(1.0731,1)" font-size="14.77">20</text><text transform="translate(3616.03,1745.6) scale(1.0677,1)" font-size="14.77">40</text><text transform="translate(3744.96,1786.08) scale(1.0677,1)" font-size="14.77">40</text><text transform="translate(3678.72,1620.88) scale(1.0948,1)" font-size="17.22">845967</text><text transform="translate(3823.74,1636) scale(1.0215,1)" font-size="14.77">0</text><text transform="translate(3838.51,1786.08) scale(1.0215,1)" font-size="14.77">0</text><text transform="translate(3814.52,1690.8) scale(1.0731,1)" font-size="14.77">20</text><text transform="translate(3888.65,1786.08) scale(1.0731,1)" font-size="14.77">20</text><text transform="translate(3814.61,1745.6) scale(1.0677,1)" font-size="14.77">40</text><text transform="translate(3943.54,1786.08) scale(1.0677,1)" font-size="14.77">40</text><text transform="translate(3877.3,1620.88) scale(1.0976,1)" font-size="17.22">845968</text><text transform="translate(4022.32,1636) scale(1.0215,1)" font-size="14.77">0</text><text transform="translate(4037.09,1786.08) scale(1.0215,1)" font-size="14.77">0</text><text transform="translate(4013.1,1690.8) scale(1.0731,1)" font-size="14.77">20</text><text transform="translate(4087.23,1786.08) scale(1.0731,1)" font-size="14.77">20</text><text transform="translate(4013.19,1745.6) scale(1.0677,1)" font-size="14.77">40</text><text transform="translate(4142.12,1786.08) scale(1.0677,1)" font-size="14.77">40</text><text transform="translate(4075.88,1620.88) scale(1.0983,1)" font-size="17.22">845969</text><text transform="translate(4220.9,1636) scale(1.0215,1)" font-size="14.77">0</text><text transform="translate(4235.67,1786.08) scale(1.0215,1)" font-size="14.77">0</text><text transform="translate(4211.68,1690.8) scale(1.0731,1)" font-size="14.77">20</text><text transform="translate(4285.81,1786.08) scale(1.0731,1)" font-size="14.77">20</text><text transform="translate(4211.77,1745.6) scale(1.0677,1)" font-size="14.77">40</text><text transform="translate(4340.7,1786.08) scale(1.0677,1)" font-size="14.77">40</text><text transform="translate(4274.46,1620.88) scale(1.0967,1)" font-size="17.22">845970</text><text transform="translate(2235.1,1831.51) scale(1.0215,1)" font-size="14.77">0</text><text transform="translate(2249.87,1981.59) scale(1.0215,1)" font-size="14.77">0</text><text transform="translate(2225.88,1886.31) scale(1.0731,1)" font-size="14.77">20</text><text transform="translate(2300.01,1981.59) scale(1.0731,1)" font-size="14.77">20</text><text transform="translate(2225.97,1941.11) scale(1.0677,1)" font-size="14.77">40</text><text transform="translate(2354.9,1981.59) scale(1.0677,1)" font-size="14.77">40</text><text transform="translate(2288.67,1816.39) scale(1.0922,1)" font-size="17.22">845971</text><text transform="translate(2433.68,1831.51) scale(1.0215,1)" font-size="14.77">0</text><text transform="translate(2448.45,1981.59) scale(1.0215,1)" font-size="14.77">0</text><text transform="translate(2424.46,1886.31) scale(1.0731,1)" font-size="14.77">20</text><text transform="translate(2498.59,1981.59) scale(1.0731,1)" font-size="14.77">20</text><text transform="translate(2424.55,1941.11) scale(1.0677,1)" font-size="14.77">40</text><text transform="translate(2553.48,1981.59) scale(1.0677,1)" font-size="14.77">40</text><text transform="translate(2487.25,1816.39) scale(1.0904,1)" font-size="17.22">845972</text><text transform="translate(2632.26,1831.51) scale(1.0215,1)" font-size="14.77">0</text><text transform="translate(2647.03,1981.59) scale(1.0215,1)" font-size="14.77">0</text><text transform="translate(2623.04,1886.31) scale(1.0731,1)" font-size="14.77">20</text><text transform="translate(2697.17,1981.59) scale(1.0731,1)" font-size="14.77">20</text><text transform="translate(2623.13,1941.11) scale(1.0677,1)" font-size="14.77">40</text><text transform="translate(2752.06,1981.59) scale(1.0677,1)" font-size="14.77">40</text><text transform="translate(2685.83,1816.39) scale(1.0942,1)" font-size="17.22">845973</text><text transform="translate(2830.84,1831.51) scale(1.0215,1)" font-size="14.77">0</text><text transform="translate(2845.61,1981.59) scale(1.0215,1)" font-size="14.77">0</text><text transform="translate(2821.62,1886.31) scale(1.0731,1)" font-size="14.77">20</text><text transform="translate(2895.75,1981.59) scale(1.0731,1)" font-size="14.77">20</text><text transform="translate(2821.71,1941.11) scale(1.0677,1)" font-size="14.77">40</text><text transform="translate(2950.64,1981.59) scale(1.0677,1)" font-size="14.77">40</text><text transform="translate(2884.4,1816.39) scale(1.0964,1)" font-size="17.22">845974</text><text transform="translate(3029.42,1831.51) scale(1.0215,1)" font-size="14.77">0</text><text transform="translate(3044.19,1981.59) scale(1.0215,1)" font-size="14.77">0</text><text transform="translate(3020.2,1886.31) scale(1.0731,1)" font-size="14.77">20</text><text transform="translate(3094.33,1981.59) scale(1.0731,1)" font-size="14.77">20</text><text transform="translate(3020.29,1941.11) scale(1.0677,1)" font-size="14.77">40</text><text transform="translate(3149.22,1981.59) scale(1.0677,1)" font-size="14.77">40</text><text transform="translate(3082.99,1816.39) scale(1.0914,1)" font-size="17.22">845975</text>
<text transform="translate(3264.01,51.3) scale(1.1999,1)" font-size="15.46">cluster 1</text>
</svg></body></html>
